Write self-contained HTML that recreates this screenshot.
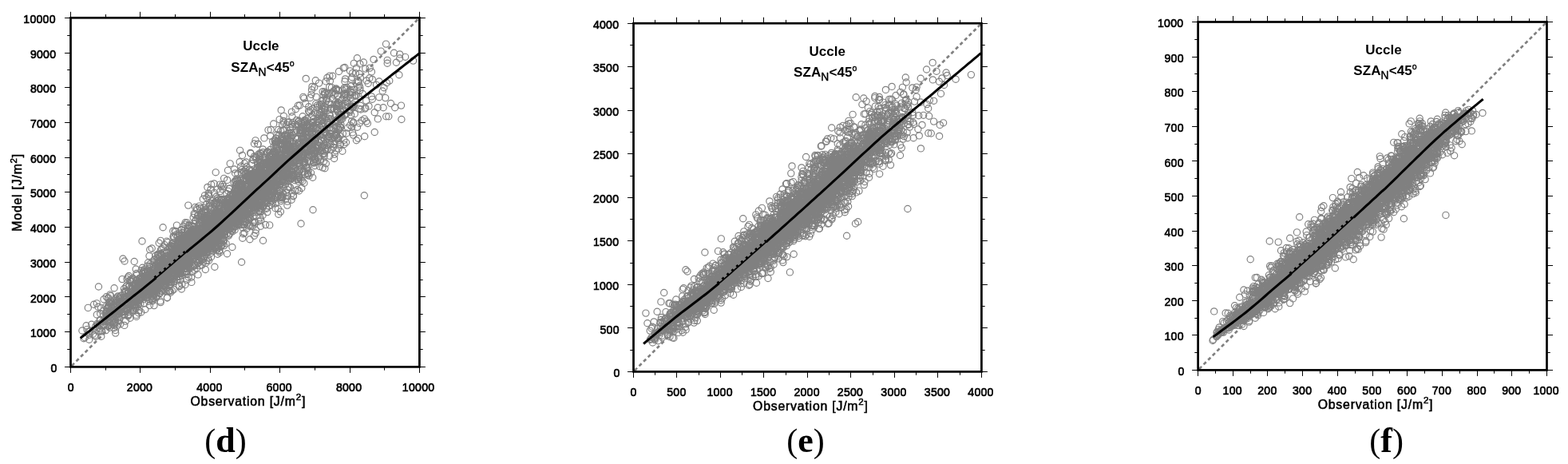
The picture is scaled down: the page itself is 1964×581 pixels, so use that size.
<!DOCTYPE html>
<html lang="en">
<head>
<meta charset="utf-8">
<title>Uccle model vs observation scatter plots (d)-(f)</title>
<style>
html,body{margin:0;padding:0;background:#fff;}
body{width:1964px;height:581px;overflow:hidden;}
svg{display:block;}
text{font-family:"Liberation Sans",Arial,Helvetica,sans-serif;fill:#000;}
.tl text{font-size:15.3px;letter-spacing:0.3px;stroke:#000;stroke-width:0.7px;}
.at{font-size:15.8px;letter-spacing:0.8px;stroke:#000;stroke-width:0.55px;}
.at .sup{font-size:11.5px;}
.an{font-size:17px;font-weight:bold;}
.an.sz{letter-spacing:0.1px;}
.an .sub{font-size:13.8px;font-weight:normal;stroke:#000;stroke-width:0.45px;}
.an .deg{font-size:10.5px;font-weight:normal;stroke:#000;stroke-width:0.4px;}
.cap{font-family:"Liberation Serif","Times New Roman",serif;font-size:42px;}
.cap .b{font-weight:bold;font-size:44px;}
</style>
</head>
<body>
<svg width="1964" height="581" viewBox="0 0 1964 581">
<defs>
<marker id="m" markerUnits="userSpaceOnUse" markerWidth="12" markerHeight="12" refX="6" refY="6" viewBox="0 0 12 12" overflow="visible"><circle cx="6" cy="6" r="4.1" fill="none" stroke="#808080" stroke-width="1.15"/></marker>
</defs>
<rect width="1964" height="581" fill="#fff"/>
<g id="plot-d">
<line x1="88.5" y1="459.4" x2="525.4" y2="22.3" stroke="#808080" stroke-width="2.7" stroke-dasharray="4.4 3.5" stroke-dashoffset="-2"/>
<path d="M309.6,253.2 297.6,272.8 292.3,251.7 349.7,214.3 264,305.7 249.5,309 288.2,204.8 270.3,310 219.3,322.6 200.4,321.6 347,185.5 499.9,93.7 247.3,318.1 339,218.7 189.6,353.8 324.7,222.5 167.2,388.9 212.9,334.7 296.5,260.1 389.1,181.8 190.4,347 350.1,149.6 364.4,185.5 249.4,258.1 293.6,241.7 218.2,297.7 304.6,241.5 209.9,303.6 284,251.6 442.2,130.6 358.9,174.9 291.3,262.6 193.7,351.7 284.6,279.3 242.7,311.2 390.6,192.8 330.8,212.1 156,372.7 330.1,226 420.8,169.4 143,407.2 137.5,403.9 403.3,126.2 261.4,277 250.1,291.5 401.3,174.9 263.9,237.4 380.8,186.7 288.4,261.6 230.9,318.2 372,156.9 226,320.6 352.9,217.8 215.6,364 352.7,227.8 236.5,281.7 299.7,259.6 253.5,267.2 268.3,296.1 224.2,322.6 326.1,265.1 302.1,215.8 451.4,97.2 232.9,340.5 249.9,291 192.1,355.1 303.6,271 233.2,339.4 367.3,207.5 324.5,240.6 243.8,338.2 386.7,133.7 152.7,376.6 307.9,226.6 419.9,159.9 274.4,256.7 369.1,186.6 254.2,305 319.9,197 137.9,394.1 191.4,341.6 416.5,116.3 284.8,271.6 132.7,392.6 379.1,145.7 188.7,364.7 447.5,159.3 214.1,328.4 237.3,316.8 241.2,312.1 315.4,249.3 195.6,341.1 208.5,325.2 395.6,188.7 374.9,215 253.2,283.4 294.8,245 210.9,342.6 303.7,254.3 276.1,277.1 369.3,193.9 180.2,365.3 228.8,327.8 259.8,303 300.6,266.2 440.8,159.3 332.7,205.5 295.6,262 309.6,262.4 250.9,309.3 327.9,255.8 347.4,247.1 209,346.7 302.1,281.4 225.7,311.1 363.5,234.5 219.2,337.9 209.1,316.5 389.2,177.6 269.1,294.9 348.7,226.3 403.9,154.9 392.7,202.3 320.7,219.3 411.5,170.5 173.1,368.5 300.6,249.3 216.1,309.6 252.9,299.3 228.9,315.4 184.4,362.4 270.7,246.5 299.7,261.3 338.1,200.9 257.2,265.5 462.9,97.7 319.2,278.4 425.7,158 326.2,220.3 338.5,209.2 189.5,340.9 244.7,313.1 262.9,293.8 239.2,298 351.4,237.4 276.7,293.8 305.1,252.8 366.9,218.7 323,180.3 234.3,327.2 363.2,200.5 269.4,311 482.7,122.6 231.4,323.5 206.2,347.2 229.5,331.7 238.3,303.8 348.8,268.2 261.5,302.5 298.7,274.7 295.3,272.1 267.6,297.5 388.4,122.4 274.7,286.6 300.9,248.2 349.6,218.4 143.1,392.3 254,299.8 333.9,261.2 280.6,263.3 423.3,172.3 296,233.1 319.8,222.3 194.3,347.6 218,345 322.7,209.4 242.7,298.8 338.4,219 397.3,151.6 175.4,363.8 303.4,270 203.5,332.6 377.8,192.9 359.2,216 227.8,319.7 275.7,270 346.3,195.8 362.5,219 259.8,297.4 360.2,222.7 253.7,297.6 313.7,261.3 122.2,407 196.7,362.1 258.2,262.9 414.3,168.1 158.5,377.7 372.2,224.6 297.2,267.6 245.2,289.2 250.6,260.7 295.6,260.3 370.3,182.9 304,263.4 206.8,343.9 260.1,273.5 369.3,239.1 305.1,238 348.1,191.1 353.6,208.6 367.8,220.7 411.4,148.2 304.5,260 138,396.9 210.9,326.6 391.9,171.4 226.3,312.4 251.7,308.4 253.8,311.6 190.2,311 189.3,358.2 217.9,335.8 222.6,325.8 364.8,220.4 250.1,280 277.1,277 269.1,253.4 333.5,228.5 361.8,153 269.9,280.8 205.5,349.4 361.1,193.8 237.1,310.8 277.2,303.9 159.1,370.7 320,226.3 265.7,296.3 213.9,355.9 318.5,277.6 192.8,345 352.9,170.5 330.9,172.9 190.4,354.5 356.6,177.8 479.2,114 145.9,392.4 421.2,131.9 326.6,265.8 172.1,364.8 303.5,194.4 157.6,375.1 169.9,380.8 232.5,316.1 310.5,233.7 273.9,249.8 289.1,267.4 147.2,372.1 314.1,237.1 215.6,325.5 328.7,258.1 111.6,415.6 286,255.8 298.8,266.2 222,343 165.8,361.6 293.7,274.1 185.5,352 237.3,308.6 425.6,149.8 278.7,237 263.7,293.1 342.7,200.8 240.3,312.7 201.6,351 335.2,190.2 460.4,154.5 205.7,324.8 314.3,251.4 394.1,193.5 338.6,191.4 298.6,247.6 123.5,359 222.7,303.6 242.6,310.3 246.3,298 365.1,205.2 183.8,350.2 379.4,163.7 226.9,316.2 202.6,342.8 227.6,320.9 149.2,382 135.9,401.8 145.3,374 340.4,203.1 234.6,328.4 142.5,410.8 307.6,274.5 391,108.4 104.9,423.7 450.3,154.2 293.1,228.4 456.3,244.7 218,331.1 404.3,192.6 352.7,214.5 293.8,263 227.8,326.4 221.7,341 407.3,116.5 339.3,215.4 359.9,237.4 433.9,167 204.1,284.7 225.5,309 290.2,268.2 227.3,300.8 222.4,329.9 161.5,358.7 303.8,298.2 196.7,365.7 357.8,186 195.2,345.7 342.3,231.6 353.4,183.5 187.7,312.5 282.1,257.2 281.7,272.9 166.8,369.9 311.2,262.3 162.4,351.8 353.7,156.1 286.8,278.8 338.1,224.5 421.4,168.5 325.9,215.2 134.2,385.8 164.5,350.2 239.1,298.6 209.5,315.8 379.8,182.8 179.8,350.7 297.3,279.5 404.8,172.6 381.9,202.6 258.7,299.1 277,284.5 270.2,215.8 366.6,208.4 277.5,269.9 298.8,261.1 227.4,305.3 193.8,356.6 288.4,278 281.4,294.1 257.6,298 190,363.8 312.5,260.7 279.6,301.3 328.3,221.7 121.3,394 394.6,173 350.1,197.3 311,249.7 239.7,347.2 339.9,213.9 152.8,384.8 174.1,348.8 256.9,298.7 415.2,136.2 236.5,330.4 276.4,309.2 161.4,345.5 243.1,267.5 310.4,254.2 147.1,388.8 330.2,218.4 276.9,271.5 345.2,254.8 197.4,350.7 376.6,153.4 263.8,281 222.1,325.3 272.3,237 233.6,325.7 272.6,248.3 176,363.6 354.6,207.5 200,358.2 346,231 412.9,141.8 224,338.4 263.4,274.9 231.6,335.7 351.6,246.3 343.1,228.5 372.5,224.4 281.6,290.7 289.5,251.6 226.4,337.4 337.7,281.9 419.1,193.1 219.4,330.4 299.7,258.2 185.5,329 251.1,299.2 367.6,189.9 420.4,151.3 290.2,265.8 292.8,279 271.1,270.6 367.9,198 356.1,210.7 151.3,370.3 178.6,353.6 276.4,285.8 343.7,218.6 355.5,203.4 312.7,260.5 258.5,256.3 271.7,255.7 335.4,221.9 211.4,332 189.7,346.7 347.5,205.1 264.3,275.6 361.2,180.5 473.3,148.9 207.4,351.5 187.5,358.6 257.8,329.3 299.4,269.6 197.4,339.5 303.1,241 229.5,309.4 226.4,330.4 362.7,183.4 331.7,209.3 201.2,378.6 241.4,315.1 248.6,329 252,288 198,352.7 229.8,332.5 289.3,252.2 200.4,330.5 238.5,293.1 204.7,352.2 241.7,294.6 355.4,145.3 194.5,365.5 233.7,298.9 370.2,166.1 412.8,143.6 406.2,195.4 269.6,297.6 275.7,286.4 171.4,351.4 313.7,191.4 152,391 406.4,192.1 229.2,316.1 277.1,277.5 228.1,309.8 406.6,189.1 357.8,214.3 190,358.5 381.9,187 312.5,240.3 266.7,288 315.3,253.9 252.6,325.6 318.4,262.3 111.7,425.3 338.4,222.4 197.8,355.7 292.6,242.8 342.7,248.8 355.5,153.8 358.6,204.1 194.2,334.3 264.5,296.2 226.6,340 150.8,405.7 366.5,169.4 169,355.3 166.3,361.9 320.7,239.6 208.9,337.9 285.6,258.9 303.5,263.5 246,309.3 214.7,320.5 214,308.3 271,282.5 339,203.7 417.6,184.2 281.1,277.5 235.7,306.2 226.3,328.1 333.5,247.7 148.2,392.8 335.8,222 330.6,234.5 313.9,253.4 315.2,240.8 280.8,285.6 188,362 224.4,292 207.5,331.2 291.2,274.1 147.6,383.1 292.2,283.7 189.4,346.1 215.7,333.5 270.8,284.2 342.8,239.2 349.4,237.6 133.8,396.5 206.9,345.1 197.4,361.6 208.8,329.2 318.3,259.4 217.9,320.8 256.3,311.7 157.1,390.5 208.4,325.7 254.1,291.2 316.9,221.2 230.6,320.9 277.8,287.8 306,238.8 352.7,172.6 146.4,383.4 323.5,232.4 439.9,99.1 381.6,185.2 351.4,265.1 315.5,257.5 300.2,250.3 314.3,242.5 234.8,289.1 326.1,227.8 263.2,262.9 361.7,205.3 231.1,322.3 318.6,229.5 258.9,289.4 340.1,237.9 311.9,238.9 314.5,241.1 262.3,300 239.9,320.8 268,286.8 202.4,350.6 153.6,376.6 175.7,364.1 197.3,350.1 443.7,112.2 335.9,222.6 378.3,183.2 265.4,297.9 246.8,298.7 387.1,178.1 208.6,320.9 243.6,314.3 211.6,340.4 385.2,217.9 216.2,305.4 188.1,368.6 187,360 390.7,167.2 260.2,281.8 226,350 375.2,213.1 221.7,332.9 390.9,153.7 232.9,309.6 404.6,181.8 435.6,160.1 249.4,326.6 276.5,266.8 391.6,176.6 304.2,285.2 297.1,255.7 192.8,345.5 323.1,237.6 334.4,232.9 313.1,212.4 257.1,296.8 285.6,258.2 310.8,267.1 332.2,230.4 192.2,369 296,230.5 314.5,218.6 379.1,165.9 254.7,324.1 296.5,279.3 323.6,193.2 332.7,222.9 352,244 423.7,173.7 198.3,335.8 258.7,284.9 375.9,199.8 182.7,363.4 233.5,329.1 366.4,196.4 327.3,208.6 186.2,361.3 170,372.4 446.5,85.1 210.8,346.9 280.8,259 324.1,277.3 234.2,295.1 258.5,301.7 203.5,350.1 325.7,204.6 286.5,284.4 266.4,294.2 240.2,340.8 432,117 438.2,140.3 374.1,197 371.4,194.8 293.5,212 192.1,336.7 427.2,149.8 268.2,254.9 253.3,291.7 244.8,308.2 234.3,301 316.9,271.3 184.2,350.5 142.2,404.8 310.9,248.5 237,309.8 241.9,299.2 326.5,260.1 329.2,186.9 317.5,216.3 353.6,227.3 188.6,348.1 214.6,330.4 281,289.9 218.3,336.5 399.6,104.1 411.5,127.7 392.6,149.2 317.5,246.5 377.5,174.5 226.1,307 266.2,267.4 189.6,353.7 368.5,206.9 274.9,265.6 227.4,345.1 329.1,269.5 231.8,287.9 247.4,299.4 256.5,292.4 350.3,231.8 238.2,311.8 298.9,241.4 220.4,294 194.9,354.9 125.9,401 381.6,185.2 226.7,332 334,227.3 441.6,165.9 313.5,251.7 397.6,185.1 149.7,400.3 197.8,318.3 358.3,178.6 356.8,181.8 281.9,290.9 282.8,269.3 386.4,154.9 372.8,190.6 404,144.9 296.4,274.3 176.6,368.5 355.1,228.3 284,278.3 220.6,329.6 341.7,177.1 366.1,215 341.3,210.8 222.1,297.5 423.5,140.2 222.4,305.5 423.4,112.8 448.6,173.3 332.4,246.6 348.9,223 252.9,303.2 258,266.4 278.9,280 312.6,257.5 246.4,302.3 193.2,350 423.7,128.4 326.6,227 231.7,311.8 454.3,117.5 183.9,358.2 363.8,197.1 272.9,292.5 356.2,201.3 230.7,313.8 234.2,295.8 178.1,349.8 255.4,301.8 328.9,233.4 302.5,253.2 186.9,357.1 191.8,344.5 250.7,304.5 326.3,244.3 181.9,362.5 345.5,173.6 269.7,299.8 139.9,390.1 232.7,317.5 362.4,207.8 310.4,259.9 367.2,196.8 240.5,308.5 147.1,392.4 319.7,229.4 232.1,278.7 163,384.5 352.5,183.4 221.4,282.1 337.4,195.5 340.5,221.7 329.1,224.2 250.5,296.6 258.6,272.5 263.3,305.7 290.4,283.5 193,328.1 420.7,188.8 449.8,136.1 186.6,359.5 231.4,294.5 145.9,376.5 295.8,278.9 182.5,348.8 139.2,391.5 231.7,297.7 382,168 140.5,386.2 356.7,168.9 274.1,308.7 363.4,179.9 320.2,246 300.2,255 188.6,367 432.8,135.5 343.3,249.7 200.1,367.7 403.7,158.1 257.3,337.5 379,161.7 423.3,140.1 405.3,169.2 297.1,267.2 217.5,306.7 418.1,118.7 312.3,247.4 216.7,340.1 298.5,257.1 114.7,406.2 297.6,270.3 320.1,241.2 424.9,162.4 338.6,170.2 281.2,254.1 241.9,296.2 252.1,315.7 237.6,294.6 183.6,356.9 251,309.2 344.3,197.2 338.8,199.6 211.4,338.7 351,206.4 354.2,225.7 404.1,114.7 259,314.3 189.3,358.9 320.3,265.6 285.5,266.8 397.4,134.5 332.8,219.9 132.7,383.9 149.5,374.5 344,229.1 438.9,122.5 325,194.6 254.3,303.7 271.2,279.7 251.6,301.4 238.9,318.2 294.4,239.2 326.3,220.5 340.6,192.9 298.9,280.6 350.2,206.8 338.6,211.3 245.5,300.3 283.2,278 156.1,364.9 330.9,241.8 359.6,192.9 338.3,221.6 316.6,283.1 254.9,306 322.8,241.4 231.9,356.4 257.3,262 336.3,227.5 303.5,262.4 292.6,279 260.5,283.7 216.8,326.5 344.7,228.6 202.6,336.2 257.4,301.2 234.4,322.5 295.3,263 290.3,254.7 327.9,215.5 395,198.2 261.6,243.6 343.4,198.8 191.6,346.5 261,295.2 344.1,213.4 184.6,356.7 183.5,348.3 299.9,259.7 192.8,367.4 379.7,170.4 242.6,305.2 256.5,313.8 227.4,362 392.3,203.8 239.2,305.7 290.3,273.5 316.3,232.9 152.8,379.2 305.4,225.1 272.5,279.7 234.5,319 364,162.8 365,170.6 413.3,167.1 167.6,388.1 344,215.7 331,224.6 264.5,262.4 256.1,311.2 339.4,210.7 265.9,288.5 323.9,221.5 243.6,298.4 275.8,282.9 174.7,370.2 318.7,251.8 321.6,246.2 465.4,89.9 305,252 301.2,265.5 245.5,314.1 137.7,379.2 265.9,279.7 213.6,323.9 381.3,193.8 496.4,78.2 442.2,134.2 327.1,246.4 250.6,300.6 328.9,216.6 260.1,287 241,315.6 342.3,208.9 444.8,119.2 210.6,353.4 214.3,322.7 313.1,274 344.1,191.6 220.9,322.9 385.1,157.1 400.3,208.4 333.5,260.2 196.1,346.3 153.5,377.4 426.4,180.5 385.5,216.8 320.5,249.5 311.4,225.2 207.8,344.1 230.8,294.9 269.4,308.2 254.3,300 274.4,273.7 376.2,211.6 234.3,319.6 420.8,112.4 158,373.4 232.4,301.9 439.6,108 164.8,352.7 169.1,370.7 315.9,230.3 355,163.6 286.8,278.1 271.6,308.6 431.6,142.9 229.6,283.4 338.4,187.5 299.1,252.8 438.5,156.8 177.9,351.6 347.2,204.1 179.1,341 298.3,235.9 354.5,197.6 200.4,332 339.1,251.8 322.2,244.4 254.9,301.7 346.2,214.7 272.5,297.6 418.6,177.6 202.6,334.7 325.5,195.9 256.6,288.3 382.8,207.4 210.9,337.3 423.8,131.5 330.1,238.9 221,336.1 211.6,350.7 213,364.2 353.5,206.7 224.5,335.7 199.1,318.6 332.7,208.1 301.2,261.7 420.2,152.4 229.8,325.2 157.4,402.1 308.2,255.2 344.6,246.9 330.2,239.4 438.9,115.1 207.3,339.7 255.9,321 196.8,345.7 204.7,335.5 195,344 295.2,244.2 430.9,119 289.7,273.1 365.7,219.7 258.7,316.7 238.5,298 271,290.6 325.1,209.2 351.1,237.9 344.8,234.7 130.4,406.7 282.5,249.5 415,130.8 324.2,213.4 146.6,389.8 227.9,356 180.6,339.4 316.4,230.4 133.8,402.2 393.1,188.8 350.5,218.9 291.2,265.6 194.3,349.9 272.5,292.7 223.9,336.3 424.5,89.5 169.5,374.3 373.9,187.7 126.5,385.6 373.3,217.1 140.1,394.7 343.1,239.2 283.1,304.9 350,191.1 391.2,160.8 259.9,296.2 281.2,293.7 404.9,125.2 252.4,266.2 317.1,229.9 298.9,259.8 224.3,324.7 323.9,255.9 217.4,332.2 206.1,341.1 265.8,282.1 329.7,258.6 351.9,194.7 229,302.8 300.3,264.9 343.5,228.6 220.8,327.3 215.1,327.2 323.7,239.3 268.1,277.3 281.3,280.6 367.9,197.3 234.6,306.1 184.1,353.1 249.1,308.9 247.1,300 274.9,313.6 229.2,329.3 336.7,258 275.5,231.1 245.8,292.5 385.2,159.9 264.5,308.6 196.9,356.6 249.5,313 302.5,270.2 234.4,324.3 318.6,241.5 400.4,140.9 406.5,115 384.7,197.2 149.4,372.9 116.5,418.3 363.4,169.8 236.2,330 148.3,397.4 354.4,172.9 416.6,95.2 420.3,117.4 311.5,242.7 386.9,178.7 178.7,372.2 280.3,279.5 330.9,221.9 395.4,161 338.9,217.8 228,291.8 249.6,310.4 129.4,406.1 221.6,347 178.3,342.3 301.9,270.3 474.9,102 338.9,203.2 228.7,341.8 360.7,218.2 440.6,151.8 410.1,153.4 179.1,374.8 304.2,237 247.5,295.5 367.9,203.2 213.6,366.2 244.7,318.7 463.2,85.1 254.7,303.8 248.1,294.6 226.1,323.5 340.4,208 198.8,350.7 198.5,350.3 186.8,364.8 222.7,338.9 314.7,243.4 415.4,109.6 206,347.5 457.7,86.1 334.6,202.6 196,350.6 337,237.3 367.6,198.4 402.4,130.5 307,261.3 380.1,153.2 154.4,393.2 385.1,157.9 229.3,305.7 202.3,339.8 294.2,270.9 393.7,109.2 221.5,349.8 350,214.6 295.6,258.9 173.5,391.7 211,342.4 273.3,283.7 294,253.4 333.2,243 367.6,219 339.7,194.3 279.9,261.9 137,394.7 308.7,253.5 171.8,378.8 231,340.5 465.4,120.9 233.6,307.8 291,276.1 235.2,297.9 342.6,233.7 428.9,189.2 225.4,321.1 432.8,112 399.8,178.5 192.5,349.2 394,173.5 322.9,260.2 192.2,351.4 295.2,231.7 188,359.9 233.3,322.5 203.2,335.1 379,190.6 263.3,270.7 216.4,320.8 378.4,211.3 328.5,236.1 323.6,229.5 176.9,368 311.3,251.8 142.1,396.9 232.5,299.2 296,245.5 242.9,303.5 218.4,329.3 202.4,346.7 212.8,353.1 365.3,140.1 214.6,353 234.1,326.6 294.7,267 305.1,216 382.1,218.1 406.9,210.8 272.8,301.6 202.8,318.8 194.7,320.3 163.3,388.5 234.5,297.7 320.4,222.7 309.4,232.4 284.6,285.6 402.7,144.3 264.7,231 281.5,257.1 156,366.6 377.7,197.7 172,360.6 272.1,268.6 220.1,327.9 385.3,210.7 205,358.2 378.9,196.7 318.7,195.6 330.5,240.6 311.1,251.2 191.5,370.8 157.7,373.3 381.5,151.9 193,349 247.8,294.2 275,266 336.5,221.2 502.9,149.5 229.8,336.2 334.1,240.2 283.4,269.7 279.7,284.5 352.1,212 313.8,218.7 364.5,193.5 397.4,190 298.6,257.4 274,291.6 291.2,262.6 326.4,236.2 365.2,242.4 338.8,237.5 259.9,234.4 343.4,240.3 322.3,240.3 189.5,351.8 366.4,195.6 226,309.5 204,316.5 431.2,117.8 170.1,362.2 410.2,117.8 391,174.1 339.6,238.5 339.5,215.2 243.1,312.7 160.1,395.6 315.1,230.3 206.7,359.4 164.8,373.8 284.9,281.2 238.4,313.5 231.2,299.1 203.5,325.7 375.5,201.8 189.3,342.4 360,191.5 326.2,222 306.9,246.8 302.1,243.8 250.2,332.5 275.9,273.6 409.5,150.9 306.6,262.7 253,331.9 421,110.9 248.1,289.6 230.6,303 255.2,304.7 259.7,308.1 387.7,176.1 134,402.1 294.6,256.2 345.5,205 330.2,216.7 168.6,372.2 205.6,351.8 156.7,371.1 302.1,243.5 395.5,172.9 187,320.5 337.7,228.9 381.6,202.8 271.2,285.7 356.3,219.1 137.9,368.9 209.5,337.4 443.3,79.3 284.1,292.6 192.9,354.6 322.9,202.3 190.5,342.1 318.1,224.4 205,329.4 166.5,385.8 160.2,364.2 239.5,313.4 375,222.2 226.8,322.4 466.3,99.4 348.8,162.5 294.9,265.4 273.3,306.4 329.5,204.7 319.6,243.6 174.1,355 331.7,237.8 219,335 228.4,326.8 288.7,262.9 366.7,153.3 260,275.1 389.5,187.4 389.6,180.2 261.7,301 124.8,411.4 322.8,219.3 239.9,353.4 246.5,300.9 287.3,248.5 171.6,376.8 277.5,291.9 314.9,204.7 374.2,224.9 278.4,277.3 281,288.6 331.2,228.9 234.5,340 169.6,378.8 275.2,295.5 241,289.6 209.4,335.4 327.9,233.1 179.9,357.8 392.1,153.2 301.7,208.2 381.5,150.3 163.8,374.1 266.6,290.6 339.9,203.9 243.4,315.1 385,169.2 417.8,180.2 322,225 347.7,176.9 360.4,182.5 325.1,212 173.9,357.7 217.2,295.7 271,289.6 401,202.1 270.3,274.9 319,240.9 232.4,309.3 338.2,216.2 344.8,208.8 341,205.1 238.3,301.5 208.1,320.9 318.6,253.3 149.5,374.7 219.8,290.2 394.9,173.5 435.1,128.1 422.2,137.1 234.1,332.4 287.2,274.1 133.2,371.8 188.5,353.8 375.4,132 135.8,372.9 404.1,148 386.7,172.8 312.7,251.5 298.5,231.8 278.6,288.5 232.9,322.8 297.2,270.2 267.4,288.5 483.7,145.8 296.8,224 305,267.4 274.5,260.8 276.4,273 151.6,387.2 397.6,142.3 326.8,237.2 242.2,272.4 291.3,276.7 247.5,329.2 339.7,209.5 322.6,237.7 290.8,270.3 355.9,225.5 353.7,247.9 297.1,274.8 217.9,328.6 134.8,386.2 268.2,229.9 238.4,334.6 166.9,375.7 391.7,222.3 322.8,219.1 290.5,269.5 338.7,224.2 284.5,256.3 410.8,186.7 406.9,117.7 246,287.4 326.8,249.2 354.9,202.3 295.7,268.2 220.7,322.2 330.7,239.8 344.6,232.1 415,187.4 248.4,318.6 227.6,332.2 395.9,202.5 451.9,137 285.6,280.2 182,365.4 191.4,350.4 214.6,337.9 428.1,131.8 357.6,230.7 344.3,177.1 317.2,254.2 346.2,218.6 301.8,244.1 136.9,391.2 205.7,332.1 289.4,258.2 236.7,318.6 345.8,211.9 166.4,348.2 355.5,212.5 173.1,361.8 190.3,365.9 267.4,291.8 222.9,338.3 408.2,165.8 236.5,282.3 383.8,209.3 278.2,270.1 292.2,276.1 502.5,132.1 234.4,307.3 370.3,136.8 206.1,306.6 274.2,285.2 178.9,356.2 517.6,76.1 202.2,348.4 343.4,232.9 453.3,151 458.6,126.1 235.2,290.5 334.2,220.5 329.6,225.6 257.8,294.7 239.3,297.7 338.7,230.5 390.5,112.6 236.4,324.5 192.1,334.8 359.4,183.3 294.7,242.7 184.9,364.8 278.9,298.8 340,226.5 429.4,167.3 304.5,259.7 214.8,332.1 290.3,277.1 266,288.9 444.3,142.5 324,243.8 351.4,194.7 262.5,307 333.7,219 149.8,390.8 229.7,324.5 406.6,166.5 223.1,330 298.6,276.2 148.7,393.4 357.3,217.6 314.3,229.6 261.5,290.9 374.9,162.8 125.1,400.9 211.7,365 324.2,258.1 130,402.9 352.2,181.1 275.6,291.5 224.5,304.8 325.4,238 234.1,328.3 258.5,315.6 284.7,251 348.5,225.4 207.7,320.5 237.5,306.7 298.2,247.9 307.6,260.2 413.3,178.6 271,299.9 195.9,326.8 412.3,156.4 287.3,278.8 304,258.4 299.2,256.1 181.5,357.2 246.3,300.3 246.4,324.8 357.5,206.8 198,334 356.2,226 362.2,201.6 208.2,355.1 333,224.4 237.3,295.4 293.7,252.8 197.5,329.2 328.3,245.4 313.5,273.2 280.2,233.6 168.8,382 326.6,239.7 369.8,190.7 340.7,251.6 307.2,278.3 308.4,256.2 249.1,309 306.5,246.2 347.9,245.7 257.5,294.9 277.1,289.5 255.1,311.8 262,270.4 307.8,232.1 319.8,246.3 425.5,170.4 306.3,235.9 375.4,198.3 201.3,338.6 271,264.4 306.5,258.2 166.9,375 145,394.7 395.1,176.5 421,112 202.5,336.8 264.1,311.8 235.8,290.1 263.6,296.4 386.1,195.9 256.5,299.4 170.8,342.5 304.9,245.9 342.7,198.8 264.1,308.8 316.7,227.4 302.9,263.1 410,138.2 234.3,320.6 224,318.6 225.3,346.1 196.9,348.2 282.6,253.3 242.1,333.3 320,248.2 330.7,228.9 366.3,158.5 189.3,347.1 228.7,309.9 269.7,271.8 278.2,273.2 364.8,222.5 376.4,163.4 303.1,230.7 367.3,245.8 376,183.7 358.9,205.8 308.4,277.5 240.5,282.7 181.8,358.1 256,311.6 180.2,352.1 418.3,171.7 215.9,341 328.8,237.7 254.3,249.2 268.1,301 343.8,215.9 227.3,288.2 195.4,345.1 387.4,160.6 275.8,239.6 177.1,338.8 473.2,134.7 381.3,188.1 317.8,243.2 169.2,358.9 239,321.3 274.5,314.2 365.3,166.2 383.4,192.7 223.2,336.6 345.5,180.7 287.5,235.9 224.1,343.2 244.3,307.1 339.2,162.5 280.8,307.6 365.1,224.3 286.3,255.2 220.6,338.2 298.8,262 152,390.7 237,322.8 391,185.8 422,130.9 312.3,251.9 280.6,223.3 192.8,339.6 320.5,218.9 304.8,274 400.1,143.9 396.6,159.8 270,286.4 176.7,391 394.5,199.8 196.7,342.4 249.6,281.7 241.1,293.8 301.3,251.9 334.4,220.3 370.6,219 200.1,357.7 431,180.8 424,148 225.3,328.8 350.9,192.9 246.5,303.6 231.3,314.3 164.8,380.6 244.5,312.6 393.1,157 422,158.7 251,286.7 210.9,354.2 304.9,236.9 213.1,332.5 345.5,231.3 395.4,161.8 224.5,321.9 484.4,103.7 270.4,306.7 387.6,183.3 327.3,225.9 234.3,278.9 311.3,262.7 403.6,183.3 256.2,274.8 262.3,299.2 339.8,242.7 316.7,223.7 351.4,219.9 219.4,322.8 146.5,408.2 394.9,179.4 165.9,372.7 306.2,291.7 255.2,295.9 442.7,153 367.9,210.7 217.2,296.9 308.7,244.4 255.6,291.4 209.1,344.5 181.9,364.4 230.3,301.9 233.5,333.3 317.4,258.4 325.8,260.9 258,312.1 147.5,371 148.1,401.2 161.1,393.4 410.5,153.7 241.3,309.7 305.4,280.9 232.2,326.2 309.2,252.9 139.2,384.3 151,380 304.6,237.2 362,233.9 111.8,419.3 242.7,283.4 150.8,372.3 324.7,222.5 369.9,172.8 230,325.7 295.7,231.6 273,269 421.4,137 331.7,241.9 374,152.5 218.7,314.8 320,223.1 469.2,140.7 284.3,257.9 294.8,262.7 196.2,371.3 173.2,369.2 160.5,387 311.8,232 256.2,321.2 187.1,365 136.5,382.7 181.5,350.8 239.4,300.9 161.9,370.8 259.4,303.4 302.6,328.3 252.3,288.8 457.8,135 251.3,316.8 362.7,195.3 341.5,206.8 338.7,196.1 328,236.5 402.3,185.5 313.8,245.3 205.9,364.4 201.4,332.9 353.1,202.1 153.2,384.4 230,322.2 297.9,245.1 224.2,323.3 331.2,230.3 205.5,338.1 299.1,246.6 319.5,260.6 220.5,313 254.7,281.7 325.6,254.2 300.1,229.2 295.6,274.9 286.3,286.3 286,275.1 239.5,315 184.9,339.9 273.1,302 328.6,232.4 175.9,365.2 252.4,286 294.5,265.1 387.6,166.8 306.5,256.6 218.3,309.1 303.4,253 343.5,202.8 311.5,255.9 396.2,168.2 174.7,369.4 243.9,313.5 413.4,145.2 363.6,175.8 282.4,278.8 344,198.2 450.3,107.5 317.6,250.6 166.8,364.1 228.9,325.4 251.8,315 146.9,375.5 257.7,281.5 322,233.7 377.4,179.2 369.1,185.2 282.4,275.7 286.6,249.5 335.1,239 266.1,270.5 268.2,263.1 247.5,291.6 358.2,209.5 226,303.8 263.6,299.5 197.7,319.1 297.9,257.7 221.5,316.7 313,268.2 185.9,369.1 206.2,329.9 355.1,243.2 229.1,319.4 318.2,234.9 312.9,251.1 239.2,320.1 286.4,295.2 332.6,281.5 258.8,316.9 280,291 198.2,345.9 348.1,209.8 202.4,339.5 287.3,236.6 393.5,188 343,240.4 217.1,317 360.4,245.5 314.1,192.2 205.7,334.9 440.6,115.6 377.3,197.2 350,239.6 348.4,227.6 249.1,299.4 459.1,101 278.6,274.3 309.1,268.3 171.1,376.7 205.3,347.9 191.1,339.5 400.6,131.3 244.6,300.6 351.3,204.6 256.3,276.3 283.4,275.1 247.3,305.7 164.7,378.9 238.3,307.2 173.8,376.1 320.4,244.9 322.8,243.9 153,349.6 220.5,331.6 241,292 160.9,370.3 227,312.8 161.2,378.5 376.9,225.5 165.9,381.5 393.4,204 186.1,359.3 277.5,269.4 264.9,277.2 380.6,192.2 295.4,266.1 234.3,322.2 158.8,388.7 226.7,339.1 309,286.3 297.2,253.8 384.1,155.7 353.4,247.1 378.9,226.7 313.4,268.2 320.1,251.9 345.7,230.7 360,206.1 252.4,274.3 363.1,159.6 318.8,216 270.2,289 220.6,339 223.4,312.7 228.4,315.8 218.1,319.1 373.3,132.2 297.3,273.3 191.4,357.5 158.9,357.6 343.1,214.8 294.1,287.9 438.9,118.6 356.3,217.9 256.5,244.7 156,327 235.6,318 214.7,353.8 175,357.1 326.6,203.6 303.8,254.7 212,309.4 255.9,308.7 335.4,190.8 280.1,278.4 466.3,124.3 375.6,181.1 264.2,295.1 369.5,202.5 133.4,406.1 314.2,218.9 337.6,244.5 173.6,361.9 232,302 448.7,101.2 190.8,360.2 227.3,329.2 259.4,301.4 288.3,278 291.2,243.5 199.2,304.3 323.1,219.8 286.8,265.7 213.1,337.6 147.6,402.9 219.5,308.1 185.1,358.4 424.9,146.6 203.8,348.1 172.6,354.7 273.7,280.8 369.1,187.4 198.5,327.9 412.9,95.1 155.8,393.8 206.5,337.9 387,220.1 417.4,160.6 369.8,155.6 267.5,314.3 247,295.7 239.1,324.4 324.9,222.2 222.9,315.4 382.5,153.8 257.8,271.3 390.1,146.5 253.3,313.8 165,361.3 431.7,143.1 238.9,292.5 353,174.6 363.4,189.4 274.8,266.8 286.4,294 347.5,218.2 241.6,296.4 341.3,201.5 178.5,361.6 291.4,244.8 299.8,246.3 229,314.6 336.4,227.8 241.8,314.7 275.7,300.5 248.3,303.1 331.9,213.2 179.6,339.9 190.1,373.9 303,254.6 174.7,375.8 405.6,161.7 203.8,326 287.6,273.2 204.4,349.8 314.3,265.3 150.4,379.4 210.2,337.1 268.3,299.1 230.5,301.8 292.5,259.1 325,253 241,283.6 335.1,189.9 305.3,248.3 347.2,199.6 381.6,178.5 394.1,169.2 343,232.4 404.9,153.5 270.6,284.4 393.4,168.2 201.5,312.8 305,277.5 201.6,351.3 301.6,263.1 264.9,273.3 261.2,241.9 351,180.3 244.3,304.8 299,281.9 345.9,192.8 334.1,240.1 358.7,226.2 297.1,271 266.4,273.7 262.6,254.1 292.7,283.2 282.5,275.4 298.4,273.8 265.3,275.8 205.2,349.4 306.4,260.3 157.9,364.5 217.6,328.6 346.9,211.4 244,268.8 246.1,289.8 260.6,299.3 231.3,324.4 408.5,167.5 169.5,367.5 227,311.4 420.3,170.4 393.5,187.6 358.8,199.1 402.4,157 321,220.1 222.6,328.2 302.8,217.9 386.1,201.2 187.9,349.3 162.3,383.8 291.7,257.3 285.6,266.6 147.4,378 414.6,136 231.8,281.1 253.7,302.4 186.1,348.6 246.9,305.1 318,223.7 393,193 270.6,296.2 236.1,304.5 235,297 212.5,346.8 244.6,312.7 202.6,348.4 170.8,394.4 337.8,201.5 331.9,238.7 185.4,360.1 365.9,158.7 446.4,175.7 242.7,323.1 176.7,367.3 238.8,298.9 256.4,310.7 184.9,364.9 277.7,294.2 328.2,252.4 179.8,359.7 221.2,331 220.8,308.4 188.8,340.8 269.9,272.2 351.7,181.5 324.6,207.6 276.4,284.2 224.9,329 437.4,138.7 134.6,389.4 259.5,295.9 274.7,275.3 213.7,334.6 293.2,248.1 287.7,276.3 342.2,229 220.9,320.2 318.5,180 284.4,267.7 201.6,331.1 255.9,293.3 324.3,230.7 350.8,210.1 401.2,199.8 122.8,410.5 268.7,297.7 394,173.1 239.6,298.4 367,201.4 242.3,320.4 223.7,307 404.5,145.7 288.7,244.8 242.6,292.7 177.7,362.1 272.1,267.2 277.3,279.3 328.8,236 430.5,138.7 289.7,265.9 300.2,281.6 255.3,299.6 284.7,282.8 251,305.1 337.1,229.6 306.2,204.6 224.6,316.8 271.9,280.9 480.9,109.7 275,285.8 246.5,316.6 239.2,290.9 256.8,294.1 239.1,335.7 167.8,382.5 362.6,189.9 421.8,130.2 308.7,241.8 450.3,92.4 233.7,336.3 309.8,221.8 160.9,366.3 254.5,308.3 307.9,242.8 217.7,362.5 300.6,188.3 137.2,404.4 138.5,370.5 277.8,269 232.4,303.1 214.1,309 243.7,315.5 396.1,172.3 216.9,316 161.2,394.8 433.9,109.4 382.1,190.9 248.8,324 212.3,333.4 232.6,320.3 317.2,232.4 275.3,279.5 235.1,319 352.7,208.9 244.2,314.6 372.4,188.3 233.1,326.6 442.8,154.1 387.8,201.7 213.4,338.1 378.1,190.5 286.7,266.1 365.4,155.6 358.1,248.8 271.1,300.4 383.2,98.4 235.8,334.4 376.8,166.1 184.7,372.7 325.1,211.6 181.8,353.3 197.3,359.7 332.3,235.2 289,268.1 268.8,284.1 373.8,196.4 213.3,346.8 207.6,340.2 308.1,257.6 250.8,275.2 353.8,179.6 187.5,356.7 432.7,130.4 264.9,297.6 171.1,377.4 236.7,320.2 397.5,131.9 345.1,182.7 310.7,264.5 255.9,314.2 315.7,237.8 433.8,122.7 350.2,202 216.7,289.3 291.1,289.9 296.5,254.9 324.6,242.5 175,352.7 177.4,348.8 227.7,319.1 175.8,347.9 202.1,341.1 313.3,236.9 260.4,281.9 213.6,339.5 184.1,360.6 301.8,247.9 399,182.8 305.8,267.6 221.6,329.1 248.5,269.6 351.7,163.7 216.5,314.2 357.2,193 333.7,219.7 299.3,244.8 265.3,275 252.6,314.8 325.9,191.6 210.3,327.5 181.3,342.6 357.1,221.4 190.8,347.6 347.1,220.6 203.4,348.1 263.1,277.4 161.8,369.5 212.3,328.5 255.9,314.1 273.1,280.4 314.4,255.1 193.2,362.8 140.2,390.9 375.7,190.4 169.2,360.8 196.1,348 280.3,302.1 401,168.6 265.1,308 329.2,206.1 274.4,303.8 296.4,277.1 185.1,339.3 364.6,207 327.7,215.8 396.6,166.6 127.9,414.9 329.6,204.5 266.9,295.4 414,159.3 447.4,72.7 190.4,368.2 257.4,286.3 187.6,333.2 217.9,332.6 289.9,276.8 258.9,247.6 318.5,239.5 366,211.8 227.2,293.9 408.9,124.1 251.4,305.6 392,136 362,181.7 203.3,346.2 339.1,196.2 263.7,296.5 330.7,230.1 246.2,310.4 251.7,268.7 399,197.8 313,264.9 369.7,210.8 393.6,175.8 507.6,71.3 400.5,159.2 288.6,265.3 371.8,195.2 247.7,269.9 367.5,177.3 369.1,188 261.5,312.3 390,161 431.9,84.5 406,136.1 253.9,316.7 412.7,108.7 426.3,160.1 183.5,344.5 288.5,274.1 359.1,193.9 322.3,238.6 292.7,256.6 244,295.4 242.5,304.2 353.4,245.4 365.9,145.7 368.1,191.7 224.2,301.2 367.7,179.8 262.9,283.9 290.9,309.5 233.8,325.6 355.4,201.8 249.9,311.8 212.9,331.4 326.2,240.3 303,264 306.8,249.2 253,271.1 328,243.8 357.3,193.2 376.7,197.2 350,231.1 263.6,261 136.9,384.6 385.7,187.8 320.6,212.9 200.7,356.4 330,228.2 276.4,283.1 348.9,213.9 190.2,355.3 256,266.4 155.8,389.7 342.7,155 296,266 375,193.4 283.3,264.7 380.5,214.9 268.4,241.5 306.4,250.5 169.2,376.3 433.5,142.9 263.2,289.7 170.5,368.1 448.6,109.5 394.2,199.4 241.8,286.7 427.3,140.2 295.2,237.5 155.8,407.4 366.7,183.8 394.2,141.3 426.9,155.8 209,349 397,185.1 426.5,159.5 289.9,269.3 221.3,341.3 311.9,256.1 208.6,334.9 338.7,239.6 358.4,190.3 474.9,121.8 265.1,288.8 199.6,366.7 248.6,310.3 295,270.7 299.3,257.6 234.3,308.5 175.3,356.7 379.4,202.2 380.3,173 347,168.6 278.2,296 235.9,328.6 138,380.7 197,363.3 169.7,362.6 277.4,290.2 294.9,255.7 216.1,349.5 243.6,293.3 308.2,233.9 237.4,327.2 340,208.5 352,213.9 346.6,178 281,271.2 201.4,318.6 198.3,346.6 149.7,378.8 381.1,153.6 260.4,307.8 320.1,216.8 207.4,341.7 169.6,356.8 345.1,179.1 130,374.7 204.3,337.2 247.8,306.4 135.8,383 386.2,213.9 355.1,220.8 462,132.9 320.8,253.1 160.6,385 202.5,338.9 198,333.7 224.3,326.6 354,174.3 154,324 198.5,330.1 248,343.9 313,282 283.9,242.4 371.8,188.4 389.5,216.3 249.2,304.9 253.8,298.5 122.9,384.2 288.1,250.6 427.4,144 345.6,173 246.5,260.7 268.8,298.7 216.3,318.9 228.8,322.4 405.1,158.9 233.7,311.3 314.1,255.3 212.8,340.4 312.3,247.5 238.9,318.6 247.9,274 242.4,284.4 169,381.3 258.3,312.2 271.5,251.4 180.8,379.9 354.7,217.5 260.9,296.6 234.1,297.9 346.5,205.5 259.1,326.5 246.8,306.8 325.7,243.8 220,322.7 349.2,205.3 272.3,277.8 212.9,337.2 155.4,361.5 181.8,360 395.2,173.1 240.3,305.1 299.1,249.3 280.4,286.3 219,322.6 305.9,239.1 170.3,374.3 252,306.9 380.9,229.2 296.3,244 237.5,312.4 140.1,380.5 129.5,407.5 305.5,260.5 210.5,322.5 399.5,156.8 307.8,265.7 397.3,186 256.9,300.5 190.8,376.9 171.2,350.5 443.8,120.5 269.3,310.1 193.6,356.1 282.9,268.2 403.2,135.9 239.5,313.8 259.4,276.6 371.5,150.3 143.9,403.6 136.7,378.2 363.1,183.8 352.2,137.9 314,227.1 256.2,299.7 318.8,234.3 224.6,321.5 269.9,276.4 298,253.4 391,196.6 266.6,287.6 223.8,314.6 186.4,345.7 272.1,283.7 173.4,381.6 330.5,204.4 229.1,294.6 366.4,168.8 375.5,179.1 301.7,239.4 393.2,158.5 244.8,296.5 487.8,101.1 221.8,318.2 322.1,255.5 374.9,191.9 312,223.2 128.6,402.3 368.5,183.2 223.4,304.5 192.6,349.5 325.5,233 235.8,313.7 217.3,352.3 137.7,399.4 404.3,183.4 352.6,198.3 326.2,219 480.1,134.7 267.7,298.5 422.9,119.6 374.4,203.6 353.5,211.7 340.1,237.7 146.8,390.7 327.7,242.6 208.2,336.8 372.6,237.4 155.3,378.9 312.2,243 282.8,275.3 450.8,113.1 282.8,275.3 223.8,317.7 301.8,230.2 277.7,268.9 191.1,343.1 290.2,289 297,226.1 179.3,367 216,317.3 179.7,368.4 308.4,225.6 239.2,328.8 358.5,195.3 344.4,189.7 347.7,235.1 356.2,202 274.7,289.7 369.1,195.2 262.7,257 267.7,299.6 333.5,238.2 360.3,153.2 205.3,358 432.5,98.9 323.3,244.5 357.6,205.1 196.8,328.5 158.2,387.4 209.7,344.7 260.6,305.5 181.2,341.4 358.5,195.2 225.2,294.2 327.7,249 166.2,378.4 275,262.9 380.9,123.1 222.9,335.4 298.8,263 327.1,218.5 269.5,288.5 391.2,178.4 312.7,218 341.1,246.5 359.7,173.6 306.2,255.3 174.1,388.8 194.7,348.8 142.5,394.1 335.1,220.7 316.9,199.8 241.9,305 159.3,381.1 304.9,257.2 272.9,299.3 373.2,178.9 295.9,242.3 310.8,242.7 184.6,372.6 388.4,163.9 218.1,326.1 189.3,355.5 232.5,317.7 277.3,307.6 161.2,365.9 198.6,344 226.5,340.7 440.5,133.1 277.8,286.4 384.5,148.5 326.7,241.6 237.4,292.3 267.6,297 382.8,129.7 138.4,389 188.6,345.7 327.5,237.1 241.1,333.2 338.4,245.1 338.8,229.1 389.7,180.2 180.1,359.1 343.9,215.1 173.1,357.2 329.7,228.7 419.8,152.3 131.4,402.4 288,253.2 300.2,202.7 220.9,312.1 287.3,278.5 304.2,277.5 348.6,227.2 157.8,388.9 233.5,314.5 188.9,334.3 227.2,315.8 431.4,109.9 342.8,183.3 258.3,307 287.7,256.5 364.4,213.5 310.5,274.7 281.2,269 262.1,277.4 353.6,247.4 294,265.7 374,155.1 494.7,134.7 162.9,398.3 325,244.7 316.5,242.1 119.6,408.9 198.6,358.8 326.1,251.7 412.6,176.4 245.2,311.4 227.5,325.2 375.5,167.2 368.4,184.1 193.3,341.7 424.6,129.7 383,164.2 313.8,237.7 418.6,198.5 121.3,379.9 219,289.1 305.6,243.7 468,74.4 324.9,238.2 383.1,172.4 321.2,257.1 182.7,372.4 378.3,171.6 420.5,127.7 367.3,203.4 390.5,176.5 449.2,120.8 225.6,322.2 269.3,274.1 195.5,345 374.5,239 222.3,336.6 261.7,310.6 230.7,304.5 416.4,123.4 179.3,370.6 300.9,254.5 143,403.5 486.8,145.8 329.1,247.1 204.3,346.2 235.5,319.6 234.2,350.4 201.9,318.9 255.2,259.7 230.3,316.6 355.6,220.4 224.1,328.9 300.5,231.3 387.9,194.2 193,382.6 152.2,382.1 135.3,373.9 206.9,340.2 227.6,327.7 344.3,175.4 215.9,335.9 157.8,359.1 215.3,305 333.3,203.7 306,231.5 193.3,345.3 205.9,342.4 199.2,355.9 207.6,330.7 271.9,254.6 246.3,312.3 197.2,335 205.1,340.9 224.6,357.4 244.3,332.2 341.5,229.9 287.7,270.8 207.2,352.3 191,345.5 286.3,249.1 396.1,121.3 263.1,309.5 203.4,337.4 248.7,293 237.5,298.9 223.5,311.6 391.4,144.3 160.4,374.8 291.8,262.7 360.9,170 278.4,265.9 280.1,266.7 364.2,172.5 197.3,346.6 300.9,232.3 205.6,335.8 431.3,121.9 271.2,270 377.8,235.5 213.1,331.1 250,291.1 324.1,239.8 228.4,301.8 363,186.3 236.6,319.1 246.8,318.9 199.6,332.8 354.3,186.7 257.1,302.1 403,175.2 182.4,340.8 232.5,332.7 204.4,309.9 352.3,180.4 340.5,247.5 313.9,234.2 274.4,272.5 289.1,261.3 311.9,261 320.8,234.1 183.8,351.4 144.2,387.8 289.3,285.4 141.9,382.3 380.5,176.9 168.9,364 304,251.2 273.4,277.4 203.5,355 142.7,392.3 235.3,285.7 188.9,356.2 291.2,286.5 209.8,338.2 342.9,241.5 165.2,376.3 339.6,232.4 335.9,222 234.5,323.8 259.7,302.7 329.7,222.8 235.3,299.4 225.6,325.7 323.3,233.4 330.8,226.3 320,246.9 327.7,241.1 324.8,200.1 106.4,422.7 277.1,291.1 258.9,288.3 302.6,237.5 322.1,210.5 314.2,236.6 335.8,234.7 133.8,390.4 326.1,254.5 209.6,327.5 311.6,223.8 333.7,204 359.8,199.9 362.8,175.9 249.7,287.6 269,301.9 256.5,303.1 401,189.1 214.5,347.8 413.4,101.5 284.6,225.4 253.8,286 345.4,203.2 271.6,312.4 319.3,263 403,139.4 285,260.1 215.2,311.3 352.8,206 184.7,361.8 335.8,248.1 310.5,221.9 331.9,222.5 157.1,374.1 194.7,362.4 246.4,308.9 292.4,265.8 380.7,204.3 309.8,233.2 241.4,299.4 323.7,238.2 271.9,290.7 218.7,326.2 195.3,344.1 214.3,307.6 251.9,290.6 195.8,348.8 301.4,265.3 266.8,300.4 200.2,341.2 121.3,405.8 430.2,85.1 357.1,202.8 244.6,316.5 387.5,158.2 276.6,249.8 301.2,251.8 191.1,376.2 379.1,195.6 343.8,202.4 299.2,268.1 193.6,341.6 200.7,327.5 307.7,212.3 182.8,368 172.3,358.3 254.9,312.4 308,268.9 341.4,239.3 335,254.1 180.3,337.7 391.5,166.1 253.6,299.5 246.2,297.7 268.3,292.2 287.3,267.4 163.3,376 255.6,298.6 422.5,150 285.5,213.3 343.6,236.7 352.5,249.4 294.3,280.3 297.3,251.7 175.9,372.2 325.8,201.1 131.6,398.2 292.7,270.7 280.3,249.7 223.6,299.9 282.1,277 270.4,280.5 358.8,241.3 433.1,118.6 118.6,419.9 352,200.7 346.1,183.9 430.8,175.5 200.3,345 209.7,338.2 277.7,300.3 226.8,313.8 178.4,335.3 325.9,272.7 420.7,150.3 356.7,196.5 236.1,347 272.2,295.7 192,357.8 225.3,328.7 353.5,224.8 129.6,408.3 359.3,209.5 248.6,321.1 385,160.2 306.1,231.6 246.2,307.3 362.1,186.3 346.6,198.2 445.3,91.6 272.2,286.5 207.1,339.5 258.5,298.4 392,262.7 342.4,212 174,369.6 253.4,307.8 271,291.2 318.6,218.9 286.9,273.2 304.5,224.5 270.5,309.4 241.3,308.1 194.3,358.9 300.9,260.2 343.3,213.4 319.8,243 180.6,346.2 331.6,217.7 270.7,299.8 368.1,221.4 240.8,312.6 315.6,259.2 208.4,334 252,268.9 324.6,229 191.7,358.2 249,301.5 421.6,136.2 261,278.2 229.3,319.3 339.4,203.4 218.6,335.3 285.7,273.4 232.8,300.7 208.1,332.9 262,283.1 255.8,308.8 227.1,305.4 352.2,193.5 382.5,185.1 457,136.1 378.3,154.8 199.7,366.9 224.5,358.8 390.5,180.4 268.7,282.8 337.5,230.3 196.1,350.4 310.9,261.7 318.8,232.2 218.8,326 350.1,218.1 226.6,322 346.3,209 266.4,279.4 356.4,183 322.2,240.5 299.8,262.3 197.9,344.3 229.4,313.6 239.5,310.8 392.4,153 237.4,311.1 222.4,322.9 331.4,211.8 309.1,267.4 332.7,253.5 142.1,406.3 360.4,194.5 213.6,328.7 334,240.2 188.7,354.1 214.4,318.4 288.1,292.1 309.6,255.1 258.6,273.5 332,237.1 333.4,244.6 350.7,221.2 394.6,191.3 350.5,226.9 331.5,231.6 318.4,254.5 285.9,239.3 306.5,251.2 358.8,181.2 394.4,189.2 305.5,281.7 314.1,238.6 268.1,301 191.7,373.5 294.2,268.8 455.4,78 373.3,212 265.7,310.9 333.7,191.5 237,311.8 123.9,415.5 347.5,234.7 318.4,295.2 298.5,270.7 329.3,243.1 360.8,226.8 311.9,223.7 358.7,218.8 173.3,369.3 218.8,326.7 193.6,351.9 435.2,122.3 256.5,282 163,350.5 102.9,414 178.6,357.6 349.5,168.9 238.7,294.5 200.7,333.2 324.9,264.6 347.5,219.9 168.2,327.5 350.3,215.1 254.5,296.4 293.4,256.7 249.6,278.6 423.8,175.7 162.7,375.3 314.4,220.1 257.8,301.3 336,162.8 277.2,283.7 126.8,421.2 197.9,343.5 243.9,279.9 363.2,214.6 278.9,285.1 178,368 301.6,270.4 321,257.9 234.9,289.7 236.4,326.1 173.5,378.4 318,247 257.1,278.3 377.1,167.7 268.6,309.3 354.3,162.8 305.1,258.4 266.5,266.4 211.3,351.2 192.1,360.5 211.6,363.9 353.2,219.4 351.9,251.6 362.5,166.3 200.8,376.9 303.4,260.6 218.9,333.9 224.4,326.5 232.9,329.7 265.6,291.7 184,365 274.2,275.9 355,212.2 253.8,312.8 291.2,271 440.1,132.1 315.4,239.3 356.6,209.1 376.1,165.6 301.7,274.8 360.8,234.3 300.9,269.8 263.8,316.9 281.8,252.8 286.4,259.7 408.5,126.4 234.7,309.5 439.7,144.1 165.1,372.8 204.1,355.9 243.8,293.1 326.3,207.8 304,254.4 181.8,387.5 237.4,291.1 402.9,133 265.9,311.6 279.1,272.1 331.5,256.3 239.3,310.7 311.2,265.3 291.8,244.9 284.3,255.5 403.9,149.6 250,312.5 248.4,283.8 359.7,170.7 295.1,225.9 191.9,337.9 193.3,368.3 162.1,357.4 225,330.1 253.9,276.5 268.3,281.7 354.2,176.7 236.6,308.8 329,244.3 300.9,248.5 273.7,288.2 271.2,284.9 112.9,414.1 319.4,223.2 438.5,112.2 405.1,119.2 294.9,240.3 181.5,372.1 309.8,250.9 390,161.7 386.2,190.1 188.8,354.9 493.5,66.2 244.9,298.3 160.5,376.3 259.9,274.6 382.2,179.2 174,362.4 379.2,198.2 344.3,204.3 379.5,178.9 145.2,390 245.2,299.8 230.5,297.6 244.6,259.4 349.2,194 326.7,192.4 333,205.3 347.6,188.9 345,260.8 366.9,207.5 362.1,223.3 324.1,225.2 372,194.3 276.5,292.6 341.4,254.3 230.4,300.9 169.5,385.7 348.8,223.2 311.2,282.9 203.6,340.3 203.5,324.9 174.8,366.6 221.8,321.7 208.6,338 209.4,372.5 184.8,354 166.9,349.9 277.8,258.9 224.8,315.7 238.8,306.9 451.6,132.2 280.4,300.7 393.6,173.2 403.7,189.3 326.1,224.9 303.6,265.4 250.2,285.7 294.4,272.4 425.8,181 163.5,360.8 307.2,252.3 187.8,330.7 397.7,202.5 277.1,250.2 258.4,295.9 331.5,242.1 294.2,256.7 213.7,342 291.8,253.3 256.1,301.8 270.6,312.9 279.2,292.2 288.7,271.3 225.6,342.5 375.2,185 263.8,305.3 242.7,287.8 247.1,296.2 316.2,266.5 235.5,314.6 321.5,197.3 458.9,152 441,96.7 274.7,249.5 331.8,253 259.4,279.7 313.8,219.1 261.2,286.3 268.1,271.9 186.3,377.2 194.1,358.4 337.7,211.9 249.6,300.3 268.9,334.3 345.4,198.6 283.6,257.9 260,297.2 306.5,226.4 381.6,166.3 263.3,291.4 285.8,254.2 159.9,381.1 275.9,278.9 264.9,280.9 334.1,234.2 228.1,300 117.6,381.2 387.6,160.7 139.9,396.3 225.8,312.9 208.1,317.4 408.3,204.7 202.6,334 442.6,133.5 225.3,323.5 328.4,196.6 252.2,271.8 297.1,245.5 282.2,277.4 260.7,323.1 207.7,331 206.3,339.3 297.9,269.7 288.7,281.3 219.7,322.4 316.6,256.3 392.2,186 245.1,276.7 310.5,242.7 284.5,271.8 359.2,194.6 216.6,311.8 221.3,330.2 247.7,289.7 400.3,170.2 406.6,182.2 295.1,235.8 265.8,307 414.1,149.1 259.9,269.4 469.2,165.5 256.5,278.6 202.8,360.2 380.7,206.5 323.7,247.5 260.3,286.2 379.8,121.3 296.6,255.3 258.8,282.3 195.1,353.1 264,277.4 331.1,242.9 314.1,283.6 225,312.8 409.6,168.9 257.2,296.5 230.8,299.6 264.1,278.5 322.5,220.6 229.9,330.7 324.4,243.6 300.5,229.7 235.4,313.8 295.1,244.1 266.3,295.6 157.5,364.7 228.5,309.1 301.9,240.5 362.7,186 324.6,241 259.6,280.5 285.4,267.3 138.9,392.9 340.1,201.3 374.3,151.2 172,372.9 255.2,264.7 309.1,208.5 241.8,309.2 303,212.4 200.6,328.2 234.3,322.6 279.2,272.1 262.7,294.3 149.6,380.8 181.1,356.4 242.6,320 236.9,283.3 361.5,182.9 235.1,297.7 280.7,288.6 223,335.7 294.2,248.7 257,299.1 298.9,277.3 162.8,372.2 247.8,329.4 297.1,264.3 202.6,311.5 165.7,371.5 186.5,351.8 500.7,67.9 129.5,389.5 208,363.9 428.5,146.2 208.4,335.2 299.1,230.6 209.3,336.7 324.1,231.6 342.5,216.9 255.4,304.4 264.2,299.6 429.1,130.2 291.6,242.4 212.3,356.7 227,311.2 205,348.1 142.5,380.9 442.6,169.1 176,379.8 359.8,211 286.5,274.7 365.3,218.3 355.3,218.9 390,173.8 239.1,294.5 222.6,295 399.5,178.1 286.1,258.8 276.1,282 281.3,290.2 354.1,220.5 274.7,266.1 433.5,178.3 288.6,243.6 146.6,386.9 285.7,272 299.5,250.4 250.5,305.1 277.2,233.8 222,304.5 282.7,279 264.5,321.7 261.9,258.7 377.9,159.7 259,309.5 168.5,375.8 230.1,309.4 354.1,189.6 320.4,288 159,349.4 270.6,254.2 143.1,360.8 477.2,64.1 146.4,379.8 301.2,234.9 164.4,375.2 283.9,251.1 279.9,272.4 205.8,337 312.9,299.8 241.4,321.2 356.1,200.4 263.1,282.6 213,325.8 358.4,186.8 119.9,421.3 393.5,191.7 431.9,144.5 271.2,279.2 202.5,364.5 409,187.7 260.7,293.3 363.3,202.8 381.8,177.5 500.7,73 264.7,288.7 188.9,356.9 336.9,245.6 228.3,320.2 256.3,271.6 221.2,340 205.6,316.6 207,325 184.9,352.6 172.3,362.6 360.8,167.4 314.9,224.2 379.6,175.5 179.6,358.1 170.2,337 309.9,244.4 360.3,183.4 264.4,296.5 426.5,143.3 322.7,206.7 192.8,325.7 299.1,227 361,216.6 351,219.3 436.3,133.9 168.8,358.2 228.9,333.7 414.6,162.5 217.5,353 387.7,140.1 125.7,392.7 191.2,368.5 271.6,277.3 346.4,196.3 173.5,365.4 365,223.2 258.3,277.1 213.1,326.2 261.8,278.7 324.3,264 252.6,277.5 285.8,270 423.7,160.4 234.8,299.6 173.1,379.4 300.2,250.3 257.3,298.1 143.6,391.6 217.8,325.4 242.1,290.1 188.3,364.9 368.9,200.1 264.2,285.2 265.8,290.2 199.8,328.4 321.7,235.3 277,290.2 234.4,320.3 322.2,241.4 235.8,319.8 223.8,332.6 239,295.2 192.7,373.1 268.6,268.1 305,251.4 349.2,227 241.1,289.7 323.5,216.7 214.4,317.3 252.9,305.2 216.6,348.7 187.9,361.5 212.3,349.5 316.1,246.7 261.8,305.8 337,196.7 268.4,293.3 409.9,97.2 187.4,382.5 254.2,327.9 320.1,238.2 320.5,237.3 274.8,294.4 312.1,212.8 177.8,372.5 183.1,365.1 307.4,254.8 300.5,257.1 289.9,276.1 349.1,225 294.8,283.6 354.6,197.7 211.9,333.1 441.6,116 271.8,281.3 314.4,234.9 253.2,311.4 400.3,149.9 246.9,262.8 285.7,247.9 295,236 260.9,300.1 216.6,331.4 286.9,255 351.7,178.3 191.9,347.3 309.1,250.9 376.4,162.4 250.1,311.2 144.5,413.4 378.7,215.7 279,279.7 324.2,221.5 155.6,374.3 275.4,273.7 310.4,251.9 133,399.2 390.8,188.4 234,327.1 274.1,253.9 349.1,221 194.6,354.9 242.5,291.3 298,244.1 176.7,371.3 424,113.4 204.1,335 380.9,204.7 129.8,395 308.2,203 286.8,250.6 343.2,215.2 225.2,301.4 149.2,385.5 318.5,221.8 334.4,214.2 407.5,186.5 446.3,119.6 256.8,304.4 358.5,205.5 328.1,214.1 275.2,316.2 314.9,225.2 337.3,231.7 253.8,293.4 187.8,350.5 151.1,388.7 412.8,195.3 289.2,277.3 456.7,170.7 318.4,236.3 289.4,275 342.1,225.4 204,343.7 387.8,202.1 290.3,250.4 272.8,265.7 342,190.2 423.2,138.8 332.2,221.8 350.2,230.7 322.7,236.1 275.3,290 261.2,295.1 200,352.2 299.6,252 307,233.3 324.4,264.9 324.8,225.3 268.3,290.8 316.9,237.3 280,268.2 428.9,112.9 356,227.7 297.3,264.5 367,196.1 275.7,289.9 149.7,379.7 319.2,216.9 212.6,336.8 244.2,277.1 169.8,385.4 299,272.4 269.3,266.6 224.7,299.3 296.8,250.8 343.7,189 243.8,318.5 190.7,361 330.2,256.9 326.8,275.6 389,137.7 384.9,171.8 432.8,132.6 234,314.1 253.6,295.4 251.5,309.9 200.2,352.7 287.9,271.4 326.5,283.3 283.2,283.9 263.7,270.2 176.6,362.4 220.7,331.4 333,242.7 273.1,275.9 385.2,219.3 307.2,232 274.9,273 171.3,366.6 335.7,240.7 340.3,236.2 311.5,270.3 363.5,202.9 264,281.3 288.7,269 206.2,345.3 328.3,255.8 259.5,282 155.7,394.4 226.9,316.6 352.3,210.7 218.6,346 135.9,397.2 290.3,254 293.5,283.1 207,341.6 419.2,169 208.9,302.1 330.9,200.6 209.2,324.8 375.3,207.1 193.9,363.7 199.1,349 170.9,396.4 411.6,171.5 317.2,200.3 369.2,192.2 357.6,188.6 327.4,240.5 336.4,203.5 262.8,285.1 361.2,182.6 390.8,166.8 197.7,341.1 274,258.1 256.6,303.5 424,185.9 261.5,290.4 278.1,249.5 258.6,303.2 218.3,349.6 268.3,272.1 309.4,230.3 301.9,258 237.6,330.3 212.9,331.5 301.8,241.1 268,273.6 244.5,301.9 240.5,288.2 358.8,214.7 441.4,91.6 244,317.8 176.6,350.3 220.5,327.8 315.4,247.1 172.2,364.1 234.2,343.5 179.1,369.8 291.9,268.9 393.7,176.1 384.7,164 323.1,218.1 159.7,377.7 296.8,274.5 201.7,339.7 160.1,347.3 382.3,150.7 412.8,160.9 379.6,180.5 456.4,148.8 207.5,352.8 341.5,244.6 261.7,306.3 270.9,302.6 314.2,226.9 408.2,101.9 421.7,172.6 146.7,389.6 377.4,163.8 173.7,352.4 305.3,249.8 210,321.6 195.1,358.4 230.3,328.1 291.7,243.7 214.5,332.4 302.7,248.4 301.3,225.6 157.8,380.9 189.3,360.7 355.9,216.6 187.3,375 322,217 251,302.6 450.8,79.9 320.1,292 184.3,333.2 313.9,249.8 208.8,339.9 391.8,154.4 290,283.6 409.5,160.5 372.5,173.9 145.2,392.4 299.8,277.3 339.8,256.7 365.1,198.8 220.8,329.3 375.6,201.7 311,232 265.5,299.8 246.1,307.7 180.6,362.5 386.5,139.1 235.8,257.1 279,306.2 292.7,258.1 171.5,344.2 327.2,209 243.2,296.6 180.8,353.3 198.8,336.2 223.7,346 275.8,304.8 309,220.9 390.1,187.1 321.5,227.1 248.2,289.1 206,342.3 227.1,287.5 305.5,214.1 395.4,176.8 348.3,261.2 264.8,254.7 224.9,323.8 308,223.1 256.5,292 178,302 285.3,277.5 314,214.6 332.8,225.1 306.5,252.6 203.1,338.8 374,227.4 294.6,216.9 331.4,233.7 399.5,195.5 223.2,326.3 270.6,294.9 345.7,194.3 272.9,304.9 314,246.7 289.3,278.3 334.1,228.6 321,238 315.3,229.4 318.7,246.4 253.9,294.3 321,258.1 291.7,272.7 394.4,207.5 317.6,251.6 313.2,253.2 333.7,222.4 205,332.5 380.1,157.2 219.3,331.4 204.9,351.1 217.4,321.7 256.6,312.3 233.8,301.8 302.2,244.3 223.3,314.8 369.5,225.8 340.2,196 345.8,204.7 244.1,332.9 346.4,210.3 329.5,301.2 374.6,220.9 316.7,218.3 342.4,193.5 256.4,298.2 133.4,394.7 402.7,150.9 215,324.2 272.6,318.3 244.5,291.4 177.9,365.5 383.9,187.5 242.4,291.9 279.2,277.7 428.9,148.7 483.5,55.1 179.4,354.7 441,134.5 108.1,407.8 211.4,330.5 325.5,254.6 144.7,417.1 310.2,245.1 387.5,189.1 360,252.1 201.7,364.2 265,276.9 287.8,270 306.6,269.5 359.8,257.1 245.7,318.7 265.8,293.4 195.1,353.6 271.1,284 277,290 399.1,182.6 248.3,304.3 273.2,283.4 410.2,173.1 332.1,244.8 409,181.8 381.7,174.5 390,118.3 262.8,297.5 146.9,378.3 331.6,217.1 193.8,324.9 471.5,106.3 365,208.9 201.2,301.4 291.4,286.4 300.7,258.4 340.6,236.5 261.3,279.6 382.6,167.4 224.1,341.4 302.8,253.3 355,151.4 318.8,242.1 354.8,175.7 307.8,216.8 235.4,303.4 311.9,271.6 344.5,203.7 161.4,372.1 179.4,365.6 349.6,219.7 315.2,256.5 236.2,292.3 409.6,122.7 251.4,323.1 385.3,186.9 187.8,358.1 300.2,233.5 345.6,178.9 317.8,236.6 277.9,251 450.9,110 356.2,207.8 431.9,102 227,319.6 340.6,219.3 329.5,220.9 245.9,305.8 212,342.1 408.1,178.3 403.1,183.5 313,224.7 418.9,136.4 219.1,327.2 209.9,343.2 317.6,232.7 438.5,88.8 307.6,269.8 351,247.2 170.1,367.1 260.4,296 236.3,305.2 297.8,217.5 271.9,266.7 394.3,192.1 449.1,102.8 327.9,205.9 228.7,321.4 207.5,345.8 216.6,312.2 326.1,198 278.6,231.2 304.2,238.2 164.4,366.1 195.7,372.4 246.2,312.4 304.7,292.8 307.5,217.5 320.3,238.2 315.4,254.7 322.7,258 295.2,262.8 359.6,191.1 323.1,180.3 247.1,320.3 324,218.4 363.5,224.9 332.9,209.9 169.7,383.7 251.6,322.1 174.2,359 158,379.9 193,361.7 324.3,224.7 323.8,215.6 137.2,410.3 357.2,170 485.2,79.2 165.3,369.9 374.8,193.5 233.9,330.4 272,268.4 347.8,208.8 303.8,231.7 236.2,332.3 337.4,211.8 276.9,288.9 290.1,270 276,285.8 336.8,248.5 266.9,280.6 215.3,318.5 308.5,249.8 274.1,287.6 374.3,200.7 380.9,177.8 248.8,325.7 325.6,221.9 158.6,375.3 354.3,241.6 230.4,317.7 311.1,221.3 188.4,355.5 365.1,250.3 175.1,374.2 350,203 407.6,165 233.5,340.7 261.4,245.4 306.4,254.3 291.5,278.7 225.1,314.3 272.8,262.1 433.1,126.7 324.7,234.9 232.6,295.6 295.2,255.4 258.7,301.9 334.9,204.3 249.5,299.2 275.8,287.1 258.8,278 178.2,367.7 420.6,166.9 211.3,323 272.7,296.6 373.8,197.5 297.1,258.2 333.9,237.5 302.5,238.4 300.8,235.3 204.4,344.5 278.5,281.2 233.7,312.2 304.5,264.9 325.9,238.4 249,312.5 201.2,317.8 246.7,335.8 416.2,173.6 216.1,334 412.2,117.6 134.3,396.1 307.5,244.3 335.3,210.7 278,281.8 340.4,201.2 405.7,201.9 285.2,261.6 177,357.1 310.9,244.6 347.5,211 309.4,280.7 205,344.7 126.1,414.2 180.5,364.4 424.4,162.2 269.6,266.4 308.1,239.3 302.9,252.3 141.6,388.6 351.5,224.4 339.2,194.3 203.6,345.2 335.2,212.8 300.9,257.5 191.1,358.3 171,364.2 358.9,155.8 395.3,100.7 209.2,332.8 262.6,314.7 408,147.8 327,249.5 108.9,412.6 348.5,199.6 261.6,326.2 214.7,311.1 399.3,148.5 135.9,408.2 263.4,291.5 295.6,240.8 485.2,75.3 358.2,191.2 417.8,113.9 188.3,362.5 288.7,254.2 317.2,278.7 260.9,294.7 344.4,232.2 196.7,339 253.1,302.1 244.6,322.6 406.7,137.6 407.1,135.1 284.7,274.3 284.5,317.7 139.6,378.1 292.9,273.7 356.7,220.8 191.3,343.2 292.2,284.2 356,209.5 362.3,218 329.4,190.7 227.1,298.4 339.8,221.6 384.4,209.3 280.3,272.5 320,175.8 209.7,328.5 395.8,129.8 326.8,203 132.6,413.6 423,133.7 195.1,364.2 203.4,327.8 313.8,222.7 174.1,355.3 461.1,104.5 257.7,311.3 373.9,222.7 263.7,277.1 229.9,310.6 345.8,235.6 209.5,373 401.8,188 311.2,251 241.6,308.8 322.9,215.3 273.7,289.9 243.5,317.2 404.1,209.9 193.1,360.5 315.5,221.5 202.7,354.3 377,280 257.7,313.5 367.5,245 271.8,265.3 232.1,332.9 208.3,329.6 193,362.7 200.7,338.7 311.1,216.6 334.8,265.6 178.9,347.8 438.9,137.7 229.9,332.1 489.5,129.5 263,274 258,309.5 346.2,228.2 316.6,248.6 228.5,322.6 307.1,265.8 333,241.6 343.4,244.9 258.8,286.7 406.4,133.1 266.5,251.6 312.1,259.7 222.2,335.3 299.2,279.3 294.2,279 274.6,288.6 124.5,405.9 196.9,322.7 338.8,223.3 295.1,227.6 339.8,244 350.4,199.8 380.5,194.7 268.2,294.8 205.4,362.9 251.5,319.4 322.5,227.1 233.1,312.2 110.3,385.4 339.9,225.1 322.8,251.3 398.6,174.4 286.7,272.1 289.1,270.6 298.1,272.2 241.9,317.6 265.6,277 196.8,358 413.7,181.1 251.7,314.9 296.8,234.4" fill="none" stroke="none" marker-start="url(#m)" marker-mid="url(#m)" marker-end="url(#m)"/>
<path d="M194.5,348.7 198.5,345.3 202.5,342 206.5,338.6 210.5,335.2 214.5,331.8 218.5,328.4 222.5,324.9 226.5,321.5 230.5,318.1 234.5,314.8" fill="none" stroke="#000" stroke-width="1.7"/>
<path d="M194.5,348.7 198.5,345.3 202.5,342 206.5,338.6 210.5,335.2 214.5,331.8 218.5,328.4 222.5,324.9 226.5,321.5 230.5,318.1 234.5,314.8" fill="none" stroke="#000" stroke-width="3" stroke-dasharray="3 4.9" transform="translate(-1,-1)"/>
<path d="M100.7,423.4 104.7,420.3 108.6,417.2 112.5,414.1 116.5,410.9 120.5,407.8 124.4,404.7 128.3,401.6 132.3,398.5 136.2,395.3 140.2,392.2 144.2,389.1 148.1,385.9 152.1,382.8 156,379.7 159.9,376.5 163.9,373.4 167.8,370.2 171.8,367.1 175.8,364 179.7,360.9 183.6,357.7 187.6,354.4 191.6,351.2 195.5,347.9" fill="none" stroke="#000" stroke-width="3"/>
<path d="M233.5,315.6 237.5,312.2 241.5,308.9 245.5,305.6 249.5,302.3 253.5,299 257.5,295.7 261.5,292.3 265.5,289 269.5,285.5 273.5,282 277.5,278.4 281.5,274.7 285.5,271 289.5,267.3 293.5,263.6 297.5,259.8 301.5,256.1 305.5,252.4 309.5,248.6 313.5,244.9 317.5,241.1 321.5,237.4 325.5,233.8 329.5,230.1 333.5,226.5 337.5,222.9 341.5,219.2 345.5,215.4 349.5,211.5 353.5,207.8 357.5,204.1 361.5,200.5 365.5,197 369.5,193.5 373.5,190 377.5,186.5 381.4,183 385.4,179.6 389.4,176.1 393.4,172.7 397.4,169.3 401.4,165.8 405.4,162.4 409.4,159 413.4,155.6 417.4,152.3 421.4,148.9 425.4,145.6 429.4,142.3 433.4,139 437.4,135.8 441.4,132.6 445.4,129.4 449.4,126.3 453.4,123.1 457.4,120 461.4,116.8 465.4,113.7 469.4,110.6 473.4,107.5 477.4,104.3 481.4,101.2 485.4,98.1 489.4,94.9 493.4,91.8 497.4,88.7 501.4,85.5 505.4,82.4 509.4,79.3 513.4,76.2 517.4,73 521.4,69.9 525.4,66.8" fill="none" stroke="#000" stroke-width="3"/>
<rect x="88.5" y="22.3" width="436.9" height="437.1" fill="none" stroke="#000" stroke-width="2.7"/>
<path d="M88.5,459.4v7.5M88.5,22.3v-7.5M132.5,459.4v4.3M132.5,22.3v-4.3M175.5,459.4v7.5M175.5,22.3v-7.5M219.5,459.4v4.3M219.5,22.3v-4.3M263.5,459.4v7.5M263.5,22.3v-7.5M306.5,459.4v4.3M306.5,22.3v-4.3M350.5,459.4v7.5M350.5,22.3v-7.5M394.5,459.4v4.3M394.5,22.3v-4.3M438.5,459.4v7.5M438.5,22.3v-7.5M481.5,459.4v4.3M481.5,22.3v-4.3M525.5,459.4v7.5M525.5,22.3v-7.5M88.5,459.5h-7.5M525.4,459.5h7.5M88.5,437.5h-4.3M525.4,437.5h4.3M88.5,415.5h-7.5M525.4,415.5h7.5M88.5,393.5h-4.3M525.4,393.5h4.3M88.5,371.5h-7.5M525.4,371.5h7.5M88.5,350.5h-4.3M525.4,350.5h4.3M88.5,328.5h-7.5M525.4,328.5h7.5M88.5,306.5h-4.3M525.4,306.5h4.3M88.5,284.5h-7.5M525.4,284.5h7.5M88.5,262.5h-4.3M525.4,262.5h4.3M88.5,240.5h-7.5M525.4,240.5h7.5M88.5,218.5h-4.3M525.4,218.5h4.3M88.5,197.5h-7.5M525.4,197.5h7.5M88.5,175.5h-4.3M525.4,175.5h4.3M88.5,153.5h-7.5M525.4,153.5h7.5M88.5,131.5h-4.3M525.4,131.5h4.3M88.5,109.5h-7.5M525.4,109.5h7.5M88.5,87.5h-4.3M525.4,87.5h4.3M88.5,66.5h-7.5M525.4,66.5h7.5M88.5,44.5h-4.3M525.4,44.5h4.3M88.5,22.5h-7.5M525.4,22.5h7.5" fill="none" stroke="#000" stroke-width="1"/>
<g class="tl">
<text transform="translate(88.7,490) scale(0.92,1)" text-anchor="middle">0</text>
<text transform="translate(175,490) scale(0.92,1)" text-anchor="middle">2000</text>
<text transform="translate(262.4,490) scale(0.92,1)" text-anchor="middle">4000</text>
<text transform="translate(349.7,490) scale(0.92,1)" text-anchor="middle">6000</text>
<text transform="translate(437.1,490) scale(0.92,1)" text-anchor="middle">8000</text>
<text transform="translate(524.1,490) scale(0.92,1)" text-anchor="middle">10000</text>
<text transform="translate(71.6,466) scale(0.92,1)" text-anchor="end">0</text>
<text transform="translate(70.3,422.3) scale(0.92,1)" text-anchor="end">1000</text>
<text transform="translate(70.3,378.6) scale(0.92,1)" text-anchor="end">2000</text>
<text transform="translate(70.3,334.9) scale(0.92,1)" text-anchor="end">3000</text>
<text transform="translate(70.3,291.2) scale(0.92,1)" text-anchor="end">4000</text>
<text transform="translate(70.3,247.4) scale(0.92,1)" text-anchor="end">5000</text>
<text transform="translate(70.3,203.7) scale(0.92,1)" text-anchor="end">6000</text>
<text transform="translate(70.3,160) scale(0.92,1)" text-anchor="end">7000</text>
<text transform="translate(70.3,116.3) scale(0.92,1)" text-anchor="end">8000</text>
<text transform="translate(70.3,72.6) scale(0.92,1)" text-anchor="end">9000</text>
<text transform="translate(69.8,28.9) scale(0.92,1)" text-anchor="end">10000</text>
</g>
<text class="at" x="310.8" y="507.7" text-anchor="middle">Observation [J/m<tspan class="sup" dy="-6.8">2</tspan><tspan dy="6.8">]</tspan></text>
<text class="at" transform="translate(27.3,240.8) rotate(-90)" text-anchor="middle">Model [J/m<tspan class="sup" dy="-6.8">2</tspan><tspan dy="6.8">]</tspan></text>
<text class="an" x="326.9" y="63" text-anchor="middle">Uccle</text>
<text class="an sz" x="329" y="89.9" text-anchor="middle">SZA<tspan class="sub" dy="5.3">N</tspan><tspan dy="-5.3">&lt;45</tspan><tspan class="deg" dy="-6.8">o</tspan></text>
<text class="cap" x="282.6" y="565.5" text-anchor="middle">(<tspan class="b">d</tspan>)</text>
</g>
<g id="plot-e">
<line x1="793.5" y1="465.4" x2="1229.4" y2="29.2" stroke="#808080" stroke-width="2.7" stroke-dasharray="4.4 3.5" stroke-dashoffset="-2"/>
<path d="M996.8,273.3 882.1,358.2 909.2,337.4 1102.4,191.8 984.9,253.7 939.1,331.6 961.2,298.4 1001.4,246.1 990.1,256.5 941.6,324.8 1083,227.5 1017.2,261.4 964.3,309.8 913.5,354.5 875.8,375.1 894.7,356.1 1040.5,214.4 1070.6,200.6 906.4,361.2 907.1,363.9 943.8,314.2 1034.6,242.5 923.3,324.7 1011.3,279 1014.7,271.7 1037.9,230.3 938.5,315.2 824,416.3 1063.4,154.8 916.2,340.7 882.9,316 984,296.6 1022.2,237 1052.7,206.5 939.9,323.6 917.6,342.7 1024.9,227.7 880.2,380.5 996.3,293.6 1018,229.8 1005.9,285.1 939.1,319.2 913.3,331.1 894.1,335.4 1022.1,266.9 1057.8,209.3 867.5,386.4 959,334 914.5,350.7 992.5,296.5 986.2,301.7 946.5,321.3 916.5,349.4 1076.8,213.2 1041.4,191.4 1096.1,146.3 1083,207.9 1012.6,266.2 913.4,329.8 1003,244.3 826.3,414.1 974.5,317.1 933,330.7 1120.8,170.4 913.9,361.8 1104.8,161.5 978.3,259.3 987.8,285.5 917.1,334.3 1072.2,121.7 984.9,280.4 1003.1,268 871.9,378.7 1121.6,173.9 926.2,340.1 1055.5,216.7 999.6,269.9 1027.2,201.4 1053.1,254.9 892.7,356.4 1089.2,154.9 907.6,318.1 909.1,354.9 1021.5,251.3 973,306.7 1039.2,237.1 895.8,364.1 902.5,350.3 907.2,350.9 1013.9,265.3 966.4,310.5 947.3,316.7 909.5,345.6 1108.6,176.3 991.2,289.6 903.2,339 1053.8,238.7 888.2,363.9 1048.1,252.2 914,343.9 914.6,367.3 1100.2,187.8 915,359.9 936.5,335.3 954.3,342.6 836.7,399.9 862.5,386.1 1030,244.1 1041.3,231 949.5,296.8 902.8,357.6 1005.7,257 870.7,384.1 987.1,276.9 882,391.7 1014.2,264.9 837.1,406.2 883.9,370.1 945.7,318.9 1022.8,224.1 844.6,381.9 1090.7,191.4 937,315 1127.1,169.4 1102,146 890.4,368.4 963.2,304.5 1057,240.4 928.9,338.5 1040.3,203.8 1000.8,255.4 977,294.8 1080.9,197.1 1029.8,235.6 1004.4,259.2 885,358.8 984,273.5 860.7,377.5 960.3,296.9 968.3,276.6 1065.1,179.6 1002.9,267.2 1077.8,204.8 995.9,290.3 1047,224 1010.3,250.7 880.5,369.1 877.9,383.5 1052.8,202.6 1028.7,244.2 1004.1,242.6 917.4,323.6 1046.9,208.5 928.4,338.4 1030.7,199.2 1021.4,255.1 1094.7,194.6 1102.4,188.5 867.1,387.3 967.9,286.9 910.5,348.8 862.5,386.8 931.2,321.7 1027.5,261.1 1089.7,175.7 906.4,334.1 933.6,326.2 1055,223.5 1050.9,232.1 936.8,317.8 862.5,373.2 964.6,292.7 1030.2,254 816.1,422.6 963.9,251.9 963.8,309.6 995,294.1 926.5,339.6 976.6,294 978.7,260.5 1102.1,168.9 1058.3,224 922.8,334.4 913.9,338.7 1054,223.4 975.3,300.1 932.8,312.3 974.9,323.9 926.9,331.2 1057.7,228.7 1060.4,219 980.1,310.8 978.2,258.5 890.4,358.7 1090.9,181.2 899.6,353.2 1101.4,174.6 933.9,343.7 928.9,339.9 1052.3,225.5 836.2,413.8 917.5,345.7 942.1,330.3 1004.9,273.2 995.3,247.5 1045.2,205.1 1105.6,152.9 896,355.1 1068.1,221.5 1025.7,257.8 984.8,256.2 1091.8,143.4 1058.5,189.5 993.7,282.7 915.7,357.3 877.6,362.3 1048.2,204.5 917.7,345.2 869.9,375.6 1113.3,190.6 848.2,384.2 934.3,320 892.2,346.6 964.6,291.3 932.8,327.7 1021.7,238.2 955.8,342.2 931.3,329.1 1103.3,192.8 1018.4,281.8 1013.6,274.4 959.2,299.4 996.2,281.1 1026.5,270.6 936.1,311.2 1124.7,164.8 902.3,358.6 1078.4,196.2 1062,219.9 963.7,277.5 1005.8,236.8 999.4,291 1051.3,234.6 851.3,382.1 996.4,242.5 872.5,383.2 828,400.5 909.6,343.7 861,340 893.6,372.2 1042.5,202 967.7,288 1071.7,216.7 1090.7,166.9 997.4,268.5 1026.3,245.1 999.9,268.7 1072,189 1085.3,182.4 1135.5,132.5 953.1,329.4 1111.1,177.1 1002.5,244 953.5,317.3 835.3,409.4 968.9,278.5 933.9,308.7 969.6,296.1 1042.3,206.7 1066.4,217.2 1051.9,181.8 834,390.6 864.9,396.1 1076.3,201.2 933.7,317.8 926.6,319.3 925,326.7 964.3,285.4 932.7,344 976.2,283.9 1038,220 918.4,328.2 892.3,366.9 1054.7,197.9 930.3,330.7 1009.8,272.2 1094.8,211.4 1048.9,231.5 832.6,411.7 993.5,285.3 881.5,383.1 1058.9,188.5 999.3,249.9 936.7,298.4 903.2,379.1 1061.4,165.3 899.9,353.2 939.1,314.3 961.7,314.7 968.5,308 1013.8,252.4 1003.9,273.4 981.5,293.8 998.8,283.6 992.2,278.7 962.6,302 1118.2,175 1032,241.8 904.9,341.4 975,278.4 914.2,327.8 864.6,395.4 848.2,395.8 1037.4,198.4 1121,137.2 937.3,302 1069,221.4 1056.4,204.4 979.9,286.1 927.8,329.1 993.3,257.4 1032.2,248.6 882.1,378.2 957.6,289.8 1032.7,215.6 1006.4,281.5 882.6,377.4 845,391.4 972.7,269.2 991.2,273.1 933.9,313.6 1013.1,209.4 1011.5,248.5 972.6,246.3 1011.3,239.8 991.9,275.5 881.2,378.1 1001.4,242.8 1007.9,227.6 873.1,390.8 940.1,350.6 984.9,288.5 1042,224.8 1059,244.2 998.3,234.8 923.9,331.2 1048.8,221.4 1131.7,118.5 962.1,333.7 1046,200.1 1065,227.3 999.9,248.7 933.9,328.1 1025.2,252.3 972.4,264.8 965.7,315.9 1004.2,284 977.7,291.2 907.3,318.4 886.9,379.3 882.8,371.7 937.5,324.3 959.6,305.6 868.4,368.2 1051.4,239 869.7,358.6 991.4,286.9 957,310.6 1029.1,182.4 1031,236.9 940.9,308.6 849.3,395.5 1013.4,220.3 862.1,380.3 1058,216.7 1020.3,255.9 950.2,304.6 1031.8,250.1 1088.2,173.6 1016.1,211.5 1089.5,173.2 1015.9,244.7 941.5,325.4 968,299.8 959.8,315.9 1037.6,255.1 1029.4,248.7 959.3,307.4 874.1,359.4 1063.8,206.7 1088.3,178 1095.9,185.6 983.3,267.5 1020.9,194.5 931,343.2 1058.4,239.1 989.9,261.9 1028.2,266.1 1021.3,268.8 1063.7,185.7 1085.4,180.1 905.9,351.4 1083,199.7 1058.4,195.7 896.3,378 823.4,411.5 1021.3,246.7 1041.2,252 1003,260.4 910.9,347.4 988.1,268.5 1096.9,188.3 1008.1,286.1 1039.5,236.9 1088.5,183.2 831.7,366.5 937.8,328.7 824.4,426.8 953.1,332.9 985.5,266.4 865.4,384.8 1047.8,241.8 951.9,330.7 946.2,299.2 939.4,294.2 964.3,311.7 997.4,279.7 893.2,367.9 855.8,394.3 1016.8,263.1 990.7,248.9 1022.8,265.1 906.5,352 988,288.1 1098.9,139.9 1116.8,162.4 1060.2,194 1080.9,221.9 1035.2,238 1033.9,218.4 966.6,301.1 951.7,306.4 1039.2,223.9 886.6,365.8 913.4,344.4 985.2,294.9 907.4,351.6 1000.8,275.2 981,291.2 1051.1,231.3 1065.2,214 926.3,319.6 926.7,298.9 920.3,302.2 898,370.8 948.4,320.2 913.8,348.2 886,360.5 861.5,391.1 875.1,348.2 957.6,286.9 985.4,290.2 969.2,290.5 1031.5,228 944.3,292.9 1061.5,219 1061.1,232.6 889.7,350.2 1149.9,161.8 1040.4,224.8 990.1,283.1 984.7,286.7 867.8,392.3 1110.7,167.5 903.8,356.2 881.3,367.2 912,318.5 980.9,284.6 1007.6,273.7 1010.7,268.6 966.3,304.6 947.8,314 960.7,280.2 953.1,304.4 961.8,318.8 1063,234.9 936.9,283.5 859.2,384.3 1008.5,272.5 955.2,311 1100.8,167.3 1052.2,201.2 1074.1,191.6 1042.8,198.9 1070.3,219.3 968.4,305.1 1053.6,193.5 1069.3,191.4 974.8,317 893.9,364.2 925.8,334.1 1029.3,219.9 963.8,336.2 918,323.4 931.9,312 891,354 1088.7,167.9 1018.3,255.6 1043.5,225.1 866.4,367.7 1046.9,235.6 1039.5,253.3 896.8,364.6 934.4,335.6 1042,196.5 1004.5,247.8 970.4,285.4 1126.6,162.1 1019.2,225.8 991.7,267 871.4,386.7 1034,218.9 938.4,281.4 982.9,267.9 1095.4,152 1101.3,177.4 933.2,340.6 949.4,321.4 982.6,280.6 880.8,364.5 1062.8,200 1021,229.1 1062.1,237.8 1060.3,208 1061.1,202.7 959.5,283.6 946.8,304.8 935,309.1 994.7,282.2 866.8,386.6 1151.3,169.9 1040.9,193.6 926.7,332.3 1016.8,262.6 1093.1,175.9 881.5,341 986.2,289.5 946.4,343.8 1080.5,180.4 996,283.3 1001.6,266.5 1086.5,183.4 969.7,300.7 1004.4,270.9 875.1,376.7 1067.4,242.5 911.8,349.2 1112.7,141.9 974.5,248 999.8,260 932,342.1 877,345.3 1064.8,203.5 909.3,345.9 986.1,279.6 834.4,398.1 993.4,275.7 1021,279.7 956.4,304.3 867.7,363.4 1016.4,259.1 1085.7,186.6 856.3,360.8 889.2,364.6 1014.8,271.1 934.2,311.7 1001.5,258.4 1092.2,203.9 972.5,279.5 843.9,388.6 887.2,335.1 871.9,371 960.7,312.4 1014.8,253.6 922.7,308.6 1099.1,144.6 837.8,412.7 922.8,336.8 1048.2,207.8 879,342.8 1128.9,163 961.2,300.5 1046,230.8 1079,206.1 1012.5,255.1 865.2,386.2 876.9,378.5 1050.1,212.2 1001.8,266.4 969.2,300.4 1168.4,99.9 868.7,383.7 994.9,262.4 895.1,380 1037.2,224 1056.2,226.7 1011.7,254.6 906.2,358.1 1075.5,195.9 1108.8,131.6 1037.5,221.8 1082.3,231.6 1026.1,255 992.1,273.7 900.3,336.4 1087.5,169.8 988.8,289.5 1052.8,241.4 1056.1,219.5 937.8,327.6 1023.9,249.3 1031.2,230.5 1012,237.5 913.5,344.4 911.3,359.1 995.8,251.8 983.6,290.7 1004.2,247.1 920.3,320.2 1079,155.7 898.5,357.3 950.2,310.5 1070.3,219.2 995.4,273.5 1033.6,193.3 952.2,316.3 1073.2,188.5 910.4,343.5 875,388.5 827.9,377.9 1108.7,134.6 979,310.2 970.7,282.6 844,414.9 912.4,343.2 1062.4,181.9 869.3,389.1 981.3,284.4 1023.4,271.4 966.7,260.6 1021.4,195.9 1030.8,228.2 1076.5,163.2 978.3,309.1 863.7,379.3 1011.3,246.5 918.9,330 866.7,381.6 1044,230.4 999.6,237 939,318.8 1007,282.3 1002.3,274.2 955.2,302.2 1071.6,166.2 960,315.1 886.9,366.7 848,412 929,340.9 1107.1,167.3 875.1,374.3 1020.8,258.8 953.2,327.2 1034.4,222.6 948.2,271.9 1092.4,205.5 1013.8,249.3 900.8,357.3 882.7,369.4 988.1,238.2 814.2,414.1 996.9,265.9 1055.8,233.6 961.1,272.7 985.3,254.7 982.4,265.2 1102.8,181.6 1039.7,219.2 1018,250.2 1105.9,175.3 1116,165.7 1039,250.2 934.6,324.1 1026.4,254.3 1119.9,163.2 1014.9,241.1 959.7,299.2 999,292.9 1025,223.2 869.5,349.5 973.2,287.3 1098.3,144.3 982.7,246.1 903.1,354.6 982.2,275 960.9,298.9 1022.3,235.5 1026.4,253.6 1082.7,203.3 992.8,278.6 1006.4,281.6 894.3,365.1 968.6,290.5 1048.9,218.6 947.5,298 1003.3,260.8 994.3,257.6 1038.2,215.5 1031.7,238.2 881.9,384.2 943.4,308.9 1049.9,218.5 1046.3,234.5 868.6,370 1164.4,125.4 946,312.3 1059.2,216.3 1024.3,227.3 1006.2,268.7 954.4,293 1025.5,249.6 994.8,285.7 1004,270.6 956.9,296.2 926.5,318.6 1062.2,212.9 867.6,389.7 985.6,321.6 865,369.4 1045.4,194.4 1029,236.8 938.3,297.3 870.2,381.2 1137.5,133.7 882.7,359.8 967.1,295.3 1030.8,240.8 1069.9,158.8 1000.2,279.1 979.1,282 819.1,424 1021.6,250.5 901,343.8 1031.7,251.9 998.5,244.5 1155,156.4 958.7,285.7 1033.9,217.6 918.5,309.3 1077.7,226.3 898.8,365.7 966.3,292.4 1047.8,205 885.5,369.7 990.2,271.1 957.8,308.7 1073.6,227.6 991.9,262.7 965,312.5 1005.5,241.5 951.7,307.1 932.5,343.5 902.5,359.2 947.2,305.5 895.2,346.6 859,382.6 1111.8,165.3 1019.3,203 883.7,386.5 999.7,277.3 1079.2,183.1 1064.3,187 986.3,250.8 972.2,301.3 894.2,347 958.2,287.3 895.7,332.7 837,415.9 928.4,300.5 1062,217.7 1096.1,190.8 957.7,309.4 950.6,317.2 879.1,380.7 895.1,361 899,369.8 930.4,315.6 1067.1,229.2 928.4,335.8 1045.7,227.4 1054.1,204 1006.9,248 1015.8,252.9 1021.3,208.8 1004.4,265.1 951,327.9 1014.4,229.9 989.5,286.5 1139.4,159.1 1088.4,177.8 1166.3,167 974.1,281.6 941.1,295.2 1045.6,212 1028.8,234.4 1114.8,164.9 888,343.2 1042.8,242.1 1027.9,261.2 967.6,276 953.5,307 1006.7,270.8 905.9,355.8 862.9,383.4 985.4,252.2 1098.9,176.1 969.6,314.4 1094.9,182.3 1008.9,266.4 927.7,315.1 1072.5,210.8 871.7,367 898.9,350.7 950.2,317.7 989.9,264.7 1139.9,152.4 966,288.4 1036.1,256.2 1013.9,245 1036.5,243.4 986.3,261.1 958.5,301.4 908.5,369.6 1069.5,221.6 997,269.8 1110.8,173.7 1029.3,218.6 1132.3,154.4 879.3,367.6 909.8,339.2 894.2,388.3 894.5,361.6 1077.4,176 986.7,280.4 900.4,342.7 1107.7,145.8 1024.8,279.1 1101.7,136.5 908.6,343.1 1040.8,172.8 996.3,257.2 1068.1,143.3 1030.4,225.3 893.8,359.2 1029.2,239 1100.6,185.1 1058.9,253.7 965.5,292.4 1073.8,178.9 1137.6,156.2 839.6,394.2 904.2,349.6 882.4,378.7 1049,201.5 1046.8,250.3 829.5,422.6 889.6,369.8 993.4,267 940.3,327 938.1,357.3 1118.1,154.8 1029.2,225.1 1011.9,245.7 980.9,291.7 1072.6,240.9 1087.3,179.5 979.7,280.5 1085.1,216 1013.5,253.4 831.9,404.8 1109.3,138 1057.7,246.1 985,274.7 1176.5,102.2 963,299 1089.3,194.4 926.4,349 1017.6,248.4 1010.4,245.7 1012.9,274.4 953.3,304.6 935.8,334.5 1042.2,231.9 822.1,418.2 930.3,322.6 860.3,380.4 980.1,325.9 946.8,321.6 1109.5,200.6 892.6,364.8 1094.3,166.6 942.8,315.3 1013.1,228.7 922.5,333 1067.4,199.1 943.7,317.8 1067.1,192.5 973.9,298.9 946.7,328.7 994,287.3 832.6,399.9 1014,232.7 936.7,329.3 1104.6,182 908.4,362.3 1066.5,199.2 930.7,273.7 969.7,324.7 913.1,353.5 1092.7,187.4 945,339.7 919.5,327.5 887.6,368.8 1025.8,286.4 995.4,257.5 978.2,256.3 1018.7,239.2 922.7,351 1042.4,201.5 1051,201.4 1004.1,263.2 1045,219.8 1023.1,237.5 1017.3,287.6 1048.9,199.2 1035.1,224.1 971.1,287 964.6,311.2 986.5,250.9 1120.9,154.8 939.7,347.2 888.5,360.5 1042.7,255.6 1028.8,248.4 855.3,416.3 1136.7,130.7 1021.4,214.3 868.7,375.1 1039.7,216.8 993.7,277.5 828.6,414.4 1067.8,209.5 960.5,298.2 1076.8,186.9 1091.6,176 1029.3,252.9 1039.5,233.3 948.5,310.3 1102.2,185 839.7,413.5 955.9,268.6 1010.7,242.3 961.8,289.8 922.8,333.2 1008.7,259.2 1085.9,191.1 908.9,339.8 971.2,283.7 1045.5,231 1045.1,233.3 1089.3,175.6 967.4,293.6 945.4,302.2 989.4,288.1 1000.8,255.4 1095,179.6 945.5,324.9 996.8,280.4 1062.9,201.6 919.5,333.6 981.5,289.9 852.1,394.3 1015.3,292.6 927.1,310 1018.9,272 946.3,293.2 1046.1,226.4 1036.3,240.6 1037.5,249.5 1062.9,246.9 853.3,386.5 969.1,279.9 1027.9,275.4 1032.6,210.1 1042.2,218.3 905.7,352.3 909.4,351.5 948.5,296.2 966.5,298.1 1041.1,218 911,336.2 1101.6,124.4 1163.6,145.2 988.6,279.8 978.2,282.3 961.9,297.8 912.4,352 899.9,358.4 977.6,291.2 994.2,318.2 1031.2,257.5 1091.7,201.5 977.6,311.4 958.1,285.9 941.1,333.9 1126.8,156.8 933.3,322.1 842.2,399.6 982.4,261.8 991.2,278.9 914.7,340.3 987.5,251.7 1120.4,139.1 876.7,377.7 1001.8,253.4 993.3,238.2 947.5,306.7 1010.3,236.4 873.2,380.4 1089,165.5 1001.7,275.6 1130.4,109.3 972.2,293.7 920.1,316.8 1047.5,230.2 1038.7,233.7 843.1,394.4 992,207.9 1043.6,221.1 1011.8,274.5 1068.3,219.6 1018.9,214 873.3,401.6 1087.7,162.4 995.9,280.4 1058.9,208.1 994.9,277.5 1042.2,247 1052.5,213.9 897,355.6 1020.2,245.2 1017.5,253 958,297.6 926.7,333.2 947.8,305 894.6,369.2 827.3,403.4 1064.3,204.5 1042.9,231.5 1065.6,209.1 1029.4,258 932.6,318.5 901.9,342.8 1077.2,189.7 838.8,394.4 872.2,367.6 947.6,319.5 1005.3,270.1 901.1,350.7 839.8,396.3 969.1,331.2 1062.4,219.1 891.4,345.8 987.6,287.6 974.4,254.3 996.3,243.6 1024.1,245.2 892.4,366.4 1054.4,240.1 1107.7,177.1 884.8,374.4 970,293.8 943.7,312.2 975,296.3 965.8,257.7 1112.5,159.6 839.6,401.9 1097.1,201 920.3,324.1 996.8,275.5 1113.4,142.2 1066.7,199.3 875.9,377.6 1025.4,265.5 874.8,388 1074,213.1 1018.3,219.7 928.8,339.4 1179.9,97.9 999.9,255.6 998.4,280.7 938.1,343.4 1100.3,170.7 965.8,295.2 928.4,326.3 1104.1,171.9 1026.6,245.3 1048.2,199.7 885,379.8 1078.6,213.8 899.9,370.7 1016.7,264.8 933.6,334.2 991.3,254.7 1128.3,133.9 869.9,401.3 1003.1,231.8 938.8,322.7 874.2,366 914.3,362.3 1078,201.1 975.3,296.9 924.7,339.8 1020.1,284 907.6,333.4 884.8,375.9 953.3,282 940.9,330.5 911.2,349.4 1031.7,200.1 986,301.4 898.3,362.9 926.3,332.7 994.5,262.5 894,367.2 1099.9,167.5 1116.3,177.6 1010.7,258.3 935.6,316.5 1006.2,281 1029.3,264.7 994.5,260.8 961.3,300 1177.3,156.4 913.7,324.8 1035.6,209.9 923.6,313.4 942.1,297.1 928.3,350.9 1041,215.9 1013.9,253.4 965.3,286.3 909.8,349 1004.5,280.1 1008.8,295.7 999.3,232.2 903.7,355.9 888.7,370.7 998.9,270.2 969,294.6 973.2,285.7 917.5,344.9 1034.7,232.6 861.2,388.8 895.3,362.4 932.8,312.3 1022.3,256.4 1090.7,182.2 982.4,288.9 993.4,248.4 1122.4,155.5 994.8,295.8 1004.8,262.1 965.7,315.1 897.3,366 1131.9,117.9 898,341.9 962.2,282.7 930.2,313.9 908.8,356.1 965.7,318.6 901.5,355.7 1089.6,171.7 1029.5,218.1 1070.7,224 1085.6,188.7 1030.1,233.4 1092.6,160.1 876.9,375.8 1012.1,280.2 950.7,316.8 917.3,344.5 861.9,384.7 883.1,391.2 1012,241.7 899.3,365.2 1050.7,236.6 1062.1,198.3 1061.7,184.5 862,363.9 1036.2,220.3 1104.5,180.6 999.8,257.5 846.9,397.2 893.1,345.3 1046.9,265.4 982.4,242.7 927.5,318.9 977.3,270 912.5,359.1 924.4,304.4 934,328.4 1088.7,193 908.8,336.9 981.2,309.9 971.9,312.6 980.7,318.6 952.1,277 878.1,364.9 901.6,351.6 998.8,273.3 1007.2,280.4 984.4,272.6 1066,225.6 919.8,337.7 1043.2,269.8 1066.3,178 961.5,299.7 1084,142.6 1124.7,166 958.3,315.1 1122,157.9 942,292.6 856.6,391.1 1000.8,253.9 887,363.3 1106,208.3 1074.4,207.9 1046.3,194.6 1086.8,188.5 922.1,320.6 961.9,311.5 1090,202.6 1000.3,263.8 976.3,288.7 903.2,329.1 1039.2,241.4 954.9,302.2 1059.4,222.1 1006.4,220 957.1,324.7 969,326.4 923,343.2 1086.7,188.7 927.4,309.1 925.3,319.4 935,313.5 1020.2,282.5 1001,273.8 895.3,352.1 982.4,276.4 978.8,280.3 1065.4,154.3 1015.9,231.8 849.9,392 1130,147.6 1009.3,267 1023.6,243.3 1026.4,254.6 837.9,379.8 916.4,331.2 1078.7,216.1 980.1,236.9 942.9,313.5 976.5,278.5 1115.9,124.1 1046.9,252.1 1037.4,230.8 1062,189.5 951.8,317 1013.6,264.3 1058.7,202.4 1018.2,258.3 895,350.5 1013.5,262.8 873.5,389.6 1084.9,173 925.9,332.4 958.5,298.5 863.4,387.2 932.1,337.6 808.9,392.1 1055,223.4 938.1,340.4 1030.6,227.9 1069.6,159.3 932.2,328.5 866.3,385.6 1048.7,251.2 1080,186.7 945.1,317.7 1185.1,91 971.5,301.8 1040.9,226.2 1087.1,188.8 1039.2,249.3 999,252.7 1064.8,228.9 892.6,352.5 1015,269.8 953.7,296.5 1035.9,240.2 923.5,333.6 966.7,310.1 1044.3,173.8 986.3,283.8 931.4,343.4 1075.1,207.9 932.4,328 893.1,355.4 977.4,253.7 888.6,353.1 977.9,312.4 912.9,361.2 961.7,316.7 958.9,296.2 988.5,270 848.8,381.6 1009,252.5 1057.9,189.9 892.9,354.7 1027.7,241.9 1002.8,271.3 875.2,364.2 917.1,327.9 1010,272.1 1003.9,221.8 1061,215 904.2,329.6 1084,160.5 843.1,403.3 1059,197.6 1102.8,159.4 892.5,371.3 1023.9,236.3 920.6,331.1 927.1,320.9 1047,232.1 1047.1,205.1 989.1,297.9 915.9,345 1031.7,248.7 1066.6,214.7 1090.6,164.1 890.6,360.8 948.3,323.1 999.6,273 1068.1,223.6 1105.9,128.1 964.7,292.2 1011.4,274 982.2,260.4 928.8,335.7 1047,219 1019.7,240.6 845.9,410 934.5,314.4 885,350 1028.2,249.7 931.8,334.3 1042.2,230.2 1056.9,201.2 865.8,383.2 991.6,282.2 1024.6,224.8 1007.9,230.2 1092,195.9 948.9,319 1045.2,252.1 1013.3,269.7 1025.6,242.8 880.6,388.9 814.3,425.2 918.1,345.2 1058.2,265.7 911.5,348.1 1083.5,192.6 866.8,366.1 884.7,364.2 1119.9,149.1 875.5,375.9 1037.5,229.6 1078.8,195 1035.7,232.5 950.3,307.6 1098.7,169.9 905.7,341.9 892.1,376.5 1002.8,240.9 1040.4,205.3 1057.5,216.8 1037.9,226.5 1136.1,166.1 854.4,392.1 988.6,276.2 863.4,379.4 1032.2,220.1 981.6,270.8 1045.1,251.5 1002.9,270.7 1041.7,217.4 1107.3,179.9 1025.7,224.3 839,421.6 1087.2,177.7 917.1,340.8 1089,217.3 1111.3,178.2 1095.8,122.6 869.1,387.5 1030,219.5 878.1,366.8 1052.7,233.1 998.3,257.7 1127,153.4 1111.6,153.7 880.9,358.3 1040.1,220.8 991.8,273.1 989.4,340.9 957.9,329.9 1023,249.2 923.6,347.2 1069.1,237.7 1103.6,158.1 890.1,370.8 995.7,252.1 914.4,337.8 1033.4,234.5 907.5,343.1 1077.7,206.1 935.5,329.7 1112,166 850.4,408.1 1036.3,259.1 1030.4,230.5 906.4,347.6 913.1,328.3 1038.3,259.3 1013.6,255.7 887.2,373.8 1107.6,169.1 1014.2,248 985.8,246.2 1048.9,213.8 955.7,325.5 1032,275.5 936.5,329.4 960.3,300.7 931.8,289.9 1045.6,200.8 1103.7,186.9 1009.7,255.8 898.3,353.4 1100.8,124.9 940.5,313.2 945,306.7 1148.1,121.1 842.6,381.5 1028.7,207.5 964.1,297.3 873.8,376.3 1044.1,258.8 871,371.6 1005,261.3 1008,260.6 1178.5,117.3 1020,246.4 901.2,348.8 1029.7,230.9 962.9,297.4 1062.7,219.6 887.1,358.6 854.4,378.1 1038.6,215.4 1115.3,193 1130,146.5 1112,151 1088.5,171.3 1072.7,194.7 1069.6,185.5 972.1,295.7 991.3,271.3 1068.8,207.7 1062.2,211.3 887,352.9 943.9,287.1 992.5,295.9 946.2,311.5 991.6,264.6 1048.3,218.8 984.8,284.8 1118.2,133.8 1114.7,181.2 934.6,319.3 913.5,318.5 974.7,315 919.3,335.3 926.8,344 1100.3,187.8 956.8,284.2 924.9,349.3 1034.4,235.9 883,378.8 1042.6,229.6 1049.2,180 995.6,276.3 1019.3,245.9 1057.9,196.8 888.7,365.9 997.4,274.1 974.3,284 910.1,351.4 949.3,316 956.6,324.1 930.5,329.6 1013.9,265.8 823.1,390.2 886.6,359.5 1065,206.9 927.9,355 902.3,348.1 1012.6,251.8 851,385.8 1075,214.3 1123.4,155.2 1053.4,211.3 956.7,315.4 931.2,319.6 1047.8,260.6 967,297.9 963.8,286.8 987.9,294.1 961.2,298.1 1024,237.9 951.8,309.6 998.2,290.3 925.3,333.1 1087.3,170.2 941.5,322 1153.2,128 1039.5,225.5 820.5,422.2 933,322.9 899.2,357 952.4,285 1100.2,184 1005.2,241 1125.7,163.4 875.2,384.5 1049.3,244 1063.9,199.1 1043.1,212.5 922.9,335.9 994.5,282.8 1027.9,233.3 1025.7,239.7 900.6,343.8 1109.5,199 1021.6,239.3 939,292.3 931.7,294.3 1072.4,190.8 984.4,230.2 1081.8,180.4 864.6,360 1043.3,229.8 1028.9,206.4 962.8,306.1 999.3,279.8 1073.6,171.1 861.5,370.5 977.2,283.8 1035.2,177.3 1006.5,257.9 1068.1,209.9 1035.1,246.1 911.5,341.4 1033.9,237.4 934.3,322 950,303.9 937.6,323.6 997,287 1082.8,172.9 990.8,217.1 815.5,424.8 860.3,381.3 986.2,265.5 960.5,310.1 980,268.9 1075.7,185.6 1009.8,276.6 893.8,362.4 904.1,352.1 1033.3,244.8 963.1,286.8 1002.3,264.9 924.4,339.9 991.4,267 1069.2,210.9 914.1,326.4 1094.2,164.4 873.8,386 892.8,361.7 895,354.4 920.7,349 1018.3,260.4 959.3,292.2 1035.7,268.9 975.4,281.6 1012.5,273.2 1036.4,233.8 1037,242.9 902.7,360.7 1091.4,188 1060,199.9 956.1,314.6 1101.1,179.1 909.7,337.5 1120.4,154.8 849.8,416.4 987.7,238.9 907.5,335.9 1049.1,228.9 885.8,382.3 975.4,313.6 1084.6,192.9 915.4,349.6 956.6,309.1 848.7,399.7 1102,163.1 960.5,303.6 960.1,299.5 941.9,306.9 945.8,325.3 843.7,398 1088.3,152.3 1044.7,205.2 944.9,327 961.9,322.8 1044.8,210.8 1052.4,172.8 967.1,296.1 1078.8,204.4 869.4,378.4 1030.2,193.6 1123.1,142.4 878,362.1 954.9,297 960.8,279.7 997.2,278.8 990.2,270.7 943.9,306.2 938.5,329 1024,204.8 924.5,333.2 1024.2,275.2 978.3,268.6 1048.8,234.5 902.9,376 987.5,262.4 906.1,363.2 992.8,283 853,392.9 1012.1,244.3 885.9,374 972.3,307.3 955,323.7 1029.9,247.2 975.5,282.3 942.4,323.5 1013.1,249.2 906,324.6 907.3,346.4 1115.9,177.1 913.4,325.1 951.2,297.7 898.2,357.1 1038.8,224.7 960.2,316.1 1108.8,167.9 1050.9,223.2 1027.7,253.1 1104,150.3 924.3,338.9 1014.5,263 890.1,356.5 1092.3,181.2 959.5,307 884.2,366.2 1072.8,204.3 951.6,307.7 858,385.8 943.4,338.2 1066.4,191.4 947.3,315.2 948.9,307 980.2,274.9 853.4,389.9 890.3,351.3 932.6,306.7 902.4,342.2 964,297.4 1066.9,179.7 993.9,249.8 920.3,347.6 950.2,345.8 893.3,350.3 915.7,316.4 990.7,287.8 1068.3,194 857.8,380.5 1042.4,220.2 933.3,306.8 1013.2,266.7 1024.6,195 1005.6,264.7 1105.3,167.7 843.6,389.2 1097.9,159.1 1027.6,235.5 1052.3,248.5 932.9,320.7 910.6,346.4 997.4,277.1 1092.8,173.6 987.9,279.2 938.4,322.4 1042.4,207.6 1032.8,200.7 1057.1,253.6 1090.5,205.2 962.6,289.3 1072.9,195.4 999.7,270.3 941.3,309.7 990.6,247.6 1033.6,211.1 1047.4,246.6 943.3,324.3 935.7,293.1 920.8,316.6 933.4,311.6 982,320.9 1064,225.1 1091.8,164.4 926.5,338.1 1107.5,166.1 981.5,265.1 860.5,397.3 1100.4,202.3 1092.4,164.4 1013.4,225.5 1078.2,185.8 955,289.2 881.2,365.9 1041.9,243.9 875.8,352 839,399.7 993.3,290.7 1004,256 948.6,319.3 928.6,334.5 970.9,302.2 1054.5,228.2 934.4,331.6 927.7,333.9 1043.4,260 1008.1,285.6 984.3,285 968.2,305.2 989.5,284 899,365.9 993.2,275 903.6,348.7 929.3,333.4 988,274.5 1046,209.7 850.6,387.9 1023.7,261.5 960.5,283 920,310.2 887.5,360.8 993.2,276.7 846.7,388.2 936.3,327.6 1092.5,183 895.6,339.3 1004.6,256.1 1091.4,168.4 915.8,332 976.6,277.7 1073.3,216.2 947.2,321.3 1079.1,191.5 1001.2,277.5 950.1,317.7 870.5,374.2 924.1,331.3 986.1,280.2 989.4,302.7 934.1,317.8 941.7,307.7 880.4,343.7 1032,203.5 1134.7,146.3 1160.6,87 874.3,377 851.2,404.6 1033,246.9 1050.9,224.7 1051,223.4 1005.6,267.8 900.9,373.6 1075.5,183.2 1028.9,280.7 875.8,382.2 1075.3,200.3 968,306.4 949.4,306.2 1001.3,265.4 1034.5,220.8 861.2,389 1136.7,172.7 986.1,279.2 987,279.8 1071.2,193.7 948.1,336.8 910,323.2 855.2,393 987.9,297.9 1061.3,197.7 1118.8,158.9 1080.1,196.1 1008.6,245.2 987.2,279.7 1074.7,277.8 903.2,358.1 1094.9,154.1 1014.3,241 1063.5,195.5 1021.6,235.6 1050.3,219.1 1046.6,258.9 957.5,323.1 1054.4,208.5 917.7,341.6 1048.7,196.5 1036.1,243.9 879.3,371.1 1081.7,179.9 873.5,394.1 1090,189 961,297.3 1053.7,246.7 1027.6,245.8 1027.5,246.2 945.4,332.1 1070,226.9 1018.1,260.9 983.3,278.2 876.6,370.1 924.8,304.6 820.3,423.7 904.2,347.5 852.4,386 1051.7,256.8 927.2,336.3 881.6,364.1 918.8,339.8 1110.6,179.7 1025.2,262.2 960.5,290.6 875.6,375.9 885.4,353 1037,225.4 923.8,332.5 925.8,324.4 967.7,295.2 1009.3,255.7 894.5,349.2 1040.7,230.2 1076,239.1 1071.9,193.5 1049.7,226.6 947,315.8 862.9,376.4 1087.3,135.1 980.1,277.5 966.1,291.8 927.7,333.9 1009.3,258.1 1030.7,220.3 1086.3,178.7 1001.1,267.9 1022.2,241.5 1012.3,258.2 919.7,321.2 1078,162 1134,126.2 996.2,261 1054.2,208.7 939.2,316.9 985.3,304.9 889.4,372.5 1110.8,171.6 1029,250.1 923.6,361.9 1000.6,298.3 1036.8,250.5 1033.7,200.4 1168.2,78.4 997.2,269.4 1077.4,215.7 953.2,282.9 991.7,246.3 970.9,288.1 1023.8,260.4 1117.5,124.8 969,315.8 1135.1,124.5 873.5,367.8 959.9,292.9 985.3,258.7 1058.5,203.7 890.8,358.1 1019.4,238.7 998.6,271.9 974.2,296.4 1069.5,234.3 1069.3,201.1 967,272.6 852.3,391 1019.1,273.3 1058.7,177.3 965.7,288.9 973.8,307.6 949.5,329.5 991.9,269.4 887,366.6 966.3,286.3 1010.5,248.1 977.2,268.8 1153.2,98.2 1049.8,193.2 911.1,334.6 896.3,373.9 1054.9,220.5 925,331.7 1013.9,204.7 1023.5,272.8 919.7,349.6 1136.8,150.9 971.2,299.6 1027.1,264 1197.1,99.2 1110.7,165.2 883,375.9 976.7,297.6 1033.7,204.8 997.5,279.1 861.8,390.6 875.3,391.1 1079.3,201.5 959.3,294.2 1124.2,149.5 1111.4,143.5 979.3,293.3 1105.2,152.3 858.1,383 914.6,340.1 1007.3,227.6 1010.3,280.4 1131.3,165 983.8,296.8 1035.7,261.6 983.1,251.7 955.7,292.2 999.9,295.8 1043.6,213.7 928.4,359.4 1046.9,213 965.3,340.4 1041,245.4 866,384.4 1031,250.5 1016.4,250.3 985.6,257.6 962.3,302.1 849.1,385.3 1063.7,235.8 919.3,342.1 932.9,316.3 949.2,312.6 1134.3,97 1062.6,258.5 1050.8,226.8 1027.4,225.9 914.9,341.8 946.2,306.6 1090.5,162.6 965.1,308.2 892.3,358.4 911.1,349.4 1122.1,119.5 893.8,355.9 913.8,332.9 864.7,376.6 864.1,394.5 1030.7,223.6 1057.5,221.1 1058.7,163.3 953.6,303 962.4,307.2 923.7,317.4 1098.4,169.3 914.1,333.2 1037.4,227.5 880.6,363.7 1048.5,257.5 939.2,356.1 1036.6,228.2 920,340.7 995.5,275.2 988.2,257.1 1045.2,206.8 1123.5,132.3 999.1,289.2 999.8,267.4 888.5,360.9 992.4,260.9 994.4,289.5 1073.8,214.9 952.4,279 1095.1,144.5 894.2,339 971.4,303.7 968.2,304.7 932.7,334.1 952.8,314 839.3,392.3 914.5,353 990.2,296.2 847.8,397.4 938.7,321.8 993.7,256.1 875.6,365.5 1062.9,223.8 1074.1,210.8 916.4,329.9 955.4,296.5 949.9,320.1 993.8,263.8 1008.5,269.6 911.4,339.2 1020.2,235.1 950,317.1 979.2,266.1 840.3,408.7 1062.8,202.5 1124.6,153.5 876.8,370.6 945.8,306.5 1060.8,193.2 1022.9,213.1 1050.3,201.8 913.1,341 912.7,354.4 981.6,273.8 1092,166.1 973.4,300.5 910.7,349.4 1040.3,237.7 933.1,328.9 964.1,297.4 884.6,371.2 1004.7,283.4 922,327.8 1034.8,237.6 1060.6,205 1000.3,280.5 992.1,279.3 923.3,344.9 946.6,314 996,259 911.3,354.2 924,340 1000.1,257.8 1025.7,240.5 841.6,414 1028.7,273.4 985.3,278.6 1023.2,242.2 943.1,309.6 1085.8,202.7 1009.6,196.5 1016.4,231.8 985.8,245.4 1077.8,209.7 877.4,383.4 977.3,280.3 956.4,288.2 1113.9,130.6 961.8,301.7 979.2,272.3 1024.6,274.7 1019.5,252.2 953.7,327.2 924.3,318.2 931,326.5 880.3,354.3 1049.6,235.4 903.8,334.2 982.5,295.2 1038.8,204.7 936.3,323.7 955.3,305.5 887.6,363.5 899.1,352.8 1054,190.4 1137.6,144.3 914.8,350.3 900.8,343.4 959.7,296.2 1027.2,206.9 1104.2,174.3 888.8,367.8 979.6,301.7 922.7,335.7 964.6,291.2 1049.4,227.6 886.9,373.8 947.5,298.5 1117.5,159.3 1000.6,264.5 1115.3,145.5 917.1,330.5 1104,144.8 1052.2,159.4 960,293.5 872.5,381.4 909.6,355.8 956.3,304.4 1033.1,236.7 883.1,385.5 1047.2,195.2 1019.6,252.2 895.5,362.5 820,417.9 1040.8,203.1 885.2,335.6 842.4,422.9 1033.3,235.8 965.4,289.8 897,354.6 829.1,420.5 1039.2,206.6 971.3,303.7 1046.8,230.5 940.8,313.7 1096.3,133 1057.9,206.3 929.6,331.4 1068.5,204.6 979.5,297.6 902.1,344.7 858.8,385.7 951.4,329.4 983.5,257.1 941,328.6 1088.5,222.3 1082.7,201.2 1045.5,193.5 918.8,348.8 1006.1,253.1 842.2,404.5 957.6,311 1104.9,145.1 1009.2,236.7 939.6,344.8 1097.9,174.5 1043.4,244.6 1030,253 1030.5,229.3 1033.1,246.3 977.9,281.4 935.7,331.3 887.3,358.8 838.5,413.7 989.8,289.6 1039.8,199.9 1128.1,152.6 1039.4,271.4 916.9,337.2 1109,201 1011.3,276.1 1109.4,112.4 931,307.5 990.4,262.3 997.2,280.1 958.9,311.2 883.1,393.5 921.3,350.3 1021.3,264 1118.2,159.4 1095.9,190.5 969.2,292.6 1120.7,175 1074.1,204 853.7,391.1 1004.8,263 1034.1,245.4 954,287 852.7,394.8 1120.9,154.6 1007.5,263 1131.8,135.3 971.5,272 1021.2,217.7 847.3,393.5 984.5,275.9 1145.5,127.1 947.5,313 1046.7,235.6 938.7,319.6 922.2,338.7 982.7,284.3 1018.6,243.7 1066.3,216.9 1044.6,197.1 901.3,354.9 975.9,292.2 928.8,302 1082,184.5 931.8,311.8 1053.8,203.1 994.4,278.9 1009.6,235.7 1089.8,190.4 889.9,347.3 1054.3,238.6 1058.2,227.5 974.5,282.7 879.4,377.4 877.7,374.1 1045.3,218.5 955.2,307.2 962,332 1082.4,176.3 1117.2,166.1 1037.1,280.1 1061.9,208.9 1048.9,204.4 918.4,326.3 1071.9,204.4 970.4,288.2 965.1,335.2 977.1,282.7 1007.7,251.2 977.1,271.2 1022.2,239.3 888.6,360.4 927.5,329.7 1027.1,248.1 1039.3,221.2 1104.9,191.7 1068,229.4 1015.9,267.5 1025.2,268.4 988.3,266.5 907.3,336.9 1032,232.1 1029.8,232.2 969.4,268.3 986.3,282.7 1015.4,251.7 980.5,290.8 1000.1,279.2 1041.8,217.5 916.4,343.2 945.5,332.6 1003.3,260.9 1038.7,234 941.3,324.6 1059.3,200.1 1024.8,243.3 1104.7,181.5 986.1,287.2 948.8,308.6 1130.4,149.1 979.8,319 871.1,398 989.4,272.3 1054.6,228.5 936.5,309.6 975,285.8 1097.7,181.5 1162.7,135.7 932.7,346.1 1010.5,286.6 902.6,346.4 907.4,359.4 936.9,319.5 898.6,339.8 875.3,371.3 1046.5,211.9 1005.9,274.5 837.2,408.9 999.3,279 971,285.3 967.7,292 1044.4,236.5 883,382.1 959.8,319.4 973.7,279.2 949.3,310.3 1137.5,155.6 911.8,327.1 978,277.7 1125.8,148.4 869.6,370 889.8,367.5 1119.4,144.6 856.7,375.5 1016.1,255.6 872.3,384.3 1019.6,263.2 1094.9,196.8 842.8,409 1060.1,261.8 1173,89.3 971.3,271.9 1113.5,132.7 901.8,355.5 1065.1,212 1063.1,213.2 1011.9,275 977.7,282.6 939.9,335.3 849.5,391.9 913,346 1113.7,124.3 995.7,277.5 936,320.1 1075.9,188.7 957.1,298.4 986.2,282.5 1074.3,211.6 959.8,304.6 863.2,382.3 1027,235.8 960.3,296.6 858.9,389.5 997.1,251.6 944.7,315.1 1036.6,241.7 1032.7,227.7 1012.4,274.2 980.2,307.7 879.7,370 948.4,310.5 1023,240.1 883.9,342.3 1034.6,209.3 1162.8,166.7 903.4,353.6 1016,257.1 1038.5,228.1 1110.8,136.1 1068,227.1 1034.1,259.6 912.6,349.9 943.6,303.4 1059.4,176.3 1088.4,167.9 998.8,234.4 932.7,348.9 1025,253.5 1041,248.8 854.7,370.7 1098.3,184.4 978.9,295.2 993.6,284.6 1019,250.5 906.7,364.7 947.8,314.3 1036.4,174 1058.7,219.1 1066.8,197.1 1034.2,241.8 1048.2,196.1 1063.8,208.4 907.4,361.6 1085.5,169.2 1023.8,231.2 1007.9,249.1 853.5,379.7 1092.6,147.4 1082,190.5 1068.8,200.8 1043.3,229.6 873.1,384.1 922.6,340.4 1052.3,209 952,291.7 1004,209.9 1009.7,267.1 1069.5,182.2 991.8,271.3 1042.5,231.9 938.7,316.8 983,254.3 1049.8,164.2 975.9,317.3 1041.4,222 857.4,394.1 891.2,364.6 1001.3,255.9 904.2,336.6 1039.5,248.9 920.9,324.5 880,371.8 986.9,271.9 952.3,287.3 919.6,348 1150.7,144.7 962,348.5 1021.6,241.4 932.2,327.9 900.2,363.7 1091.6,141.1 907.1,350.4 1032.3,222.3 981.3,302.8 930.2,342.5 1078.4,190.2 1015.7,269.5 1083.4,200.5 1116.6,191.9 1014.1,218.4 853.6,380.1 1043.4,228.3 1056.7,209.5 1022.6,224.6 971.2,297.9 1059,235.8 1049.5,247 844,423.3 961.5,306.2 877,365.6 951,317.9 997.8,278.3 911.6,358.2 1004.8,254.7 941.8,285.5 1062.7,196.1 1029.1,216.7 1054.4,197.6 1049.9,205.6 1017.8,260.7 987.4,256.5 1035.6,250.7 937.4,308.2 967.9,261.2 990.6,276.7 1006.8,270.6 1049.4,189.3 978.9,296.9 892.4,352.4 1058.7,211.9 960.6,299.5 964.3,328 924.1,343.9 983.6,298.7 852.6,390.5 886.9,359.3 936.6,322 1035.9,234.8 877.3,375.6 1112.5,167.9 1031.4,236.6 964.9,287.9 981,291.6 973.7,280.1 906.2,352.5 927.7,331.4 1070.4,214.2 934.6,317.8 1119.1,150.2 1005.9,214.3 955.9,297 890.3,363.4 861.4,396.4 858.5,409.4 950.3,264 882.1,381.7 916.4,341.7 986.7,258 1010.1,293.7 1186.3,94.4 1034.6,259 1026.4,286.2 909.4,356.9 948.4,288.5 1039.8,238.5 1011.5,258.8 987.6,285.1 1067.1,232.5 1055.8,211.6 1094.2,195.8 958.5,291.2 877.8,361.3 1019.6,227.6 977.3,253.6 1100.8,172.7 990.6,275.2 1144.6,155.5 1008.2,248.9 990.9,292.1 1058.6,205.5 957.5,281.7 979.6,289 915.6,353.8 1072.2,204.3 957.6,275.5 971,296.5 921,345.1 904.5,373.7 843.2,407.9 963,302.7 1075.9,195.4 980.2,291.8 867.5,368.2 938.1,334 963.8,296.1 955,315.4 1046.2,218.9 1000,268.4 859.1,412.9 872.7,393.9 1058.7,185.7 918.4,345 1019.8,240.9 918.7,309.6 936.1,334.7 1057.9,262.8 895.1,354.5 896.4,362.4 1017.1,244.5 1076.4,163.7 1021.3,274.1 1011.8,277.4 1088.8,199.1 918.6,369.3 1081.8,123 1012.5,264.6 985.8,288 920.4,349.8 877.1,368.4 1019.9,265.2 1101.4,171.7 1010.6,222.8 949.9,297.6 992.3,288.5 979,278.9 959,307.6 889.1,363.6 890.7,368.7 939.7,310.8 1076,223.3 1147.2,112.5 964.9,296.3 1020.6,275.5 850.3,390.4 855.9,401.8 888.9,363.9 1033.3,225.7 1098.2,174 930.8,336.1 918.6,319.9 963.8,301.7 988.5,278.2 1071.5,168.4 885.7,377.4 981.7,301 999,244.8 946.8,268.9 970.4,286.8 1115.5,206.6 982.5,278.6 1099.6,151.6 1051.2,214.3 1059.4,221.3 1017.8,232.9 976.5,286.4 1010.8,216.8 912.7,327.7 967.3,290.1 942.7,322.8 841.9,412.3 958.2,269.1 1045.7,202.7 1011.9,218.2 1043.8,256.2 1044.4,240.8 948.4,321.9 935.6,312.3 884,371.8 980.5,292.4 1052.1,204.9 908.2,339.7 1099.1,158.6 970.8,308.3 1048.9,210.8 1062.2,185.9 911.1,346.6 820.5,418.6 824.5,415.9 1042.4,229.9 1136.9,261.5 1108.8,161.6 1055.7,207.4 1121.4,175.6 1067.1,178.7 983.6,276.4 952.1,306.3 1095.9,120.4 1064.7,183 991.8,279 846.8,375 922.5,331.3 977.1,305.7 1011.7,246.5 1041.6,246.5 1033.8,246.5 966.5,315.5 982.8,272.8 958.2,318.1 943.9,335.3 931.7,354.9 936.7,324.4 1027.7,256 917.8,338.4 1051,267.8 1083.9,156.2 946.5,313.1 952.6,307.7 1086.4,192.8 1053.3,216.4 979.2,296.5 1001.5,253.5 833.3,411.4 920.5,354.1 1060.4,203.2 859.5,386.6 903.8,355.3 916.4,358.5 1120.2,153 884,385.2 1011.4,245.3 986.7,289.8 952.7,314.9 994,259.7 934.3,323.7 975.4,279.2 1082.2,142.8 1013.6,252.8 845.9,381.1 885.8,373.1 953.4,314.2 1103.2,186.9 945,291.2 935.7,339.3 941,325.6 940.3,326.6 971.5,299.8 926.3,340.5 1182.5,106.5 1036.8,195.4 1137.8,128 1054.1,218.6 1019.1,237.5 1050.8,221.5 1030.5,197.4 949.7,308.9 942.9,311.5 918.1,336 857.1,382.2 1006.1,294.6 936,325.8 1023.7,262.7 923.3,351.7 1067,167.4 1001,248.9 863.1,382.4 1007.1,228.1 1046.4,249.5 975.7,294.7 879.2,365.7 1081.6,172 1121.2,171.3 917.4,330.1 931.9,331.4 1035.5,231.4 1101.6,205.3 997.4,259.3 942,328.6 906.9,339.1 974.1,250.6 942.9,332.2 892.2,345.9 889.1,345.1 1001.5,278.4 997.7,274.8 941.7,302.2 1024.7,242 988.1,303.6 873.4,392.5 916.2,336.7 1102.4,164.5 937.6,335.2 1052.2,212.6 864.7,377.1 1090.4,167.7 916.6,342 950.5,317.3 934.8,334.1 964.6,297.9 855.9,383.5 1101.7,147.3 906.4,350.3 1136.5,144.9 958.8,294.7 965.6,315.9 916.4,323.4 841.5,399.5 1070.5,187.2 1002.4,278 1107.3,150.7 1068.9,208.7 993.5,227.6 959.1,310.1 967.5,296.6 1102.9,182.1 993.5,261.5 841.5,403.6 1089.5,139.6 1069.8,206.7 979.7,284.6 996.6,284.6 1078.5,163 920.1,352 884,362.4 1070.6,204.8 1121.2,147.5 988.8,283.6 955.8,285.8 868.4,375.4 1039.5,201.8 978,260.3 1009.9,241.5 954.3,301.2 957.3,282.4 1015.7,235.3 1054.6,199.1 884.8,368.4 861.8,390.4 939.4,324 1023.5,226.8 993,274.8 991.3,267 943.7,325.8 930.4,315.9 1020.9,231.9 1024.1,194.4 1033.5,237.7 1011.7,261.4 900.8,360.1 970.2,322 959.1,287.9 998.4,276.9 1064.8,217.9 1127.5,181.6 960.5,312.7 1117.1,177.8 1035.5,204.5 1008.2,274.8 983.3,288.6 862.6,387.4 977.3,243.2 1027.3,232.8 927.9,331.9 1093.6,176.4 1116.5,164.5 953.2,282.2 913.8,323 920.7,333.4 1119.9,149.6 991.3,264.5 1041.7,234.2 953.6,289.2 1028.4,247.4 970.2,293.1 1078.9,205.6 954.4,260.4 882.1,368.6 1127.8,115.3 1025.5,233.2 948.3,291.6 961.8,316.5 933.3,328.7 925.7,327.6 904.8,336.3 857.9,396.4 994.1,263.2 935.4,330 1129.4,129.1 1023.8,201.1 860.1,371.6 1042.6,229.8 912.5,355.5 993.6,276.1 994.5,273.4 865.2,399.2 1003.5,278.3 1093.1,180.7 849.5,399 826.4,416.7 939,319.8 993.5,278.1 986.3,263.6 995.5,282.1 1108.9,170.7 969.8,307.7 856.6,390.6 1061.5,198.6 1127.5,194.5 944.1,318 1034.2,235.7 980.9,328.6 844.7,382.6 1004.9,266.7 948.1,298 993.8,301.7 990.8,257.3 1078.6,173.2 865.3,383.6 1064.4,161.4 1004,225.8 970.8,307.6 968.6,279.1 994.6,286.8 851.9,395.8 944.7,339.8 907.2,345.3 1143.8,153.3 932.7,345.8 967.4,303.4 1034,255.9 924.5,343.7 1119.9,180.9 983.5,285.7 1006.8,240.1 1181.6,153.8 1065.1,194.9 1120.4,162.4 1007.9,266.1 1082.7,209.7 1131.2,174.1 939.9,352.3 1050.5,208.9 1096.9,202.6 998.4,294.3 1026.8,247.1 1016.7,282.6 1066.7,193.6 1000.9,241.9 1117.2,140.7 975.1,287.8 1055.8,203.5 1089,189.3 1088.3,209.9 923.7,330.1 1060.9,182.9 1069,209.7 993.8,275.3 1025.6,238.9 1033.4,242 1095.7,171.2 881.8,379.1 942.5,328.9 903.1,349.5 984.2,273.8 1082.5,201.3 827.1,404.8 869,383.9 1026.5,222.1 1100.2,152.2 946.6,306.1 847.2,404.6 829.6,404.8 930.2,332 1072,189.1 986,291 1051.4,229.6 932.9,306.3 983.2,276.4 1024.4,206 1004.4,255.6 1005.2,275.3 1028.8,262.1 1051.6,232.7 958.4,319.3 1059.8,239.6 1067.9,239.8 1027.3,254.9 973,304.2 839.2,379.8 1043.8,237 942.8,325.3 917,347.1 1044.2,219.8 919.9,316.6 946.6,308.5 1120.3,166.9 925.6,328.4 984,271 1102.9,191.2 1013.7,296.3 921.2,312 1001.2,263.6 982.3,258.9 960.7,313.3 961.3,312.9 985.1,297.7 1063.7,204 1069.9,189.4 913.4,337 903,358 1056.5,211 1010.5,261.9 1030.6,259.7 934.4,328.8 922.3,331.5 1023.1,260.2 1042.5,238.3 1132.4,170.7 1023.2,231.5 959,286.5 1106.1,164.5 1153.4,185.9 891.6,356.9 1045.1,226.5 901.7,354.3 918.1,347.4 1116.3,164.4 950.7,317.5 988,291.4 836.2,419.5 1100.2,144.5 1034.8,228.2 946.7,346.2 889.3,376.8 958.3,315.4 971.3,261 892.5,338.9 1017.9,259.7 934.6,310.7 877.3,387.5 1053.1,192.3 970.9,300.1 914,332.8 940.5,334.5 1025.8,241.9 1101.6,202.4 997.3,252.9 1087,173 950.8,291.4 978.2,288.1 1078.4,213.1 925.1,328.9 944,327.2 875.6,386.2 1067.7,197.9 1015.4,247.2 1047,215.5 1056.8,230.7 994.8,275.5 941.9,329.6 1004.4,276.4 879.2,367.5 1050,198.6 921.4,349.4 1010.9,271.5 1030.1,241.3 994.4,258.6 1027.1,219.5 1091.7,181.9 1022,235.3 838.7,404.2 1020.1,220.8 942.7,296.3 896.1,375.9 960.4,279.9 1068.3,220.6 878.2,354 1052,166 1045,217.9 879.7,367.7 855.2,385.8 1023.2,275.2 1114.4,151.8 1057.2,215 1113.3,200.1 1096.6,184.4 1040.6,240.3 1003.5,276 931.2,338.3 890.6,366.3 985.1,307.7 857,382.6 1012.2,274.7 1036.9,250.5 943.4,332.1 981.4,288.2 1042.4,253.1 992.5,277.1 1004.6,248.3 1049.1,187.2 858.9,337.8 1078,211.3 855.1,362.4 1004.8,270.5 970.7,258.4 1061.2,232.1 989.3,280.3 1090.8,169.8 977.8,295.8 1054.8,211.9 1029.8,253.9 958.8,305.4 1099.1,175.6 1020.6,233.6 949,273.7 1074.6,171.6 943.8,336.7 1004.8,264.5 1018,256.2 970.8,305.9 925.2,314.4 996.7,290.7 978.1,274.5 945.3,321.5 866,357.9 895.5,354.2 1045.7,221.3 945.8,307.2 896.9,349.4 921.6,349.9 846.1,400 1101.7,139.7 964.7,296.7 993.1,259.7 951.9,317.4 981.6,289.3 966.2,313.9 987.6,291.7 1051.6,222.1 914.7,348.6 956.9,303.1 1037.7,248.5 841.1,407.3 974.2,281 1109.3,191 1020.5,255 989.6,298.5 1057.8,232.9 1019.4,261.2 1105.5,170.6 835.6,412.1 1022.1,256.2 920.7,349.3 901.7,365.6 1022.2,200 1114,168.6 868.6,386.6 957.2,302.5 952,326.6 857,395.4 1012.2,267.5 897.9,364.6 1053.7,242.7 905.6,357.1 1036.2,235.6 1069.5,184 987.3,241.1 900.2,370.8 912.8,347.5 1076,205.7 925.9,323.8 971.2,296.7 891.1,358.9 1004.7,217.7 1033.5,251.5 866.6,383.3 919.6,337.8 1043.3,208.9 849.5,402.5 853.7,391.4 1101.7,217.8 1011.6,250.4 1029.3,248.1 1029.6,215 902.6,355.3 932.9,299.6 1070.8,188.6 968.3,302.9 895.1,345.1 1015.3,205.8 1053.2,197.1 962.3,280.4 1105.4,159.4 979.2,288.7 1077.7,215.8 1057.1,205.4 985.3,301.1 1051.2,232.7 1066.1,204.8 908.4,322.5 954.2,309.2 958,291.7 1084.5,188.1 905.8,315.7 996.5,266.5 1034.5,221.3 971.1,293.6 1041.3,215.8 982.2,280.4 955,342 991.5,261.9 1056,178.3 855.7,393.8 1047,210.3 1032,195.7 963.1,292.6 884,370.5 999.9,245.2 981.2,280.6 949.6,331.9 1000.2,239.7 1048.5,202.2 909.1,352.1 1069.5,227.8 1007.1,267.7 865.4,383.7 862.3,403.8 1041.7,241.8 898.8,363.5 964.7,284.5 1005.8,263.9 1096.8,177.8 1077.5,195.3 1001.1,267.7 976.8,258 989.9,294.2 934.6,332.8 921.6,337.2 938.5,296.8 858.2,377.8 827.3,408.7 1036.3,225.2 1046.7,210.2 913.4,348.3 1143.8,144.3 997.5,244 1133.4,135.7 864.6,385.5 1092.8,190.2 1020.3,230.9 1089,148.3 968.2,317.9 1010.9,254.1 1084.9,168.4 1063.7,242.5 1067.4,245.6 1001.4,233.2 1161,130.6 993.1,286.7 962.5,292.5 956.2,316.7 1034,249 1003.8,283.8 1005.6,218.4 1066.7,229.4 984,275.7 1068.2,189.8 1070.1,186.9 1005.2,273 940.7,292.3 1064.1,213.2 1026.6,231.5 1008.6,228.1 1067.7,203.2 1004.2,240.2 916.6,352.5 999,270.2 994.7,253.8 908.8,357 1066.2,224.2 897.6,354.7 1006.5,268.2 1110.3,176.3 1049.3,226.2 890.5,362.5 924.7,325.8 958.7,298.8 871.7,374.3 1070.1,168.6 900.6,370.4 1017,238.8 1060.9,223.4 916.5,335.3 950,310.3 925,295.5 957.7,284.8 1116.9,134.6 900.6,337.8 969.9,291.6 1038.2,220.9 1076.4,201.6 1074.4,194.9 989.6,268.1 1169.6,152.1 1087.3,203.8 1081.8,205.8 1051.7,220.7 1129.9,168.8 993.1,284.5 961,303 1021.4,201.8 894.9,361.1 993.9,249.3 915.1,352.4 950.7,322.4 885.4,351.1 969,312.4 1130.7,148.3 997.3,237.5 862.2,393 916.5,361 1033.6,215.3 1004.9,295.3 1047.4,241.6 943.9,326.2 966.8,297 1038,239.9 1061.1,222.2 1035,234.9 931.4,326.8 856.2,388.7 989.3,263.1 1043.2,203.3 868.2,386 960.2,331.7 1052.1,218.9 954.4,295.8 999.1,250.8 1005.9,281.6 988.4,300.6 1102.4,167.3 952.7,310.3 985.5,275.4 937.3,334 953.7,297.5 900.1,361.8 1009.9,278.4 881.6,381.7 958.9,335 1061.6,171.8 1104.6,196.4 1047.2,237.4 1012.4,276.3 915.7,345.5 968.6,287.8 1028.8,241.2 1098.3,183.9 925.5,337.4 816,411.3 886,371.7 958.1,304.3 997.7,255.8 1103.7,150.7 1046.3,232.4 940.7,312.7 902.1,348 1091.9,174.2 898.5,359.2 879.4,380.6 865.7,380.3 1045,258.8 1014.6,271.5 868.4,368.1 965.8,300.9 1040,242.1 914,331.3 1102.4,191.1 1078,219.7 964.1,316.5 912.7,332.7 1082.7,196 976.7,299.3 1010.4,273.3 926.6,336.2 977,276.6 1063.8,204.9 904.3,358.2 1063.2,219.7 949.9,283.2 1040.9,247.1 948,289.5 899.1,351.2 1003,252.6 943,346.1 1036.3,221.9 976,285.8 1015.1,261.9 1007.6,257.7 969.5,295 939.5,325.9 1009.3,270.3 1062.9,165.6 1042.7,218.5 942.3,325.6 1058.7,179.8 856.1,377.5 1126.3,153.3 1019.1,261.9 1067.7,197.4 991.2,249.7 1040.2,249.6 896.6,332.2 1046.7,238.2 1032.6,274.4 1003,272 1063.5,206.3 848.2,406 895.3,359.7 1025.7,272.6 832.3,402.7 907,332.2 1010,271 889,371.1 981.5,277.7 1028.3,183.1 1080.2,197.9 961.4,294.5 1059,209.8 1041.7,160 849.9,399.3 926.9,329 982.8,300 1109.9,174.2 973.7,303.9 1026.2,240.5 944.5,317.1 1085.8,190.3 1002.4,252.8 979.3,263.6 1072.6,208.6 969.6,282.9 962.4,321.5 994.8,299.6 897.4,344.4 1017.2,282.2 907.9,323.8 918.1,328.7 965.4,309.4 979.9,299.9 1098.1,184.1 965.4,285.9 963.3,275.6 1057.7,234.4 932.9,317.5 1072.4,195.7 1049.3,225.4 1101.4,121.5 1034.1,239.1 996.5,289.8 1051,201.3 1007.8,247.5 963,273.3 1169.6,126.3 886.9,349.6 935.5,325.9 987.8,279.2 907.4,346.5 1020.5,275.9 969.5,317.7 998.9,280.2 956,295.9 1115.3,174 1019.9,211.4 1079.1,195 910.2,347.9 1071.3,191.6 947.3,301.3 924.6,305.6 1086.8,185.1 1037.3,221 910,339.3 1134,136.3 887.5,371.6 1002.9,280.1 930,297.5 914.7,327.4 1064.2,233.7 889.7,358.6 1023.5,268.8 899.5,364.9 1035,240.6 1058.6,185.9 1080.2,173.5 1083.2,188 907,336.8 1041.9,273.1 919.6,334.8 866.1,384.1 1044.9,224.8 1070,204.5 909.3,351.6 992.3,285.5 866.5,381.4 941.1,328.4 1065.5,200.7 989.6,266.3 980.8,287.6 846.6,391.8 1122.5,139.2 910.3,349.4 1078.9,194.2 1038.2,279.6 893.2,356 1017.2,261.4 889.8,365.4 927.5,337.2 953.9,322.1 1135.2,103 1040.5,263.8 1124.1,152.7 892.9,330.1 977.6,247.1 916.3,335.4 975.1,274.4 863.7,391.3 1061.8,252.4 992.9,260.2 1101.4,188.9 938.6,339.6 1019.9,210.4 963.4,308.6 887,375.1 882.3,391 986.3,279.9 959.8,304.9 979.2,257.4 1117.1,108.4 913,354.8 1019.8,241.9 921.3,335.5 942.9,303.2 996.9,287.4 956.8,301.4 941.5,309.4 1009.9,260 899.5,347 899.5,314.4 927.5,340.6 1038.6,201.8 961.3,274.3 895.2,360.3 1018.8,251.6 996.3,281.4 1040.5,230.7 830.1,413.7 885.2,360.8 982.3,284.3 1006.7,239.7 1013.5,261.8 972.9,292.5 1071.8,189.9 971.4,292.8 954.9,292.2 1032.6,260.6 1020.5,231.2 1052,195.2 998.4,279.6 913.6,346.2 989.1,274.4 1060.7,156.6 1016.1,234.9 1074.8,197.5 1044.3,223.1 952.6,324.1 900.5,360 960.7,297.2 946.9,331.2 1060.5,161.7 968.1,281 1103.8,148 946.5,299.8 1056,231.2 832,409.5 910.7,350.4 1014.3,255.9 1007.3,257 1100.3,156.9 928,316.7 918.5,337.6 1019.4,205.1 927.3,315.4 993.5,279.6 888.6,370 1041.3,211.8 898.5,358.9 920.5,321.3 894.1,371.3 914.8,340.5 1043.1,229.4 975.7,282.6 938.6,340.5 1065,237.9 1052.1,231.9 888.3,361.9 931,320.5 955.6,300.9 1101.1,157.6 842.7,396.6 1063,151.3 904.8,353.2 1020.1,245.9 970.6,272.4 1085.1,126.8 840.6,391.4 979.4,267.6 935.4,321.9 933.3,336.7 820.3,425.6 852.9,381.7 993.7,274.3 1035.3,241.3 918.7,341.5 1066.2,216.5 1059.3,189.5 1060.5,186.5 1071,205 919.1,343.7 1009.1,236.3 1016.4,238.7 952,302.4 1028.7,232.1 1085.1,193.8 1073.7,213.1 1009.4,256.4 948.1,307.6 980.1,275.5 947.2,324.2 1002.9,268.9 1089.3,204.5 951.4,314.9 966.5,308.8 1156.7,144.3 903.3,298.9 886.9,369.4 1031.9,242.7 988.5,267.4 950.8,321.9 862.5,389.3 830.6,408.9 1041.9,274.7 1022.9,244.3 1036.8,240.6 901.3,355.1 986.7,254.8 1176.6,170.4 942.3,316.1 963.2,299.2 1010.4,254.9 975.1,286.6 1007.8,242.6 976.3,300.8 891.7,379.8 1014.1,255.2 977.2,268.2 886.4,373 891,365.1 1030.8,202.8 1029,259.8 1021.6,231.5 946.9,330.2 852.9,393.9 982.1,260.1 1013.1,242 963.4,277.8 1001.5,252.6 995.2,297.4 1093,209.7 1015.2,263.5 1025.4,250.8 1099.4,177.9 846.3,398.4 1091.6,183.7 1033.8,227.7 963.9,310.5 1000.8,283 971.3,299.9 1029.4,232 1080.2,169 1000.3,269.2 1060.1,205.5 950.9,313.1 1036.3,225 931.2,295.3 1011,266 893.6,370.8 936.6,330.2 862.6,393.1 948.8,311.8 940,327.5 1048.4,228 883,368.3 941.1,329.7 1013.6,245.7 951.7,299.9 1060.1,204.9 1034.6,214.4 1008.4,264.3 1018,275.5 944,312.3 927.1,323 873.7,375.4 1123.3,169.9 962.4,314.5 890.8,379.4 1047.5,227.4 886.9,371.5 1142.9,140.7 859,405.6 917.1,324.9 893.4,365.8 1035.4,206.7 894.5,363.1 1044.6,233.3 981,295.3 946.5,318.8 965,314.5 939.3,326.4 840.2,396.9 853.9,413.7 924.2,321.6 888.4,349.4 1069.8,176.3 1009.1,256.7 1017.9,239.5 865.6,384.4 1007.6,233.8 993.7,275.9 931.7,323.6 919.6,319.4 917.6,328.7 995.4,273.6 890,367.4 1071.1,177 873,374.3 892.6,369.5 900.4,357.5 1014.2,224.1 1066.4,193.1 995.1,268.3 1045,197.5 1098.4,172.9 970.7,322.5 908.8,352 902.9,342.3 889.2,354.5 968.9,297.5 1029.6,248.9 871.8,363.3 1015.8,236.2 1058.5,228.1 1062.5,202.3 1084.4,199.2 944.2,308.8 1006,292 1121.6,141.5 898.3,365.8 1035.7,208 909.7,352.3 1077.5,176.7 1085.5,190.1 825.6,419.9 912.8,349.3 817.1,409.3 950.9,315.7 1087.3,201.2 1088.8,186.2 903.1,355 865.3,380.6 952.8,275.7 923.3,346.4 977.6,271.3 998.8,280.2 1020.1,261.1 885.2,384.3 995.1,261 1081.7,189.7 888.5,333.3 988.9,270 972.5,272.5 1047.6,211.6 1032.1,204.2 828.4,397.5 903,325.3 830.4,412.8 1036.7,207.3 945.3,315 1026,233.7 1091.2,153.3 970.7,311.3 853.1,391.1 965.1,274.6 1014.5,260.7 871.3,373.6 990.2,268.9 947.5,354.3 985.4,229.7 961.5,304.1 964.8,315.8 949.5,289.7 946.9,327 1031.2,235.1 927.2,329.4 987.4,295.1 984.1,293.7 993,268.5 965,303.8 914,350.5 1058.7,207 880.6,376.8 930.3,308.4 951.3,313.2 880.5,377 1015.8,251.8 1075.1,192.2 901.4,360.2 1079.9,130.8 1034.3,237.1 904.5,338.7 909,327.8 1019,238.8 906,364.5 984.8,304.5 1043.1,251.2 1089.3,203 988.5,273.9 1021.9,249.7 942.8,326.2 869.7,369.4 1057.4,214.4 1041.5,221.4 991.7,274.9 1077.3,176.1 872,364.7 1034.4,176.9 1046.6,243.9 847.4,382.1 833.4,399.1 1014.1,270.1 862.4,380.4 986.4,260.6 963.3,277.4 952.9,307.3 966.5,280.6 1058.2,195.5 990.1,271.6 896.8,354 963.7,287.3 1125.3,167.4 1092.9,183.9 1142.9,109.9 1129.3,185.1 948.3,322 965.5,299 1045,231.5 861.4,404.1 1110.7,155.8 1073.2,197.4 946.2,290.7 974.2,309.2 992.9,282.9 971,298.1 1100.2,133.7 1053.7,259.4 886.4,363.8 897,351.9 962.6,283.4 965.6,273.8 1034,246.9 957.9,290.3 1071.5,280 1216.4,93.6 891.2,355 938.4,309 848.9,398 899.7,360.1 1060.6,295.3 995.9,286.5 1019.9,266.9 1046.3,192.4 982.8,279.4 1064.6,186.4 987.5,238.4 1022.7,237.2 987.2,287.2 1065.5,217.2 998.8,279.8 861,385.3 943.6,327 932.8,327.9 907.7,361.6 991,228.7 971.2,296.2 867.5,370.6 988.7,287.6 882.7,378.7 919.2,332.4 843.1,408.4 1000.4,231.3 1035.5,252.1 965.2,297.7 912,345.8 882.3,365.3 817.5,429 910,343.9 943.3,327.4 947.6,316.9 978.6,273.2 947.7,312.3 933.1,327.7 1022.3,257.7 883,364.2 821,420.2 1029.9,215.5 881.6,343.7 944.5,329.6 999.3,245.5 943,301.8 1055.9,157.3 1069.6,200.2 1053.9,201.6 984,258.9 945.9,328.3 1025.1,255.6 1055.3,235.2 954.5,327.8 912.9,352 1021.2,266.6 1105.8,152 1062.9,220.1 1114.3,173.2 810.9,404.7 1086.9,175.3 1013.8,239.6 1042.2,247.7 1087.6,178 936.8,325 918.3,355.8 1080,204.5 1144.2,172.7 835.4,401.9 1109.5,195.3 970.9,292.4 866.1,387 1023.5,234.5 906,366.3 899.5,363.1 920.5,326 1103.4,163.5 1005.6,243.4 1003.5,265.3 1090.7,180 964.4,286.4 952.1,319.7 875.6,376.1 1096.5,185.5 1041.9,213.3 1014.2,271.4 932.2,321.8 991.1,265.8 1111.8,155.9 872.7,360.3 1120.9,129.9 962.6,304.5 949.2,310.7 1040.9,236.5 1066.3,199.6 1148.1,109.1 1019,216.2 938.9,307.3 1017.7,229.4 831.8,410.9 1128.9,156.7 919,334.7 1016.1,256.3 1046.1,237.3 819.1,402.9 1058.5,213.5 869.3,404.1 979.2,287.3 883.9,375.5 924.5,353.8 1032.9,262.9 1049.2,249.5" fill="none" stroke="none" marker-start="url(#m)" marker-mid="url(#m)" marker-end="url(#m)"/>
<path d="M899.5,355.7 903.6,352.3 907.6,348.8 911.7,345.3 915.8,341.8 919.8,338.2 923.9,334.6 928,331 932,327.4 936.1,323.8 940.2,320.2 944.2,316.6 948.3,313 952.4,309.4 956.4,305.8 960.5,302.2" fill="none" stroke="#000" stroke-width="1.7"/>
<path d="M899.5,355.7 903.6,352.3 907.6,348.8 911.7,345.3 915.8,341.8 919.8,338.2 923.9,334.6 928,331 932,327.4 936.1,323.8 940.2,320.2 944.2,316.6 948.3,313 952.4,309.4 956.4,305.8 960.5,302.2" fill="none" stroke="#000" stroke-width="3" stroke-dasharray="3 4.9" transform="translate(-1,-1)"/>
<path d="M806.1,430.5 810,427.2 814,423.9 817.9,420.6 821.8,417.3 825.8,414 829.7,410.8 833.6,407.5 837.6,404.3 841.5,401.1 845.4,397.9 849.4,394.8 853.3,391.7 857.2,388.7 861.2,385.7 865.1,382.7 869,379.7 873,376.8 876.9,373.8 880.8,370.7 884.8,367.7 888.7,364.6 892.6,361.4 896.6,358.2 900.5,354.9" fill="none" stroke="#000" stroke-width="3"/>
<path d="M959.5,303.1 963.5,299.5 967.5,296 971.5,292.4 975.6,288.8 979.6,285.2 983.6,281.6 987.6,278 991.6,274.4 995.6,270.8 999.6,267.2 1003.7,263.6 1007.7,260 1011.7,256.3 1015.7,252.7 1019.7,249.1 1023.7,245.4 1027.8,241.8 1031.8,238.1 1035.8,234.5 1039.8,230.8 1043.8,227.2 1047.8,223.5 1051.8,219.8 1055.9,216.1 1059.9,212.4 1063.9,208.7 1067.9,204.9 1071.9,201.2 1075.9,197.4 1079.9,193.7 1084,190 1088,186.3 1092,182.6 1096,178.9 1100,175.3 1104,171.7 1108.1,168.2 1112.1,164.7 1116.1,161.3 1120.1,157.9 1124.1,154.5 1128.1,151.1 1132.1,147.7 1136.2,144.3 1140.2,140.9 1144.2,137.5 1148.2,134.1 1152.2,130.8 1156.2,127.4 1160.2,124 1164.3,120.7 1168.3,117.3 1172.3,113.9 1176.3,110.5 1180.3,107.2 1184.3,103.8 1188.4,100.4 1192.4,97 1196.4,93.7 1200.4,90.3 1204.4,86.9 1208.4,83.6 1212.4,80.2 1216.5,76.8 1220.5,73.4 1224.5,70.1 1228.5,66.7" fill="none" stroke="#000" stroke-width="3"/>
<rect x="793.5" y="29.2" width="435.9" height="436.2" fill="none" stroke="#000" stroke-width="2.7"/>
<path d="M793.5,465.4v7.5M793.5,29.2v-7.5M820.5,465.4v4.3M820.5,29.2v-4.3M847.5,465.4v7.5M847.5,29.2v-7.5M875.5,465.4v4.3M875.5,29.2v-4.3M902.5,465.4v7.5M902.5,29.2v-7.5M929.5,465.4v4.3M929.5,29.2v-4.3M956.5,465.4v7.5M956.5,29.2v-7.5M984.5,465.4v4.3M984.5,29.2v-4.3M1011.5,465.4v7.5M1011.5,29.2v-7.5M1038.5,465.4v4.3M1038.5,29.2v-4.3M1065.5,465.4v7.5M1065.5,29.2v-7.5M1093.5,465.4v4.3M1093.5,29.2v-4.3M1120.5,465.4v7.5M1120.5,29.2v-7.5M1147.5,465.4v4.3M1147.5,29.2v-4.3M1174.5,465.4v7.5M1174.5,29.2v-7.5M1202.5,465.4v4.3M1202.5,29.2v-4.3M1229.5,465.4v7.5M1229.5,29.2v-7.5M793.5,465.5h-7.5M1229.4,465.5h7.5M793.5,438.5h-4.3M1229.4,438.5h4.3M793.5,410.5h-7.5M1229.4,410.5h7.5M793.5,383.5h-4.3M1229.4,383.5h4.3M793.5,356.5h-7.5M1229.4,356.5h7.5M793.5,329.5h-4.3M1229.4,329.5h4.3M793.5,301.5h-7.5M1229.4,301.5h7.5M793.5,274.5h-4.3M1229.4,274.5h4.3M793.5,247.5h-7.5M1229.4,247.5h7.5M793.5,220.5h-4.3M1229.4,220.5h4.3M793.5,192.5h-7.5M1229.4,192.5h7.5M793.5,165.5h-4.3M1229.4,165.5h4.3M793.5,138.5h-7.5M1229.4,138.5h7.5M793.5,110.5h-4.3M1229.4,110.5h4.3M793.5,83.5h-7.5M1229.4,83.5h7.5M793.5,56.5h-4.3M1229.4,56.5h4.3M793.5,29.5h-7.5M1229.4,29.5h7.5" fill="none" stroke="#000" stroke-width="1"/>
<g class="tl">
<text transform="translate(793.6,496) scale(0.92,1)" text-anchor="middle">0</text>
<text transform="translate(847.4,496) scale(0.92,1)" text-anchor="middle">500</text>
<text transform="translate(901.6,496) scale(0.92,1)" text-anchor="middle">1000</text>
<text transform="translate(956.1,496) scale(0.92,1)" text-anchor="middle">1500</text>
<text transform="translate(1010.6,496) scale(0.92,1)" text-anchor="middle">2000</text>
<text transform="translate(1065,496) scale(0.92,1)" text-anchor="middle">2500</text>
<text transform="translate(1119.5,496) scale(0.92,1)" text-anchor="middle">3000</text>
<text transform="translate(1174,496) scale(0.92,1)" text-anchor="middle">3500</text>
<text transform="translate(1228.5,496) scale(0.92,1)" text-anchor="middle">4000</text>
<text transform="translate(776.6,472) scale(0.92,1)" text-anchor="end">0</text>
<text transform="translate(775.8,417.5) scale(0.92,1)" text-anchor="end">500</text>
<text transform="translate(775.3,362.9) scale(0.92,1)" text-anchor="end">1000</text>
<text transform="translate(775.3,308.4) scale(0.92,1)" text-anchor="end">1500</text>
<text transform="translate(775.3,253.9) scale(0.92,1)" text-anchor="end">2000</text>
<text transform="translate(775.3,199.4) scale(0.92,1)" text-anchor="end">2500</text>
<text transform="translate(775.3,144.8) scale(0.92,1)" text-anchor="end">3000</text>
<text transform="translate(775.3,90.3) scale(0.92,1)" text-anchor="end">3500</text>
<text transform="translate(775.3,35.8) scale(0.92,1)" text-anchor="end">4000</text>
</g>
<text class="at" x="1015.4" y="513.7" text-anchor="middle">Observation [J/m<tspan class="sup" dy="-6.8">2</tspan><tspan dy="6.8">]</tspan></text>
<text class="an" x="1036.2" y="69.5" text-anchor="middle">Uccle</text>
<text class="an sz" x="1033.8" y="96" text-anchor="middle">SZA<tspan class="sub" dy="5.3">N</tspan><tspan dy="-5.3">&lt;45</tspan><tspan class="deg" dy="-6.8">o</tspan></text>
<text class="cap" x="1009.1" y="565.5" text-anchor="middle">(<tspan class="b">e</tspan>)</text>
</g>
<g id="plot-f">
<line x1="1500.6" y1="463.4" x2="1937.5" y2="27.5" stroke="#808080" stroke-width="2.7" stroke-dasharray="4.4 3.5" stroke-dashoffset="-2"/>
<path d="M1654.4,314.1 1732,259 1669.4,297.5 1794.4,171.5 1614.5,356.2 1615.7,298.3 1823.4,160.1 1701.1,268.5 1751.9,211.6 1638.6,326.4 1564.5,403.1 1826,150 1754.6,238.3 1751.9,206.8 1566.9,381.3 1691.8,300.3 1790.1,175.7 1731.2,231.4 1719.5,281 1792.4,166 1629.1,332.3 1771.8,212.6 1810.4,178.1 1593.4,356.6 1771.2,189 1598.8,352.9 1631.7,330.9 1577.9,378.7 1634.1,342.5 1649.6,329.5 1668.4,283.3 1775,210.2 1737.7,241.9 1785,195.4 1559.5,368.4 1571.2,387.1 1700.1,267.1 1564.9,389.1 1767.8,204.4 1602.2,334 1610.7,338 1690,284.8 1637.3,304.5 1664.4,317.9 1654.5,311.3 1673.8,300 1797.3,166 1681.7,293.9 1743.6,225.7 1674.4,304.2 1718.9,253.5 1656.3,324.2 1724.3,237.2 1688,274.8 1687.7,303.8 1637.4,319.7 1686.9,253.1 1612,354.2 1797.1,158.9 1669.1,311.2 1619.3,326.7 1675.5,278.1 1630,329.4 1702.4,296.4 1624.7,336.8 1629.3,319.2 1631.8,329 1709.1,249.1 1688.1,277 1723.7,257 1748.1,211.1 1736.9,240.7 1646.3,315.1 1675.7,296.5 1714.7,258.9 1686.6,289.9 1569.3,392.1 1605.3,365.2 1768,193.9 1678.6,273.9 1779.8,191.3 1527.2,409.9 1739.2,246.9 1646.2,294.9 1628.7,339.6 1728.8,224.5 1616.7,340.4 1793.7,195.7 1547.1,407 1687.3,292.9 1730.2,252.7 1697.4,285.3 1786.6,203.2 1720.4,251.5 1751.3,216.2 1666.1,305.5 1635.1,340.5 1667.3,276.2 1792.5,177.7 1662.9,299.5 1614.7,328.6 1680.8,267.3 1820.1,143.5 1662.9,307.8 1779.7,218.3 1727.3,237.1 1751.2,234.8 1754.2,206.7 1713.6,234.4 1706.8,283.8 1752,216.5 1784.5,176.5 1723.9,233.5 1784.7,164.1 1639.5,311 1721.1,245.4 1745.8,227.6 1743.4,254.7 1739.8,232.1 1636.9,333.7 1673.3,298.6 1581.1,374.1 1754.5,225.1 1690.6,266.5 1645.5,323.4 1602.8,357.2 1743.5,234.3 1585.3,369.2 1785.1,199.3 1766.9,179 1603.5,344 1572.3,347.6 1759.5,214.2 1799.6,171.8 1799.7,169.7 1624.4,341.9 1741.1,254.7 1723.1,255.3 1770.4,195.2 1588.5,358.3 1709.2,248.8 1601.6,330 1744.5,232.8 1761.4,215.5 1657.1,300.9 1757.8,233.6 1649.9,303.6 1656.7,326.6 1753,228.2 1795.3,185.4 1752.7,217.3 1736.4,250.8 1530.2,415.1 1700.1,275.9 1796,173.8 1803.6,166.7 1624.6,329.7 1638.3,329.8 1760.9,233 1619.3,344.4 1767.2,201 1720.4,256.8 1723.7,238.3 1803.4,164.3 1798.9,195.9 1774.4,209.9 1580.5,367.2 1698.6,261.2 1706.7,251.9 1679.6,283.3 1562.9,388.5 1700.5,265.2 1706.1,262.8 1770.2,200.8 1554.9,399.6 1596.2,357.6 1592.6,375.1 1753.4,209.2 1574.5,385.4 1775.7,196.6 1727.6,248.3 1639.8,328.4 1641.3,316.1 1619.1,324.1 1526.1,417.7 1726.4,246.8 1728.7,253.5 1652.7,317 1696.8,252.4 1646.4,275.4 1649.1,335 1605.1,330.8 1538.2,392.3 1646.8,326.1 1787.5,184.3 1582.1,361.7 1567.9,390.7 1590.4,347.1 1614,340.2 1667,299.9 1735.4,244 1611.6,341.9 1693.4,247.6 1785.5,194.6 1790.4,166.6 1599,356 1727.7,225.5 1676.8,304.8 1720.2,244.5 1654.5,347.8 1693.9,285.5 1529.4,413.8 1690.7,264.4 1600.1,364.8 1709,241.7 1663.5,331.5 1601.4,332.9 1657.1,331.5 1767.5,164.5 1563.2,384.4 1600.2,367.6 1813.5,159.2 1701.4,274.8 1569,384.9 1729.9,243.6 1591.5,357.6 1645.9,315.8 1635.4,312.4 1635.5,317.8 1710,253.4 1630.4,336.2 1770.9,199.6 1684.6,275.3 1557.9,363 1670.8,304.9 1606,337 1761.3,192.4 1723.1,226.1 1645.6,296.2 1665.9,274.6 1820.4,147.9 1608.9,321.6 1746.7,236.2 1672.7,295.1 1642.2,281.3 1780.6,219.6 1675.8,261.8 1631.8,331.5 1775.6,183 1787.8,184.7 1745.9,216.4 1670.8,320.9 1656.1,301.3 1761.4,207.9 1793.4,162.9 1629.3,321.8 1777.7,198.2 1651.2,304.2 1688,267.9 1669.4,247.6 1760.7,219.9 1738.1,253 1675.5,294.8 1662.7,289.9 1573.2,359.3 1789,173.4 1654.4,319.1 1634,334.8 1564.9,401.4 1600.1,347.2 1757.2,207.3 1595.7,362.6 1677.7,302.4 1656.6,333.2 1766.4,211.8 1658.6,313 1625.5,325.6 1591.8,362.9 1614.2,310.7 1613.5,337 1633.2,328.1 1630.8,317.9 1539.3,406.8 1757.8,210.3 1765.2,200.7 1727.2,227.1 1742,241.6 1833.6,143.7 1631,325.6 1757.6,223.1 1584.6,385.1 1630.9,319 1636.2,316.8 1612.4,359.5 1636,331.3 1796.9,181.6 1766.6,208.2 1619.5,330.2 1581.7,365.7 1673.6,275.3 1716.6,252 1687.6,263.1 1786.3,206 1713.5,280.8 1776.5,186.4 1663.1,295.1 1727.9,239.8 1623.4,334.3 1700.9,257 1665.1,273.8 1637.7,330.5 1601.2,351.1 1731,238.4 1679.5,240.5 1706,254.8 1661.6,313.5 1691.3,268.6 1593.2,352.7 1799.4,152.5 1652,300.7 1575,393.5 1698,266.6 1727.4,261.8 1791,172.5 1748.3,222.1 1771.4,219.6 1675.9,286.4 1742.4,237.4 1673,297.7 1737.4,224.5 1684.7,290 1737.8,224.6 1571.9,387.6 1751.6,213.4 1631.9,332.6 1698,312.9 1797.2,194.2 1742.2,233.7 1689.9,266.8 1756,195.6 1625.7,349.2 1645.2,288 1777.4,196.9 1627.3,321.1 1650.8,310.6 1857,141.4 1770.8,173 1759.5,202.2 1781.8,158.4 1696.2,246.4 1585.4,369 1640.2,330 1689.7,271.7 1664.8,282.5 1735.6,255.3 1697.4,265.3 1621.6,347.7 1801,186.2 1591.6,335.3 1630,332.5 1669.6,300.6 1613.9,347.5 1766.7,178.6 1760.6,224.2 1712.4,239.6 1606.9,349.2 1656.7,304.1 1584.4,357.8 1699.7,270.4 1719.3,275 1680,297.4 1654.4,324.3 1726.9,248 1768.4,211.6 1706.7,255.4 1672.8,258.1 1651.7,287.6 1590.6,333 1682.6,286.5 1821.2,151.3 1729.8,244.3 1676.6,277.3 1574,364.7 1722.8,237.1 1672.3,335.7 1702.6,289.1 1683.1,291.1 1702.1,256.1 1753.1,210.7 1617.6,340.9 1772.6,218 1697.8,262.7 1553,384.8 1652.5,298.3 1612.8,340.7 1626.4,336 1651.8,320 1680.8,274.1 1733.8,249.3 1613.6,337.6 1716.6,261.9 1824.7,153.2 1630.1,343 1575.9,366.3 1768.6,232.3 1564.7,383.9 1749,248.8 1603.2,352.6 1579.1,377.2 1805.9,183.4 1628.7,333.5 1704.9,272.6 1739.5,234.8 1756.3,183.6 1697.9,301.7 1577,373.2 1556.4,383.8 1788.9,197.2 1680.6,264.4 1591.3,363.8 1606.9,335.9 1682.2,282.9 1793.5,176.3 1770.8,186.1 1785.4,186.4 1738.5,213.8 1729.7,235.3 1794.6,185.7 1551,390.3 1779.5,208.8 1595.5,357.8 1632.4,331.5 1683.1,288.3 1633,318.7 1586,376.3 1623.6,316.2 1638,324.3 1759.4,232.5 1620.4,338.8 1698.3,261.5 1615,343.2 1542.8,404.6 1663.1,287.8 1591.1,357.9 1579.3,379.5 1717.5,247.1 1701.8,251.5 1609.8,329.7 1618.9,349.2 1716.7,289.4 1549.3,394.8 1780,195.7 1633,351.7 1706.1,270.4 1681,284.1 1635.5,327.2 1781.8,192.4 1779.5,223.8 1568.1,393.5 1648,334.6 1619.2,353.9 1777,183 1724.6,250.4 1812.9,191.4 1739.3,218.5 1763.6,205.7 1694,288.1 1777,228.5 1756,218.6 1697.9,274.8 1670.6,318.1 1792.3,171 1772.6,201.8 1737.6,245.8 1648.1,318.6 1623.7,327.3 1655.8,316.3 1616.4,351.8 1691.4,301 1736.6,252.8 1757.1,246.8 1569.5,387 1789.4,177.9 1678.1,319 1730.9,233.1 1722.1,240 1689.3,291.4 1657.2,308.3 1705.4,244.2 1743.8,245.7 1821.9,142 1557.9,399.4 1626.8,344 1686.5,262.1 1719.2,267.7 1740.1,242.3 1755.2,216.8 1736.7,269 1739.8,245.2 1636.5,327.3 1753.2,185.2 1608,361.2 1703.1,273.1 1802.5,181.4 1697.1,264.9 1613.2,362.2 1714.1,259.1 1740.1,229.7 1635.5,335.7 1746.5,243.6 1610.4,346.5 1795.5,185.8 1794,179.9 1735.9,265.5 1694.3,282.6 1716.7,275.7 1695.6,289.4 1818.1,151.3 1792.5,192.5 1658,326.1 1659.5,294.3 1600.1,350.7 1719.8,271.7 1592,363.5 1718.2,251.3 1845.1,145.1 1774,210.7 1643.9,320.1 1549.1,399.9 1650.4,322.3 1697,276.5 1551.7,403.3 1818.9,150.1 1700.5,253.3 1615.5,346.3 1720.9,258.1 1812.5,154.5 1657.7,308.7 1744.4,242.4 1662.6,312.3 1836.4,138.8 1609.1,365.9 1720.2,263.9 1751.5,222.4 1603.3,366.6 1749.8,222.5 1572.3,398.2 1692.2,292 1765.7,237.2 1642.3,331.5 1762.5,200 1719.2,261.2 1593.2,356.6 1718.4,251.9 1682.4,256.5 1683.2,277.3 1807.6,162.6 1687.9,257.3 1753,225.3 1674.1,287.7 1703.3,267.9 1702.3,262.1 1760.4,188.7 1625.2,341.8 1669.2,283.3 1728,250.8 1759.5,213.2 1607.5,320.3 1673.9,310.1 1742.3,210.8 1802.7,179.3 1719.6,216.1 1562.4,364.3 1625.7,334.5 1631.4,330.7 1730.9,261.3 1617.5,343.4 1693.4,281 1665,286.2 1600.3,354 1690.3,288.1 1667.1,279.9 1650.7,315.5 1698.6,229.5 1603.4,365.6 1780.7,196.1 1570.6,379.6 1811.1,175 1765.7,192.7 1648.1,333.5 1674.2,290.1 1566.4,393.3 1641.2,340 1619.2,312.5 1777.3,189.6 1591.5,365.5 1814.2,168.1 1581.7,359.8 1630.6,337.7 1747.7,201.2 1736.5,245.1 1599.3,375.5 1607.4,369.6 1677.1,295.5 1724.7,240.3 1645.2,326.6 1637.8,312.2 1767.7,204 1622.5,329.2 1655.5,332.6 1761.9,218.4 1677.6,279.9 1619.7,344.1 1628.1,325.5 1617.9,355.5 1824.5,158.1 1587.5,354 1529.9,416 1630.6,343.7 1690.3,267.5 1643.7,336.4 1593.5,365 1708.3,266.9 1735.7,261.8 1585.2,360.6 1695.5,286.1 1622.8,348.1 1696.1,249.5 1603.5,343.6 1636.2,290 1550,394.3 1643.8,324.6 1613.9,330.6 1652.9,311.8 1745.8,250.3 1734.9,248.5 1722.6,259.3 1715.5,254.9 1680.3,297 1777.7,203.6 1598.1,365.5 1742.7,225 1584.6,361.8 1772.9,236.2 1789.9,168.7 1662.5,295.3 1839.5,148.4 1659.3,304.2 1689.4,271 1659.8,278.5 1537.1,410.2 1695.3,271.6 1726.2,232.2 1713.8,248.5 1684.9,292.6 1703.2,270.9 1745.8,222.1 1644.2,328.4 1749,215 1765.5,225.9 1596,353.9 1708.5,236.1 1736.8,229.5 1670.8,285.7 1750.9,178.8 1681.6,294.6 1594.6,363.2 1711.3,257.7 1634.1,308.4 1592.5,377.4 1689,293.4 1702.9,272.7 1673.2,310.5 1794,203.1 1592.4,369.1 1569,366.3 1692,281 1669.4,292.2 1640.7,317.4 1776.1,194.6 1728.3,235.3 1653.3,326.7 1707.7,262.3 1779,203.5 1641.4,337.8 1669.6,264.1 1610.3,353.6 1601,366.9 1553.2,405.2 1672.7,284.2 1843.1,147.5 1715.8,296.4 1628.6,316.7 1755.2,235.9 1750.6,197.7 1754,222.4 1715.2,262.1 1769.6,194.8 1586.4,367 1775.3,222.3 1602.6,358.4 1749.6,220.1 1676.3,254 1647.2,306.1 1800.6,167.7 1713,268.3 1626.8,338.1 1570.2,365.2 1677.1,319.1 1739.9,203.8 1811.4,177.2 1671.5,307.5 1741.7,234 1581.7,366.4 1707.5,262.8 1635.7,335.1 1657.4,301.8 1729,216.2 1619.3,333.7 1633.5,334.4 1798.8,177.4 1818.3,167.2 1685.4,277.8 1687,284.3 1681.6,299.7 1711.3,251.3 1790.6,169.8 1591.1,360.7 1737.5,264.4 1774.9,187 1707.1,255 1629.4,335 1591.9,353.7 1666.7,297.5 1733.9,217.2 1596.8,362.3 1649.4,305.4 1728.6,226.2 1748.3,201.9 1598.6,343.2 1771.7,187.4 1600.3,358 1697,255.5 1655.4,311.6 1783.8,169.4 1702.4,252.3 1777.1,211.2 1710.9,263.2 1686.8,288.7 1623.3,345.2 1618.8,355.2 1640,322.3 1542.9,408.5 1655.2,292.7 1681.7,271 1678.8,309.3 1602.2,379 1741.6,264.7 1725.6,237.5 1753.2,226.1 1651.8,324.6 1626.6,327.1 1555.3,391.2 1686.8,286.4 1561.8,378.3 1702.6,222.4 1570.4,385.2 1768.5,206.1 1548.7,403.2 1650.5,328.5 1653.5,315.9 1731.1,245.7 1769.2,182.9 1728,249.1 1811.1,160 1611.2,349.3 1654.6,290.9 1759.2,182.7 1773,171 1652.2,309.2 1582.5,361.8 1772.5,174.8 1692.2,274.8 1638.3,325.6 1786.8,213.1 1767.5,216.8 1626.5,338.8 1656,283.6 1632.3,303.8 1590.6,366 1709.3,250 1604.4,361.1 1752,229 1817.1,154.3 1785.3,174.6 1716,259.4 1598.7,358.2 1693.3,271.4 1780.8,218.7 1590.7,368.8 1667.8,303.9 1762.7,199.9 1706.2,251.5 1709.2,239.4 1608.8,371.1 1773.8,180.5 1575.7,382.3 1711.1,237.2 1751.1,237.8 1638.8,316.3 1772.1,202.3 1657.5,280.3 1584,368.3 1735,245 1555,395.6 1643.2,310.2 1698,300.3 1671,296.4 1715.5,239 1708.8,238.8 1559.8,383.4 1628.8,313 1618.4,344.5 1737.5,226.7 1741.7,259.6 1704.4,268.9 1648.6,324.9 1601.4,350.2 1660.9,316.3 1691.4,291.7 1735.7,237.7 1789.5,168.8 1810.8,167.1 1552.5,390.6 1785.1,185.5 1615.8,356.1 1546.5,391.5 1622.2,328.8 1580,368.6 1695.2,267.7 1719.2,240 1652.1,278.7 1755,213.9 1649.1,285.2 1791.4,216.9 1670,298.3 1739.3,235.9 1670.4,299.1 1582.6,379.9 1728.3,247.4 1739.3,200 1588.5,354.3 1638.8,326.7 1794.8,171.2 1656.5,321 1650.9,310.3 1615,353 1568.3,392.2 1838.8,142.1 1629.9,342.3 1680.3,280.5 1761.5,227.3 1765.4,187.8 1760.4,220.6 1682.6,302.9 1680.6,284.2 1661.1,298.8 1696.4,265.8 1669.4,284.5 1614,320.9 1720.6,238.5 1751.6,204.9 1749.8,254.1 1661.5,282.1 1612.4,352.6 1754.4,217.3 1727.5,259.8 1733.3,236.1 1695.4,288.1 1783.6,174.4 1668.6,304.2 1744.3,207.1 1686.2,306.8 1694.7,257.6 1672.9,291.3 1591.2,374.5 1774.8,186.6 1767.1,179.1 1669.6,299.5 1594.3,360.2 1766.4,223.3 1784.4,209.6 1655.9,294.5 1650.3,311.8 1675,297 1662.9,324.6 1601.1,356.7 1618.3,355.2 1613.4,340.6 1593.1,362.7 1621.1,329.4 1719.5,290.1 1659.2,319.4 1757.2,245.6 1595.6,355.2 1699.8,260.7 1698.9,259.6 1603.9,343.7 1691.8,280.2 1640.4,297.5 1634.6,329.3 1668.5,322.3 1687.3,277.6 1771,205.3 1739.2,222.8 1669.2,294.1 1682.2,284 1631,337.9 1790.4,174 1590.9,348 1707.2,253.7 1661.3,281.2 1668.3,316.6 1767,234.1 1594.6,338.8 1722.8,236.5 1654.5,304.6 1775,198.1 1611.5,315.1 1675.6,310.2 1722.6,239.2 1739.7,241.5 1702.5,275.7 1639.4,313.6 1664.4,308.5 1719.9,267.2 1782.2,174.5 1705,246.5 1577.5,380.9 1576.4,390.8 1719.4,238.9 1612.3,340.8 1702.9,276.5 1823.7,176.8 1779.2,219.6 1581.2,376.8 1757.8,193.5 1646.8,310.6 1560.2,378.1 1697.9,257.7 1665.3,287.5 1638,333.8 1719.1,227.4 1678.4,296.5 1615.2,361.5 1629.8,322.8 1579.9,369.8 1593.7,359.9 1641.2,319.4 1737.4,246.6 1734.4,231.1 1794.5,170.3 1654.6,325.6 1636.6,313.3 1722.3,254.3 1737.3,211 1717.7,262.3 1742.6,234.3 1722.4,272.5 1683.4,288.4 1748.8,198.6 1716.6,276.6 1604.3,354.6 1798.9,170.9 1658.9,289.5 1686.1,294.6 1645.4,318.9 1615.8,356.8 1727.7,235.2 1751.8,212.2 1656,302.3 1622.2,359.9 1667.8,288.4 1728,265.1 1560.4,382.9 1618,351.1 1607.8,375.2 1652.4,311.8 1708,219.7 1713.5,263.8 1776.9,154.9 1794.4,174.9 1782.9,199.7 1723.9,262.8 1574.8,382.3 1633.1,336.3 1617.4,325.2 1547,397.8 1642.5,326.5 1766.6,214 1726.5,244 1676.6,278.9 1642.9,325.7 1741.7,224.2 1770.3,207.9 1600.5,356.7 1802.2,172.5 1843.3,163.9 1661.8,317.2 1681.6,263.5 1723.4,250.4 1738,250.6 1749,229.2 1767.3,151.8 1673.2,298.4 1593.2,355.9 1695.7,277.7 1724.2,249.2 1585.8,364.7 1767.7,220.3 1620.2,349.3 1607.3,346.4 1647.8,318.8 1754.2,229.3 1671.7,267.7 1741.6,235.8 1731.5,243.3 1748.5,210.6 1570.4,387.5 1709.7,255.4 1719.9,278.8 1688.7,261.6 1674.9,293.2 1785.6,173.2 1669.2,300.4 1545.5,406.9 1806.5,162.7 1710.7,271.4 1783.3,219.6 1689.4,253.9 1599.6,355.8 1556.8,394.8 1689.8,320.7 1644.8,289.9 1635.5,328.2 1694,273.8 1541.3,409.2 1817.8,155.2 1765.1,220.4 1752.3,204.1 1703.7,256.5 1523.7,421.7 1666.2,307 1785.6,206.8 1774.2,226.7 1570.4,361.7 1595.5,349.1 1723,241.6 1699,289.5 1759,222.9 1579.4,366.6 1711.4,258.1 1826.4,152.7 1755.8,238.9 1632.5,331.4 1810.9,269.4 1577.8,379.5 1699.9,275.2 1781.1,186.8 1666.5,303.4 1820.8,151.8 1702.2,279.1 1705.6,257.7 1776,222.4 1667.6,299 1575.9,381.6 1739,236.8 1591.6,360.1 1610.4,362.1 1606.9,354.3 1739.6,243.6 1757.6,215.2 1721.6,225.1 1612.8,326.6 1659.3,299.6 1741.4,213.9 1705.5,269.8 1634.1,327.8 1657.9,257.7 1658.7,317.2 1651.8,324.7 1648.3,311.4 1629.3,324.8 1557.9,408.5 1685.7,292 1639.7,316.4 1565.9,386 1713.8,258 1660.6,321.2 1658.3,287 1662.3,303.1 1654.5,332.8 1688.8,276.6 1707.6,247.6 1584.7,367.3 1786,194.3 1680.1,267.6 1805.3,156.8 1665.7,317.4 1708.2,251.8 1629.3,328.2 1843.9,148.4 1706.1,272 1688.9,257.3 1710.5,261.1 1615.4,349.7 1618.2,348.6 1795.2,163.3 1628.6,334.2 1813.2,148.8 1786.7,192.7 1762.9,195.9 1641.5,317.3 1835.6,155.8 1782.2,197.2 1668.7,289.3 1747.9,221.2 1703.1,287.7 1726.8,239.9 1637.7,315.7 1605.2,355.1 1710.4,259.8 1615.8,356.4 1591.6,381.3 1735.5,226.2 1706.1,262.9 1739.2,232.9 1687.3,266.5 1703.5,285.7 1783.9,196.8 1544,399.7 1523.8,420.6 1722.3,252.8 1666.5,296.8 1568.9,387.8 1648.2,321.7 1636,327.7 1623.1,335.6 1733,274.9 1772.4,193.1 1778.6,183.2 1553.1,398.7 1623.1,335.9 1715,267.5 1621.7,331.4 1779,219.6 1609.5,351.7 1630.2,322.3 1710.6,252.8 1581.3,360.5 1603.6,359.8 1778.9,219.9 1766.1,182.9 1594.9,362.2 1765.9,210.6 1769.8,192.9 1641.2,340.6 1809.2,181.4 1782.3,187.1 1764.4,213.1 1673.2,255.2 1575.6,360.7 1661.9,308.8 1653.3,321.4 1619.6,324.1 1692.9,294.8 1588.2,354.6 1607.2,356.6 1740.3,219.6 1623.6,328.2 1642.1,313.5 1756,246 1826.4,138.6 1622.4,333.4 1700.2,300.7 1607.4,353 1672.4,264.6 1710.9,257.5 1674.6,260.2 1623.4,332 1752.1,198.6 1648.5,320.9 1641.4,322 1619.2,337.7 1705.3,285.7 1735.8,223 1737.8,237.8 1763.8,216.6 1733.3,227.1 1611.1,332.4 1589.4,358.6 1729.1,231.8 1606.9,345.8 1608.5,347.5 1567,378.4 1735.6,235.7 1742.6,256.7 1723.4,238.6 1725.7,244.1 1799,180.1 1715,256.8 1687.9,274.1 1649.8,332 1755.7,193.5 1772.2,207.5 1646.2,310.1 1541.2,398.9 1791.5,158.2 1653.4,318.8 1741,245.7 1584.9,369.1 1765.6,203 1606.3,354.7 1605.5,351.9 1781.6,157.8 1692.3,279.4 1583,358.3 1653.9,318 1646.9,307.2 1770.9,221.1 1651.7,320.6 1638.7,308 1657.8,300.5 1574.9,380.9 1769.6,205.4 1758.8,194.6 1664.1,301.6 1562.6,380.8 1689,255 1681.8,276.8 1581.6,375.3 1621,357.6 1702.8,256.5 1576.7,377.8 1764.7,225.2 1567.3,379.6 1588.4,376.6 1793.8,161.7 1590.2,359.1 1739.5,247.5 1645.5,317.3 1602,369.2 1698.9,269.2 1667.2,299.7 1687.1,273 1532.6,411.4 1780.1,200.7 1771.3,219.6 1750.7,189.3 1816.5,157.5 1761.3,206.3 1681.4,311.8 1805.5,153.1 1565.9,387.7 1787.9,182.8 1830.9,150.2 1759,185.8 1662.5,290.6 1568.3,388.7 1707,259.4 1715.7,254.1 1683.5,292.5 1715.8,234.2 1644.9,309.4 1804.3,156.9 1718.5,258.7 1808.5,162.8 1777.4,157.2 1652.9,287.9 1519.6,425.2 1737.6,197.9 1548.4,385.4 1632.8,317.3 1769.9,200 1792.9,165.9 1704.8,264.2 1788.6,170.4 1764.5,200.2 1634.3,335.9 1634.7,334.3 1714.5,266.5 1669.1,278.6 1692,271.9 1719.7,264.5 1625.7,320.5 1801.2,196.2 1627.3,343.7 1739.6,273.6 1561.8,388.5 1594.8,368.6 1553.9,396.4 1773.3,241.2 1833.6,145.5 1776.4,207.7 1642.7,315.5 1762.3,233 1672.4,283.8 1648.1,314 1753.4,224.2 1794,177 1758.6,224.6 1719.7,261.2 1649.3,305.3 1634,337.6 1694.8,270.7 1711.5,266 1752.7,243.9 1659.8,316.4 1744,224.7 1760.4,208.9 1600.8,352.3 1619.1,325.8 1823.6,158.2 1669.2,271 1697.3,272.1 1675.9,281.1 1655,305.5 1718,245.1 1619.8,340.4 1595.1,353.3 1772.6,239.4 1749.5,216.5 1760.3,234.7 1727.6,239.4 1649.3,310.5 1760.7,215.5 1618.2,328.8 1719.3,275.6 1697.7,286.4 1694.5,245.9 1684.7,277.1 1614.4,335.9 1779.6,162 1618.3,347.3 1625.4,336.5 1769.5,214.8 1800.3,175.9 1763.4,224 1717.2,237.9 1786.6,191.9 1763.6,216.6 1767.2,174 1608,356.5 1638.1,332.7 1703.6,246.3 1658.7,297.4 1610.9,359.3 1752.7,205.3 1653.5,315.2 1651.6,310 1778.7,185.2 1831.2,180.7 1653.5,292.8 1648.6,354.5 1546.7,396.8 1652.1,297.1 1643.3,304.8 1665.3,280.1 1628.1,347.7 1586,362.6 1721.3,235.2 1750.1,178.8 1727.6,266.9 1737.1,242.1 1735.7,232.7 1612.1,355.1 1604.4,356.8 1652.2,293.7 1632.6,339.2 1627.1,337.1 1757.7,207.5 1711.6,277.7 1665.9,298.3 1669.2,279.1 1704.4,255.4 1715,249.3 1588.7,365.5 1738,248.9 1692.1,284.5 1828.3,148 1817.8,147.8 1729,246.5 1774.8,197.1 1737,242.7 1672.5,278.4 1629.2,335.7 1630.4,344.7 1781.8,206 1738,223.9 1794.7,176.5 1746.7,231.3 1799.5,181.4 1709,275.5 1713.9,255.8 1734.2,230.6 1797.3,192.4 1618.7,351.2 1681.5,269.2 1654.5,298.1 1603,351.5 1761.5,237.7 1801,181.4 1677.2,286.2 1767.8,216 1654.2,318.2 1626.8,342.9 1735.8,267.2 1765.6,192.2 1519,426.5 1572.9,384.6 1589.8,366.4 1778.1,198.4 1793.2,178 1562.8,398.5 1708.3,267.4 1734.3,226.7 1631.5,332 1685.1,277.4 1845.7,143.4 1600.6,364.6 1715.9,230.7 1752.7,216.2 1616.3,334.1 1691.6,274.1 1690.7,289.7 1603.6,341.1 1546.5,382.7 1636.3,328.4 1600.9,363.6 1624.5,346.7 1765.2,202.7 1724,228.7 1753.4,198.3 1567.2,385 1607.2,359.9 1589,374.5 1713.6,252.7 1648.2,355 1765.6,216.5 1771,167.3 1649.1,319.6 1741.4,245.3 1716.3,234.2 1726.2,211.5 1781.1,192 1638.7,312.9 1716.3,224.6 1622.9,329.2 1726.8,245.7 1765.6,202.6 1732.3,235.7 1804,169.3 1739,223.2 1704.7,255.1 1550.8,386.1 1663.8,312.6 1649.4,308.4 1664.7,273.8 1668.2,297.4 1718.5,260.1 1738,215.6 1628,345.8 1740.7,240.7 1574.5,378 1617.8,330.5 1747,207.9 1650.1,326.5 1830,163.9 1692.4,273.2 1784.1,192.8 1584,381.9 1810,179.5 1612.1,335.3 1645.5,328.7 1650,311.4 1712.5,249.6 1696.1,246.4 1786.4,179.9 1739.1,248.8 1632.5,319 1691.5,282.1 1707.8,256.7 1643.1,315.5 1808,174.1 1779.8,174.6 1664.4,278.9 1670,293.1 1792.7,203.6 1722.1,244.2 1785.2,171.1 1725,224.8 1717.8,239.7 1750.1,219.8 1642.3,284.5 1668.6,288.8 1644.6,321.5 1587.9,377.9 1596.4,350.4 1706.6,274.8 1652.1,280.2 1647.4,328.2 1747.3,222 1641,352.5 1763.7,228 1760,225.5 1780.8,206.1 1668.7,263.2 1788.2,177.6 1650.4,321.8 1710.7,293.9 1752.8,195.8 1723.7,238.9 1812.5,171.2 1630.9,323.9 1777.1,160.5 1618.9,342 1761.7,214.9 1719.6,247.6 1683.7,292.4 1601.3,358.1 1635.5,358.6 1730.5,236.3 1654.1,311 1777.2,200.6 1726.5,224.4 1715.7,263.9 1764,189.2 1674.5,264.6 1645.5,325.3 1662.9,296.4 1813.3,162.6 1749.3,201.9 1786.2,178.7 1608.7,360.5 1667.4,296.7 1603.2,335.5 1637.9,338.3 1803.1,165.4 1626.8,338 1668.6,297.9 1803,181.1 1726.8,216.4 1614.7,328.6 1767.9,215.3 1752.7,210.2 1612.4,356 1754.6,247.6 1671.9,288.7 1609,340.3 1753.4,247.7 1767.9,206.2 1790.7,172.2 1686,296.4 1746.9,217.7 1720.6,227.7 1691.1,286.5 1635.3,313.4 1691.5,306.5 1738.5,224.1 1633.6,349.5 1569.8,388.9 1670.6,276.7 1681.7,284.5 1779.5,213.6 1826.5,160.4 1769.7,179 1615.5,337 1722,239.4 1774.1,178.2 1591,350.4 1814.1,160 1572.4,388.6 1619.3,337.5 1785,174.4 1631.6,343.7 1617.3,326.1 1602.1,356.6 1656.8,300.6 1653.5,305.4 1624.5,332.6 1637.3,325 1570.3,386.2 1707.8,274.4 1742.4,244.1 1533,413.1 1648.3,318.8 1651,303.5 1570.4,381.9 1550.5,407.4 1696.4,271.2 1794.6,170.9 1703,266.7 1617.5,331.8 1657.9,290.5 1607.1,360.6 1563.8,394.5 1716.2,259.1 1730.1,213.5 1796.8,172.2 1669.5,299.3 1711.3,254.2 1630.8,328.6 1708.7,259.1 1615.4,352 1649.3,323.3 1706.3,262.5 1586.6,379.6 1594.9,362.6 1740.2,235.4 1644,326.5 1723.1,232.6 1645.5,330.5 1579.2,365.3 1803.3,190.8 1744.8,237.7 1676.3,280.3 1583.1,354.2 1602.4,345.4 1758.5,214.6 1564.7,388.3 1564.2,393.4 1763.7,184.5 1665.5,307.2 1698.2,238.2 1682.5,293.8 1700.3,215.5 1635.9,311 1697.1,268.7 1676.8,275.8 1755,213.7 1599.7,350 1588.3,380.5 1769.8,200.4 1767.5,187.5 1677,305.6 1645.8,341.6 1646.4,287.4 1833,151.4 1618.5,356.2 1615,316 1759.1,206.2 1624.9,305.8 1749.8,245.6 1712.6,223.2 1596.1,357.6 1739.7,228.4 1833.1,143.1 1763.6,224.7 1741.1,236.8 1649.3,314.1 1652.1,311.8 1701.2,312.2 1752.2,249.6 1596.6,365.1 1572.6,362.7 1573.6,382.6 1582.5,380.5 1638.1,345.7 1664.2,310.7 1720.1,274 1714,233.6 1801.6,179.7 1800.8,164.3 1644.4,324.5 1714.6,250.3 1552.7,372.2 1609.6,347.2 1615.8,317.1 1690.9,279.9 1574,386.7 1590.1,358 1624.5,340.3 1753.9,212.6 1766.9,209 1653.7,320.9 1669,284.6 1781.8,185.3 1744.9,213.1 1823.7,164.4 1683.5,279.1 1663.7,327.8 1801.4,169.3 1685.4,259.7 1595,363.4 1700.3,274.3 1576.7,383.4 1682.5,268.1 1567.5,392.4 1799.4,189.5 1686.6,275.8 1630.9,342 1705.9,250.5 1628.4,306.6 1794.1,181.9 1825.5,169.3 1793.2,180.6 1669.7,311.3 1669.6,296.5 1796.8,159.8 1810.7,157.8 1674.2,286 1717.8,252 1657,283.9 1627.8,354.5 1783.3,184.4 1726.7,236.5 1679.9,310.1 1660.6,309.5 1614.6,340.6 1574.4,388.8 1671.7,296.5 1745.7,178.3 1608.9,356.3 1779.6,202.7 1748.3,261.9 1773.1,203.4 1566.5,380.8 1791.8,190.8 1737.4,233.1 1757.7,201.2 1781,189.8 1756.3,205.8 1723.6,274.3 1556.8,390 1758.6,176.6 1629.9,347.1 1606.8,347.6 1537.8,410.9 1587.5,371.5 1804.1,174.7 1668.2,312.4 1752.7,204.8 1700.7,251.1 1761.3,231.6 1776.2,199 1615.7,379.6 1710.5,250.9 1573.9,389.8 1798.4,165.4 1609.8,358 1575.6,394.9 1532,413.1 1678.7,309.6 1657,303.9 1610.9,347.4 1790.1,197 1781.9,201.8 1758.9,223.1 1684.6,281.3 1579.8,374.9 1740.2,221 1563.6,385.7 1661.2,329.4 1713.5,274.4 1676.2,273.2 1747.6,233.6 1796.4,184.7 1617.1,325.9 1768,208.2 1644.4,319.4 1715.4,266.9 1796.9,176.7 1770.5,209.7 1773.1,194.9 1649.4,325.2 1695.6,286.4 1688.3,297.2 1745.5,233 1648.7,311.9 1750.6,229.9 1646.1,310 1751.9,242.5 1784.5,179.7 1701.2,288.6 1699.1,252.2 1749.8,221.2 1624.2,352.1 1621.1,347.3 1752,228.9 1733,235.3 1595.1,356.7 1579.4,376 1711.8,258.2 1705.6,290.2 1550.7,392.5 1653.9,316.8 1553.1,395.3 1708.7,237.8 1786.5,200.2 1762.2,217.7 1713.8,277.3 1770.6,215.6 1643.9,312.8 1564.3,389.5 1728.3,195.8 1581.5,380.6 1620,336.4 1824.3,158.2 1611.7,349.7 1629.2,354.9 1656.9,311.5 1583.2,384.8 1680.9,268.4 1798.6,162.5 1761,212.5 1605.6,354 1606.8,358.7 1650.3,318.4 1634.3,329.6 1616.3,314.8 1728.4,233.8 1688.3,288.6 1836,164.6 1721.3,237.1 1809.9,144.3 1636.1,321.3 1555.1,401.3 1721.7,220.4 1686.1,278.1 1723.6,245.3 1647,319.9 1653.8,291.6 1799.8,190.8 1697.8,289.6 1697.1,288.7 1702.5,250.3 1621.1,336.2 1668.8,295.3 1673.3,291.2 1640.3,330.3 1750.9,241.5 1712.4,267 1773.8,193.8 1609,370.6 1638.1,324.1 1579.1,381.3 1720.5,265.4 1726.6,236.4 1697,283.4 1616.3,317.9 1757.4,222.3 1710.9,301.8 1778.5,200.9 1763.9,210.5 1610.7,358.8 1662.2,320.8 1789,172.9 1691.9,303.6 1569.3,390.6 1637.4,339.9 1740.8,263.6 1844.5,138.4 1619,327.4 1623.8,318 1621.4,352.2 1671.2,309 1680.5,286.5 1573.5,384.6 1621.6,356.8 1782.6,162.6 1616.9,344.2 1577.3,376.2 1697,281.3 1666.6,284.1 1742,234.7 1579.3,375.8 1720,261.5 1626.4,342.1 1609.8,359.6 1613,338.1 1685.6,271.6 1587.6,366.5 1756.3,224.1 1766.4,171.5 1754.3,227.9 1541.6,404.2 1737.5,249 1619.6,328.9 1770,242.6 1684.9,291.3 1683.5,262.6 1649.5,333.5 1784.4,181.6 1655.2,274.3 1622.3,363.9 1681.1,294.7 1766.5,220 1637.7,317.3 1763.2,196.3 1664.7,277.3 1660.9,331.2 1685.3,283.6 1630.8,349.2 1688.1,296 1620.7,347.7 1568.7,372.4 1697.3,282 1753.3,217.8 1614,349.3 1763.5,191.7 1792.9,183.7 1682.1,295.8 1572.6,377.3 1680.4,286.3 1740.9,209.5 1678.1,299.4 1520.7,389.9 1759.7,171.6 1735.9,224.5 1628.9,309.4 1770.4,169 1710.5,282.3 1758.1,231.9 1740.1,205.7 1679.4,286.3 1637.7,330.1 1764.2,238.6 1651.1,312.6 1647.1,323.9 1810.6,183.2 1635.6,338.9 1695.8,267.5 1680.6,274.5 1782.7,172.2 1780.6,188.9 1800.6,166.6 1779.6,213.6 1704.7,250.5 1818.1,185.1 1762.9,232.1 1671.1,286.8 1740.1,226.1 1748.5,235.2 1718.6,266.1 1653.8,305.5 1751.7,236.7 1615.1,351.2 1749.6,207.3 1841.9,152.3 1734.8,229.3 1665.4,289.2 1754.6,218.8 1792.5,177.2 1706.9,261.7 1739.3,225.5 1822.9,161.9 1795.6,188.6 1645.3,327.2 1679.2,307.4 1815.8,152.7 1737.3,211.7 1754.7,227 1830.3,165.6 1617.9,346.7 1668.9,313.2 1767.4,187.4 1554.8,400.9 1634.7,306.2 1775.8,184.2 1675.3,295.9 1680.6,281.1 1769.2,165.7 1743.2,195.2 1610,357.9 1616,347.5 1680.6,283.7 1579.8,368.6 1637.4,328.4 1552.1,387.9 1610.7,356.3 1630.4,320.2 1643.3,336.8 1708.6,240.7 1699.2,245.6 1579.5,361.8 1753.5,217.5 1663.4,305.1 1739.6,254.9 1602.7,355.2 1655.1,316.5 1746.7,251.9 1663.6,307.1 1730.1,279.9 1654.9,300.4 1559.8,398.5 1777.7,202.1 1635.2,329.2 1776.4,154.4 1610.1,350.9 1665.8,295 1797.2,204.1 1549.7,394.9 1753.7,223.2 1587.4,372.2 1616.6,338.8 1647.1,305.3 1715.6,260.1 1657.1,337.3 1685.6,258.7 1556.7,394.8 1703.1,258.9 1702.4,280 1756.3,229.4 1817.7,147.7 1593,350.5 1710.4,258.6 1689.6,270 1600.3,351.6 1639.9,346.4 1682,278.1 1618.5,345.7 1555.7,406.3 1672.8,289.6 1754,189.9 1758.1,232.1 1701.8,294.4 1709.1,272.4 1637.7,340.5 1654.7,264.5 1622.5,331.7 1721.3,267.5 1679.1,292.4 1703.9,270.4 1535.1,392 1546.8,402.4 1646.1,333.5 1587.1,380.1 1732.2,227.8 1796.3,179 1675.2,275.8 1710.4,269.9 1702.5,254.5 1706.9,270.1 1605.6,346.7 1745.9,216.1 1767.4,185.9 1568.7,390.4 1612.3,349.3 1652.9,327.2 1789.4,199.1 1694.7,263.8 1645.6,319.1 1680.6,275.2 1579.3,382.2 1672.8,292.4 1780.9,207.9 1709.4,249 1742.5,226.6 1569.4,392 1536.2,402.4 1788.5,178.3 1645,321.9 1565.2,369.4 1784.4,201.1 1749.6,229.6 1604.5,346.7 1640.7,317.1 1632.5,340 1584.2,372.6 1741.2,242.6 1672.7,286.5 1613.9,346.6 1743.4,199.3 1682.3,278.7 1675.5,282.7 1537.8,400.8 1562.8,383.7 1717.2,270.4 1646.9,328.7 1725.5,238.3 1645.9,342.8 1685.1,287.3 1774.8,193.7 1781.3,154.5 1779.3,213.7 1784.6,172.4 1737.1,218.4 1650,316.8 1645.5,335 1761.8,207.9 1690.4,279.2 1712.5,266.9 1770.9,192.2 1605.6,351.4 1665.1,300.4 1719.1,240.1 1754,209.3 1760.2,226.5 1730.9,286.1 1710.9,247.3 1712.4,264.4 1588.4,367.8 1613.6,338.6 1581.6,380.5 1616.9,344.4 1654.4,322.3 1816.8,152.6 1700.3,271.7 1641.5,319.4 1577.3,372.4 1760.5,188.9 1681.8,308.1 1595.1,357.4 1622.7,331.3 1660.2,303.1 1819.3,163.7 1792.7,187.6 1695.7,289.6 1636.1,321.7 1649.5,316.6 1794.3,184.9 1709.6,252.9 1690.7,313.8 1734.3,257.9 1696,272.2 1703.1,257.8 1658.1,313.4 1624.6,365.9 1794.5,184.3 1753.3,224.3 1646.2,324.4 1724.1,275.3 1758.6,214.8 1801.4,176.8 1677.4,280.8 1632.5,326.7 1599.2,363.9 1688.7,284.8 1842,141.8 1604.2,362.2 1734.4,229.6 1742.1,222.1 1583.1,363.4 1644,299.1 1654.7,291.5 1594,376.5 1638.7,280.8 1707.1,260.6 1649.9,311.2 1632,339.4 1798.4,159.4 1791.1,186.2 1819.6,165 1712.5,247 1783,198.9 1721.5,219.9 1569.6,381.7 1614.1,338.9 1778,178.6 1701.3,268.2 1622,364.1 1792.7,173.3 1581.6,362.8 1783.7,179.4 1694.8,265.7 1614.5,347.6 1645.4,316.9 1539.3,413 1678.6,271.5 1653.5,294.9 1685.5,321.9 1780.8,209.2 1692.8,270.9 1727.8,224.3 1619.9,348 1549.3,393.2 1633.2,336.2 1794.3,166.8 1750,219.2 1605.3,355.3 1681.2,285.8 1799.3,172 1714.8,283.8 1812.4,171 1670.4,288.6 1733.1,287.2 1655,305.2 1810.3,159.7 1589.4,344.6 1678.1,297.3 1697.2,238.8 1670.7,307.8 1711.8,265.5 1727.1,240 1804.2,164.1 1625,344.3 1634.3,364.9 1636.5,345.3 1664.5,292.5 1703.6,308 1623,352.9 1659,304.1 1749.3,217.4 1687.5,299.3 1759.4,187.1 1678.1,297.2 1677.7,282.8 1731.9,205.6 1665.3,301.4 1603.9,343.9 1603.5,363.6 1660.5,313.8 1719.5,261.3 1829.3,146.3 1734.1,229.3 1708.7,275 1768.4,212.9 1613.6,326.5 1698.6,269.7 1706.3,255.4 1535.9,410 1614.6,332 1601.8,383.9 1558.1,396.2 1799.9,192.8 1795.4,160.4 1772.4,173.8 1532.5,416.1 1667.5,290.7 1731.9,211.6 1752.2,239.4 1765.2,154.9 1669.4,270.1 1673.5,297.6 1741.9,215.3 1708.6,248.4 1781.5,189.5 1589,376.3 1822.3,148.7 1697.2,298.7 1651.2,314.5 1644.5,312.5 1654.8,273.3 1685.2,278.3 1763.4,228.7 1830.7,164.5 1782.7,218.9 1637.9,329.2 1641.4,322.6 1647.1,325 1545.2,407.1 1653.9,316.4 1592.2,355.4 1587.2,376.1 1722.9,232.9 1717.4,236.2 1766,170.5 1644,318.2 1671,284.9 1690.4,283.6 1665.1,292.7 1822.4,155.9 1664.5,312.5 1724.3,243.1 1694.4,263.7 1797,201.1 1707,289.1 1696.9,286.5 1601.6,371.7 1608.8,354.8 1703.6,271.8 1774.1,200.4 1758.4,273.7 1640.4,320.2 1743.5,262.1 1692.1,292.3 1616.6,328.9 1615.8,348.1 1751.7,236.4 1694.1,285.9 1636.5,341.9 1648.1,315.2 1687.5,277.2 1710.6,261.6 1602.2,338.3 1599.6,364.2 1793.2,181.5 1632.9,322.4 1557.4,387.2 1779,163.7 1640.5,333.2 1787.7,176.5 1602.7,368.1 1691,279.7 1650.2,322.3 1745.9,233.6 1597.7,372.8 1662.7,294.3 1767,205.3 1586.3,355.3 1696.5,252.7 1650.2,301 1686.8,297.6 1692,262.3 1606.2,351.7 1780.2,198.2 1706,243.8 1817.6,163.3 1544,405.8 1580,376.7 1564.9,387.3 1578.7,384.8 1712.2,243.1 1759.1,255.7 1723.4,266.5 1601.4,357.8 1708.8,249.6 1646.7,336.1 1789.3,191.3 1770,210.1 1561,395 1742.1,228.6 1728,243.1 1735,225.2 1644.9,327.6 1764.6,193.7 1811.6,162.1 1683.5,264.8 1614.2,338.6 1760.2,226.5 1752.2,220.2 1542.1,401.8 1805.2,171.5 1794.5,174.9 1769.7,213.7 1607.8,374.6 1716.1,233.4 1679.8,258.2 1671.3,311.6 1617.4,334.6 1790.3,196.6 1741.4,218.8 1606.3,360.2 1544.7,404.4 1725,231.1 1786.7,180.2 1608.5,360.3 1804.6,162.2 1690.2,262.7 1715.9,264.1 1761.1,203 1689.3,272.8 1777,205 1725.7,236.2 1795.8,189.6 1650.4,307.8 1772.3,200.4 1767.8,204.1 1672.2,302.7 1619.7,315.9 1742.3,254.5 1665.5,303 1589.2,370.9 1718.3,233.6 1721,229.3 1808.7,158.4 1692.4,280.8 1692.8,223.6 1692.3,279.5 1626.8,308.2 1785.7,182.6 1772.2,198.4 1784.2,183.9 1658.4,315 1637.5,325.7 1787.2,195.8 1703,276 1810.7,141 1727,260.7 1645.6,319 1599.7,359.7 1651.6,307.7 1588.8,377.7 1548.7,392.8 1667.3,292.3 1716.1,271.6 1618,347.4 1710.2,260.1 1622.2,358.4 1684.5,306.4 1607.3,366.9 1653.7,326.9 1747.8,219.8 1728,258.6 1565.4,388.1 1774,213.6 1746.6,238.1 1657.1,314 1728.1,232.2 1782.6,179.1 1673.8,297.1 1762.6,223.5 1768.3,204.8 1741.8,248.3 1613.2,324.8 1782.2,193.9 1582.1,353.6 1624.4,318.1 1730.2,253.6 1682.7,252.8 1687.2,275.7 1802.6,177.1 1593.2,364.2 1604.5,313.8 1638.2,332.1 1771.6,191.2 1637.7,313 1657.9,315.9 1777.2,189.8 1751.2,219 1604.6,327.4 1722.3,239.3 1656.7,293.5 1771.5,217.1 1633.7,339.3 1764.7,246 1818,165.3 1666,299.1 1571.9,377.5 1643.7,316.8 1750.2,256.8 1540.3,407.2 1797.1,178.4 1777.4,197.1 1750,209.5 1615.4,318.5 1787.6,168.5 1715.7,252.9 1620.2,340 1596,362.2 1625.5,368.3 1766.2,187.7 1810.1,155.4 1617.1,354.9 1605.5,357.3 1747.9,237.5 1743.9,225.3 1771.1,178.1 1676.5,292.5 1786.3,165.8 1665.4,288.7 1590.3,368 1619.9,352.5 1749.2,213.3 1714.7,255.1 1768.5,193.8 1666.1,298.1 1708.3,271.5 1762.3,182.1 1815.9,147.6 1604,358.8 1711,264.5 1652.7,284.1 1611.3,345.1 1744.5,205.7 1744.3,216.8 1683.4,298.6 1580.5,374.4 1635.8,329.2 1764.8,199.4 1667.1,302.3 1614.8,361.5 1593.4,362.2 1582.3,366.9 1610.7,347.2 1647.7,322.8 1568.1,393.2 1723.7,244.5 1572,369.5 1672.1,312.8 1783.6,207 1763.4,209 1643.6,336.6 1794.3,155.5 1755.1,214.9 1735.5,244.1 1777.6,206.1 1773,196.9 1746.7,235.4 1750.9,224.6 1666.5,314.2 1685.8,292.1 1708.6,269.7 1744.6,208.8 1756,227 1753.4,208.9 1687.5,276.4 1692.1,276.6 1719.9,217.9 1702.3,297 1665.3,300.5 1742.9,219.6 1763.5,206.7 1703.8,270.4 1687.2,303 1790.1,198 1619.5,373.9 1779.4,232.5 1758.6,230 1649.2,319 1623.3,340.7 1578.3,388 1648.3,309.7 1570.1,374.5 1668,311.2 1693.3,294.2 1618.8,329 1700.6,293.5 1743.9,224.9 1652.9,308.8 1627.1,301 1814.7,153.6 1660.4,298.4 1785.5,175.9 1643.3,330 1732.9,246.6 1790,169.6 1563.1,393.1 1696.7,266.4 1825.9,169.5 1583.1,378 1651.8,316.3 1672.6,280.9 1700.1,263 1736.5,244.7 1646.7,326.9 1583.8,378.5 1726.8,242.9 1704.4,269 1729,221.8 1698.7,294.9 1563.1,392.8 1722,258 1639,336.5 1729.3,247.8 1616.2,352.7 1658.2,338.1 1582,378.8 1775.2,198.4 1729.2,235.1 1630.1,317.3 1681.4,296.4 1694.3,264.6 1627.4,323 1616.1,331 1750.5,222.3 1736.4,237.8 1714.6,238.7 1622.6,337.3 1657.2,314.3 1651.5,318.3 1603,355.8 1699.6,275 1623,330.8 1749.7,235.2 1678.9,294.9 1797.4,178.4 1679.6,289.1 1694.2,300.9 1578.1,376.4 1690.8,259.4 1694.5,295.2 1675.4,252.2 1590.7,384 1672.8,290.2 1725.1,240.4 1662.3,310 1786.7,178.2 1777.6,161.4 1676.1,287.8 1826.9,147.4 1761.2,245 1732.4,250.7 1628.1,320.4 1651.1,346.3 1810.3,168 1573.7,382.6 1635.5,327.9 1610.3,364.3 1697,294.2 1774,216.1 1577.7,368.2 1720.3,228.7 1765.4,216.8 1775.1,174.2 1654.9,292.9 1788,171.5 1736.7,267.7 1787.3,178 1722.5,257.6 1709.5,269.3 1638.7,334.2 1621.3,321.7 1800.1,191.6 1737.5,220.4 1625.3,333.3 1633.8,319.6 1764.1,205.4 1609.4,353.9 1708.8,250 1643.5,320.3 1794.7,210.2 1687.8,287.9 1785.1,190.9 1701.2,269.5 1782.6,176.4 1745.1,236.2 1610.9,352 1754,188.3 1571.6,366.1 1548.6,395.8 1802.7,171.2 1608.5,337.8 1718.7,253 1738.6,244.5 1695.2,260.4 1727.2,243.3 1651.7,313.6 1555.9,395.1 1672.5,290.4 1674.4,287.9 1575.9,363.7 1666.3,280.7 1656.9,318.1 1664.8,280.6 1756.9,208.2 1645.8,317.7 1720,261.3 1687.3,277.3 1584.1,378.3 1598,360.5 1738.8,247 1771,198 1627.7,271.8 1697.8,264.7 1723.3,242.2 1598.6,362.5 1644.6,280.2 1607,339.5 1561.8,385.5 1764.8,228.7 1636.8,294.6 1735,277.8 1818.4,156 1716.4,240.9 1662.2,272.9 1613.5,339.7 1696.4,275.6 1617.7,346.7 1712.4,281.3 1734.2,265.7 1641.7,325.1 1705.3,237.8 1774.1,197.2 1747.3,226.5 1739.6,228.4 1761.4,222.2 1775.5,203.7 1693.3,271.2 1766.4,196.6 1553.2,401.8 1657.7,315.9 1742.5,214.5 1647.2,300.7 1606.2,346.1 1711.2,259.3 1754.5,201.1 1748.6,215.8 1802.7,171.7 1720.3,249.4 1793.7,169.5 1760.2,235.7 1588.4,386.7 1562.8,394.1 1732.2,218.7 1555.5,388.2 1607.6,353.9 1724.5,257.2 1787.3,181.3 1746.2,203 1694.1,295.1 1791.9,178.5 1666.5,302.1 1760.7,208.1 1734.7,236.5 1624.1,347.3 1580.2,376.5 1636.2,339.7 1678.6,269.7 1605.7,348.9 1687.6,262.2 1550.1,396 1685.3,293.3 1726.2,279.3 1676.7,296.1 1776.3,210.8 1723.8,240.3 1620.7,321.7 1628.9,331.5 1784.4,204.3 1666.7,299.8 1684.9,273.4 1688.8,263 1591.6,366.5 1598.9,360.3 1675.5,266.4 1604.2,328.2 1668.3,280 1605,336.2 1721.8,235 1635.1,328.1 1677.4,297.1 1738.4,218.1 1764.7,232.3 1710.7,244.7 1807.1,161.8 1727.1,246.2 1576.6,366.8 1595.1,365 1615.4,343.5 1707.6,271.5 1693.4,278.2 1565.2,376 1661.4,314.9 1562.1,386.6 1661.3,280.9 1603.4,354.7 1787.4,199.5 1611.5,330.4 1634.6,317.9 1759.4,213.6 1574.4,370 1712.3,248.1 1675.5,277.8 1782.3,216.6 1634.7,339.8 1803,155.4 1751.9,219.4 1739.1,213.1 1715.3,258.9 1767.9,220.3 1584.3,367.4 1671.2,291 1553.3,397 1649.6,302.2 1644.6,337.9 1648.9,336.6 1639.7,297.4 1803.1,181.2 1712.7,268.9 1758.7,202.6 1700.7,264.8 1642.5,323.9 1774.7,207.9 1641.7,318.3 1754.7,220.4 1783.6,206.7 1661.6,307.6 1660.6,298.4 1605.5,351.5 1769.4,197.1 1827.7,148.9 1682.3,286.9 1749.1,203.3 1724.3,243.7 1769.7,229 1780.7,179.6 1755.4,229.3 1615.6,333.4 1749.4,207.8 1685.7,278.8 1705.3,267.9 1664.1,296.2 1610.2,348.3 1722.3,228.9 1700.8,249.2 1554.2,401 1743.3,222.7 1602.8,366.5 1623.2,350.7 1577,372.4 1635.3,327.9 1649.9,318.5 1660.9,298.6 1640.1,325.2 1699.8,311.1 1709.8,258.8 1635.2,312.6 1728.3,268.5 1621.6,337.1 1574.1,380 1672.9,268.5 1633.2,325.2 1761.5,238.3 1670.3,304.6 1614.8,323.3 1695.2,324.8 1540.7,406.4 1671.7,287.8 1594.7,350.4 1576.1,365.4 1733.3,260.5 1710.5,273.2 1801,192.3 1719.6,256.8 1768.2,188.8 1686.8,285.3 1754.5,250.5 1740.6,219 1676.6,299.6 1698.8,274.7 1609.5,350.1 1702.8,248.9 1787.7,161.4 1770,237.1 1791.7,182 1608.2,358.4 1762.2,189.4 1729.2,232.2 1734.3,240.3 1738.9,244.3 1629.8,324.8 1743.4,222.3 1672,281.2 1705.6,278.5 1621.1,342.3 1605.9,337.1 1540.6,395.3 1813.8,166.6 1759.9,231.3 1620.2,352.6 1594.2,341.1 1716.3,268.4 1711.4,245.6 1660.3,283 1681.9,280.6 1740.3,210.6 1652.3,295.7 1768.5,210.7 1672.8,324.8 1695.5,252 1826.5,162.7 1569.3,373 1571.6,391 1604.4,354.5 1580.1,362.4 1776.4,211.9 1665.1,320.7 1633.2,313.8 1611.8,357 1618.3,336.7 1701.1,275.2 1682.9,293 1666.2,296.4 1799.8,189.9 1734.1,259.5 1575.3,360.7 1660.6,311.9 1787.6,168.9 1716.6,245.6 1796.8,192.5 1793.1,168.7 1736.9,239.5 1631.6,332.5 1809.5,163.3 1672.3,290.9 1574.3,347.5 1782.5,183.1 1569.8,382.8 1690.1,253.6 1778.1,201 1675.9,304 1740.9,219 1637.1,326.2 1619.7,339.2 1584.4,374 1593.6,363.6 1813.4,160.4 1665.7,296.5 1806.8,160.5 1616.6,357.4 1635.6,311.9 1669.9,306 1568.6,381.2 1623.1,358.3 1615.9,327.4 1726.2,243.7 1761.5,231.1 1662.5,282.4 1678.3,294.4 1761.5,221.6 1584.6,384.4 1771.9,209 1589.2,356.7 1580.8,375.8 1689.9,286.3 1637.6,318.1 1767.4,217.5 1687.6,278.5 1718.1,251.9 1639.4,336.9 1637.4,326.4 1673.7,294.7 1752.7,215.3 1650.8,321.9 1652.6,317 1614.7,357.1 1821.1,163.7 1735.7,246.1 1722.5,270.5 1556.2,397.3 1722,249.1 1600.6,363.8 1751.8,196.9 1626,312.6 1719.5,234.3 1612.4,337.5 1734.9,246.7 1751,199.2 1810.1,179.7 1725.3,217.4 1738.6,217.3 1598,360.3 1621.2,362.7 1597.9,367.1 1719.2,224 1602.2,355.8 1656.7,314.5 1726.9,223 1674.2,288.8 1753.4,229 1647.5,339.8 1770,204.8 1772.1,219.2 1724,223.2 1593.2,366.4 1619.7,352.7 1623.2,341.6 1601.6,368.8 1556.2,396.8 1666.3,307.8 1699.6,253.9 1751.5,203.7 1674.6,287.3 1749.9,209.1 1704.7,260.9 1697.2,245.1 1539.3,410.6 1724.3,228.1 1618,349.6 1641.2,318.5 1557.3,397 1669.7,311.8 1732.8,230.9 1574.8,379 1760.7,208.1 1745.6,250.1 1721.2,276.8 1629.5,337.6 1554,395.2 1643.8,308.1 1762,247.2 1589.2,382 1737.2,216.8 1626,358.5 1756.5,228.2 1756,210.2 1633,328.1 1706.4,242.9 1648.5,292.2 1798.3,177.6 1661.8,332.1 1678.1,299.3 1747.3,208.7 1820.2,148.5 1757.3,237.8 1619.1,348.6 1748.1,247 1730.1,297.1 1824.8,151.5 1730.6,232 1594.2,347.7 1584.6,379.7 1575.2,381.2 1735.4,221.5 1763.8,207.8 1696.9,277.3 1729.5,251.6 1724.1,234.2 1680.2,274 1618.7,343 1751.2,235.5 1796.3,185.1 1657.3,285.8 1731.6,229.8 1629.7,328.4 1706.4,259.2 1796.4,159.8 1725.1,260.4 1677.9,286.8 1748.7,226.3 1580.4,374.4 1705.2,278.1 1692.7,271.1 1818.2,149.9 1798.7,160.7 1732.4,246.3 1631.8,316.3 1710.9,249 1655.7,328.7 1651.2,290.2 1789.8,210 1668.2,283 1626.4,328.7 1732,229.1 1635.7,327.5 1810.2,147.4 1718.4,251.3 1619.8,334 1703.8,270.7 1648,295.8 1653.2,301.4 1713.5,254 1647.7,324.7 1769.4,204.5 1702.1,257.2 1574.9,379.3 1680.4,277.5 1656.5,310.6 1788.1,175.2 1767.5,226.6 1705.4,279.8 1625.6,348.9 1673.8,277.1 1695.1,273 1589.7,367.2 1593,333 1734.3,241.2 1654.4,338.4 1650,310.2 1685.9,279.1 1593.7,352.8 1819.5,152.5 1632,341 1619.2,329.9 1561.9,381.9 1624,319.3 1604.7,347.6 1622.3,349.6 1688.4,272.6 1826.7,148.3 1669.5,298.1 1737.6,223.8 1563.4,385.6 1693,291.5 1647.5,327.8 1640.4,316.8 1670.3,316.2 1742.8,229.7 1656.8,296.5 1616.4,349.9 1664.6,328.1 1786.5,199.4 1837.6,142.4 1614,349.1 1635.9,331.8 1625.6,337.2 1707.9,284 1660.2,303.4 1737.7,238.5 1678.9,296.7 1617.2,346 1650.6,310.9 1661.6,309.4 1564.6,384.7 1666.3,298.4 1638.2,308.7 1590.7,367.1 1661.9,290.8 1797.7,170.2 1726.8,247.6 1795.8,193 1573.4,388.5 1568.9,360.9 1663.8,295 1645.2,317.2 1656.7,293.4 1832.1,151.9 1691,269.4 1777.7,178.3 1643.7,326.3 1723.3,226 1734.7,244.2 1807.8,171.4 1685.4,286.7 1739.9,243.8 1632.5,323.1 1771,207.4 1663.6,295.9 1744.2,229.2 1719,255.2 1620.2,347.4 1548.8,403.7 1556.6,388.7 1716.9,246.8 1684.4,268.9 1785.5,169 1606.7,329.4 1705,277.4 1700.9,268.8 1706.5,260.5 1634.4,317.3 1642.5,314.7 1531.6,402.6 1544.3,406.2 1764.9,215.8 1749.5,239.4 1714.5,273 1624.8,316.7 1621.9,359.5 1769.6,206.2 1582.6,391.4 1671.9,270.6 1741.9,246 1687.1,290.8 1680.3,273.3 1677.3,301.1 1652,333.9 1631.2,344.7 1677.6,281.8 1563.5,390 1683.3,269 1808.9,168.5 1609.7,373.9 1816.1,181.8 1759,220.7 1690.7,280.2 1683.1,280.2 1813.8,154.3 1669.6,282 1746.8,204.6 1719.9,239 1684,295 1721.6,234.2 1786.1,208.3 1740.4,230.5 1764.9,187.7 1607.8,343.5 1649,328.2 1792.3,151.9 1794.1,201 1778.9,156.3 1767.7,228 1638,307.3 1719.5,274.9 1681.4,271.9 1740.5,217.1 1704.5,252.5 1633.7,331.4 1682.2,303.3 1599.8,330.2 1616.6,337.7 1764.9,191.7 1568,384.3 1728.7,242.7 1632.7,351.9 1697.8,276.8 1637.7,324.8 1742.2,221.5 1696.7,285.9 1620.8,320.7 1795.5,176.2 1702,253.6 1534.9,411.5 1621.4,345.2 1643.7,311.1 1715.7,254.4 1576.7,371.5 1623.1,336.5 1667.9,282.3 1814.1,144.3 1751.7,183.4 1626.6,336.3 1780.2,177.2 1703.5,304.3 1659.2,310.7 1806.4,180.2 1694.9,285.5 1666.2,303.9 1740.8,222.2 1791.8,173.9 1698.6,257 1759.7,200.3 1807.9,154.5 1798,179.4 1767.5,218.1 1815.4,146.9 1744.9,200.4 1713.4,244.6 1618.1,342.2 1745.5,235.7 1755.2,204.8 1599.9,364 1641.3,337.5 1752.7,228.4 1798,182.4 1736.1,241.5 1651.3,298.6 1834.8,145.8 1731.3,246.9 1794,170.5 1663.5,271.1 1586.5,380.8 1696.9,247.6 1724.1,256.2 1740.9,213.7 1568.1,385.8 1796.1,169.2 1590.3,362.7 1738,239.2 1755.5,242.6 1533.3,404.1 1604.2,336.4 1544.7,394.7 1729,263.4 1688.3,268.2 1640.3,339.5 1659,326.8 1719.1,269.8 1707.9,271.8 1735.5,228.1 1524.2,415.7 1708,265.2 1753,218.1 1737,249.5 1679.7,247 1673.6,302.1 1547.8,399.9 1592.7,359.4 1542.7,407.5 1620.2,331.4 1745.6,218.9 1695.1,255.7 1781.4,199.7 1705.1,273.4 1610.2,348.8 1643.2,310.7 1628.4,342.9 1828,176.7 1771.9,213 1746,234.2 1578.6,376.1 1848.9,143.5 1596.1,352.1 1747.6,224.5 1624.9,337 1778.5,233.5 1643.6,334.9 1785.1,190.3 1763.4,207.9 1628.4,313.6 1740,245.1 1806.7,193.7 1709.4,255.1 1625.9,332.7 1592.7,370.6 1788,195 1541.4,396.9 1776.2,178.5 1723.2,239.2 1622.4,326.6 1660.2,279.6 1590.2,302 1646.2,315.1 1732.5,244.6 1725.6,242.4 1693.1,262.7 1642.1,339.8 1633.1,323.6 1647.2,307.3 1670.8,302.1 1797.6,182.6 1769.5,203.5 1829.7,149.1 1649.2,298.7 1569.1,388.2 1569.3,391.5 1700.1,269.7 1599.6,367.2 1737.7,250.2 1666.5,308.3 1638.2,309.6 1647.7,306.5 1808.5,154.7 1751.4,221.6 1740.6,247.8 1799.9,198.5 1684.8,290.3 1609,356.1 1560.7,389 1668.4,311.4 1774.6,213.1 1798.2,173.9 1748.3,197.1 1572.4,390.1 1784.7,199.1 1636.2,330.9 1816.7,168.1 1821.6,194.8 1682.8,267.6 1611.3,310.5 1762.3,196 1725,232.2 1727.7,217.5 1625.5,330.9 1784.4,200.6 1618,328.1 1838.9,154.8 1577.2,378.7 1669.9,296.5 1773.9,212.9 1640.5,316.9 1624.5,327.6 1748,221.8 1746.6,226.5 1729.6,230.2 1612.4,338.6 1705.8,278.8 1668.5,296.1 1785.5,197.3 1722,245.2 1562.4,381.5 1640.5,310.6 1610.1,341.2 1796.3,176.1 1804.8,166 1708,253.9 1808.8,166.8 1789.7,184.5 1587.8,383 1779.4,201 1805.6,171.7 1647,310.1 1639.5,323 1636.5,330.8 1773.5,163.5 1581.7,352 1607.5,346.9 1750,228.5 1620.2,323.5 1584.8,354.4 1672.1,288.5 1826.3,140.8 1719.1,266.2 1736.2,281.4 1615.1,323.5 1760.8,223.8 1658,338 1734,221.5 1659.8,317 1770,177.7 1595.4,347.6 1625.7,323.1 1694.4,259.1 1763.5,228.5 1574.4,378.2 1566.5,380.8 1581.1,367.2 1723.6,248.6 1624.5,354.8 1785.7,174.6 1799.6,173.8 1615.5,344.8 1764.8,198.5 1620.7,346.1 1778.7,163.7 1729.2,251.9 1771.7,199.6 1668.9,314.5 1835.6,141.7 1755.5,232 1660.9,287.2 1655,299.5 1747.9,237.4 1758.7,194.9 1586.5,370.4 1566.5,385.6 1673.1,290.8 1774.3,176 1597.1,352.6 1764.4,202.8 1781.6,174.1 1630.1,324.3 1772.9,211 1647.3,298.1 1596.3,342.4 1614.5,357.9 1763.3,205.4 1541.4,406.5 1796.7,176.5 1579.6,375.2 1775,195.1 1822.1,152.9 1694.7,275.8 1765.6,219.4 1699.2,276.2 1727.3,220.6 1602.8,357.5 1581.1,376.5 1635.8,334.7 1805.5,166.2 1714.4,262.6 1654.4,311.3 1602.9,353.3 1758.4,218.6 1711.9,247.3 1733.7,239.2 1822.7,162.3 1669.6,294.9 1667.6,327.9 1675.6,290.4 1648.7,297.1 1573.8,392.5 1561.3,385.2 1617.8,346.2 1748.6,233.8 1661.7,301.7 1785.1,224.6 1686.2,294.6 1729,198.7 1676.1,323.7 1585,375.7 1595.9,379.6 1759.2,222.2 1641.3,319.5 1756.6,217.4 1577.1,364.4 1758.1,205 1716.6,249.8 1716.9,252.9 1733.5,247.1 1726.1,208.9 1766.2,238.1 1654,317.6 1795.7,209.1 1525.8,419.6 1747.8,213.8 1574.3,385.6 1696.7,274.3 1723.9,260.4 1718.6,255.6 1824.4,160.5 1574.5,380.8 1688.8,282.1 1710.7,303.6 1602.7,330.5 1668.4,299.2 1699.5,251.3 1648.1,308.8 1635.2,306.7 1702.2,238.5 1555.3,392.6 1558.2,397.3 1730.4,254.1 1739,245.6 1705.1,231.6 1667.8,287.1 1714.6,258.6 1652.7,315 1593.8,362.5 1627.5,354.3 1604.9,333.9 1796,167.8 1659.2,312.6 1633,309.5 1558,393 1653,349.7 1691.4,240.5 1778.4,151.8 1700.7,265.3 1807.4,167.7 1656.1,305.8 1643.8,319.2 1621.6,336.8 1716.4,234.5 1700.9,241.3 1760.3,214.4 1624.1,302.4 1648.5,318.9 1653.8,308.7 1730.6,228.4 1736.9,244.4 1761.4,196.7 1796.3,176.4 1697.3,268.2 1647.7,325.7 1687.4,270.7 1688.1,246.7 1543.7,396.2 1719.7,255.7 1592.2,383.2 1663.6,321.6 1654.2,296 1652,302.4 1675.2,303 1571.8,388.4 1663.8,286.3 1723.7,236.8 1687.7,255.3 1577,363.7 1649.3,327.4 1755.5,258.8 1660.1,307 1608.6,331.2 1583.7,368.2 1760.9,185.3 1705.9,238.2 1743.8,237.5 1623.7,341.5 1822.6,168.3 1735.7,224.1 1718.6,260.6 1634.9,344 1610.5,361.3 1683,293.2 1729.2,252.9 1676.8,269 1599.1,358.5 1665.6,305.3 1720.5,251.2 1782.3,193.6 1751.2,227.8 1639.1,312.2 1632.2,317.7 1569.5,387.8 1657.8,323 1630.2,361.4 1568.9,364.5 1762.3,201 1708.2,251.8 1752.4,232.8 1585.5,359.1 1630,337.1 1569.5,371.4 1751.7,207.2 1623.5,342 1688.3,260.4 1718.7,260 1562.8,390.9 1566.2,324.8 1632.7,328.1 1586,375.8 1559.8,399.2 1826.1,163.4 1722.9,251.9 1643.3,310.3 1679.5,276 1595.9,353.5 1760.1,191.8 1751.5,238.5 1772.4,207.3 1606.8,358.2 1702.7,244.1 1602.8,353.8 1667.4,291.7 1714.1,255.2 1570.1,380.5 1631,331 1608.7,354.1 1806.8,168 1649.6,328.1 1792.4,186 1564.5,388 1571.9,381.4 1730.8,246.6 1629.6,317.8 1576.5,378.1 1690.9,297.1 1643.3,316.3 1735,224.7 1607.7,362.8 1759.5,221.5 1759.8,210.9 1638.1,325.1 1793,167 1600.7,338.3 1676.3,279.8 1760.1,223.2 1747.1,224.9 1613.5,353.4 1605.6,364.5 1589.1,385.3 1742.2,195.1 1649.2,303.4 1744.2,231.4 1730.3,256 1760.4,194.3 1588.6,371.2 1757.5,213.3 1753.9,207.2 1705.8,272.9 1660.3,319.3 1791.8,192.3 1656,320.1 1705.7,266.5 1603.8,358 1639.3,342.1 1786.2,178.9 1638.6,330.7 1680.2,281.8 1612.1,352.9 1639.2,315.7 1736.4,232.6 1764.8,196.1 1818.4,151 1714.4,270.6 1733.7,260 1743.3,241.3 1635.8,321.5 1587.7,370.8 1615.3,349 1611.9,359.5 1624.2,348.8 1635.9,328 1756.7,242 1665.1,313.7 1763.7,188.9 1780.5,191.9 1755.4,221.8 1625.3,342 1614.5,342.4 1715,279.2 1674.6,294.9 1753.4,213.4 1600.4,356.1 1571.5,383.7 1732.2,215.3 1638.8,337.3 1700.8,284 1810.8,161 1626.4,333.8 1745.7,265.7 1724.1,281.2 1720.1,265.8 1648,330.6 1575.9,355.7 1665.1,296.1 1559.5,390 1608.3,316.6 1759.4,196.1 1618.7,345.8 1698.8,275 1630.3,317.3 1559,399.3 1755.3,209.8 1644.8,309.8 1680.2,286.5 1646,303.6 1640.7,314.2 1788.7,175.4 1778,197.6 1644.5,284.1 1581,372.5 1749.8,206 1727.6,233.4 1767.8,193.4 1671.2,307.2 1779.4,211.5 1615.5,354.5 1672.7,306.6 1696.2,263.6 1652.3,306.2 1762.8,231.5 1595.5,367 1624.8,314.5 1640.4,314.6 1829.8,150.5 1700.6,276.3 1698.7,274.4 1594.9,350.5 1717,241.3 1579.2,376.2 1594.7,371.8 1586.5,379.2 1716.1,260.3 1706.6,275.4 1613.1,333.6 1554.6,399.6 1636.6,335 1757.7,183.7 1770.3,178.6 1685.7,292 1592.7,355 1644.9,320.6 1741.9,228.6 1789.9,169.6 1737.4,227.8 1682.2,265.6 1597.1,386.8 1693.1,284 1745,232.5 1785.6,192.3 1641.4,312 1722,270.3 1691.3,256.3 1608.3,351.2 1640.5,321.4 1659.9,307.4 1615.7,327.8 1611.8,324.6 1744.4,227.3 1801.5,164.9 1725.9,243.4 1694,236 1762.8,209.4 1647.3,287.3 1672,296.4 1622.5,329.8 1645.9,325.2 1618.8,337 1524.8,418.8 1752.8,219.8 1770.7,187.3 1669.2,303 1615,343.5 1755.4,219.9 1722.4,253.6 1768.9,209.9 1681.6,284.4 1708,266.8 1681.2,282.2 1802.2,154.8 1767.8,193.9 1684.5,266.3 1639.8,324.9 1666.4,285.2 1616.5,352.5 1682.4,303.8 1675.7,275.2 1738.4,249.2 1669.1,293.4 1774.4,190.2 1794.9,191.5 1719.8,261.7 1768.4,175 1650.8,317.5 1626.8,318.9 1665.2,296.7 1613.3,350.1 1717.8,231.2 1761,236 1745.2,246.9 1768.4,221.3 1634.7,332 1768.3,224.9 1584.1,378.3 1550.6,401.3 1815.9,151.8 1580.8,371.1 1613.3,344.3 1598.2,358.3 1801.3,165.1 1751.6,186.1 1707.3,259.5 1735.3,232.9 1581.5,354.3 1679.9,270.6 1713.8,232.1 1746.1,226.1 1683.1,276 1703,273.8 1644.3,316.9 1764.9,220.8 1713.7,271.2 1581.9,375.7 1749.8,229.1 1811.7,169.6 1588,360.7 1839.6,137.3 1577.7,379.5 1685,279.4 1703.2,255.5 1713.5,265.8 1524.3,416.8 1810.6,178.1 1638.7,309.2 1715.3,239.3 1545.1,403.1 1700.7,273.3 1588.1,358.4 1808.7,175.6 1729,212.9 1720.7,253.2 1643.2,329.4 1825,174.8 1778,170.5 1725.2,243 1648.4,351.8 1651.5,319.7 1727.2,242.9 1616.2,332.8 1800.8,184.8 1788.1,179.5 1701.3,259 1677.7,303.6 1710.7,275 1719,239.2 1833.7,142.1 1671.9,294.1 1539.4,403.4 1708.6,262.2 1711.3,231.5 1705.8,271.3 1715.9,237.8 1794.6,167.3 1721,251.9 1672.3,272.5 1751,210.6 1662,322.4 1818.3,147.8 1768.2,220.9 1771.3,209.4 1732.5,220.4 1796.2,197.6 1715.4,254.9 1564.8,381.8 1531,412.6 1580,350.2 1585.6,369 1699.7,270.7 1673.6,294.5 1699.9,278.7 1658.6,303.7 1631.1,332.1 1773.8,165.1 1769.8,213 1698.9,275 1821,142.1 1601.2,303.1 1719.9,280.8 1730.1,241.7 1807.2,161.7 1704.1,241.9 1691.1,234.4 1755.8,167.7 1685.8,307.6 1655.4,315.3 1638.4,321.5 1715.9,254.3 1737,223.7 1701.1,264.1 1663.1,301.1 1589.7,370.7 1610.1,342.4 1677.3,279 1744.3,224.9 1713.9,247.3 1691.9,279.3 1677.7,261.1 1638.9,334.4 1796.8,198.1 1558.7,389.7 1584.9,377.2 1595.5,367.1 1702.2,296.1 1689.2,276.4 1761.6,198 1626.9,332.7 1724,251.2 1767.3,207.3 1675,269.3 1653.2,322.3 1689.4,277.5 1659.3,313 1580.6,374 1599,374.6 1687.2,283.9 1717.3,250.8 1785.3,182.3 1746.3,225.3 1614.9,362.4 1727.9,257.8 1703.4,250.8 1729.1,235.4 1731.9,240.4 1772.5,161.5 1618.6,355.8 1652.2,314.1 1811.1,183.9 1685,261.4 1643.5,338.1 1655,307.1 1669.9,259.1 1707.4,234.7 1737.6,215.5 1758.5,207 1655.4,259.8 1714.2,254.5 1609.1,344.2 1757.1,219.6 1658.6,294.9 1550,397.4 1672.3,313.8 1746.7,219.3 1765.6,216.2 1695.7,278.3 1642.1,314.7 1634.9,325.9 1637,313.2 1642.5,331.5 1598.4,343.3 1766.4,191 1736.7,230 1552.7,396.4 1728.7,248 1567.9,384 1570,391 1677.7,299.1 1655.9,293.1 1576.3,378 1787.7,189.2 1728.8,234.7 1667.9,318.9 1751.7,249.6 1687.1,287.3 1582.4,369.4 1664,305.4 1550.9,398.7 1646.5,325.7 1800.3,149.2 1631.2,327.6 1734.2,227.2 1734.6,233.9 1759.5,214.8 1580.5,382.2 1694.3,306.7 1610.8,353.2 1782.5,186.2 1649.2,296.2 1632.4,327.3 1830.1,153.4 1527.9,414.3 1719.5,271 1802.1,183.2 1644.6,311.5 1601.6,348.7 1756.5,220.2 1679.3,291.3 1694.7,266.4 1685.6,280.5 1772,212.4 1703.4,278.7 1658.6,288 1713.9,251.8 1606.3,351.1 1795.2,173.8 1602.8,357.3 1625.7,344 1729.5,245.2 1624.5,290.9 1731.3,267.4 1642,316 1630.8,327.9 1584.2,360.6 1719.5,244.6 1690.5,264.4 1757.7,232.6 1694.6,267.5 1681.3,289.9 1702.8,281.6 1815.6,169.3 1757.8,205.1 1651.1,320.6 1616.2,328.8 1791.5,198.5 1773.1,167.9 1776.4,204.1 1733.2,236.6 1811.6,165.6 1606.7,335.1 1816.8,189.1 1712.7,261.4 1760.6,230 1697.5,278.9 1712.8,253.3 1839.2,143 1619,345.2 1648.3,324.9 1734.1,222.5 1724.4,235.2 1679,295 1734.7,230.3 1591,359.8 1826.4,169.9 1629.5,333.4 1579.1,381 1748.7,216.8 1603.6,358 1755.1,202.3 1586,370.9 1573.1,367.1 1724.9,258.8 1526.2,412.6 1570.1,358.6 1731.9,248.7 1678.8,284.7 1618.4,321.4 1705.5,270.7 1660.1,316.2 1702.2,289.5 1681.1,288.6 1733,244.6 1566.6,387 1792.1,179.4 1778.2,148.2 1705.1,233.4 1750.8,185.1 1715.9,256 1547.4,401.7 1618,347.1 1651.2,303.8 1718.9,227.1 1670.8,293.1 1753.5,189.3 1547.1,402.8 1647.6,302.7 1778.4,218.7 1570.1,379.1 1586.8,374.8 1652.6,322.4 1578.7,364.8 1694.7,240.7 1825.6,150.1 1816,156.2 1530.7,416.1 1777.8,182.2 1760.5,197.8 1710.9,255 1671.2,302.7 1658.6,310 1576.5,367.6 1586.6,364.9 1692.9,294.8 1624.6,322.5" fill="none" stroke="none" marker-start="url(#m)" marker-mid="url(#m)" marker-end="url(#m)"/>
<path d="M1616.5,343.5 1620.5,340 1624.5,336.5 1628.5,332.9 1632.5,329.3 1636.5,325.8 1640.5,322.2 1644.5,318.6 1648.5,315 1652.5,311.4 1656.5,307.8 1660.5,304.2 1664.5,300.6 1668.5,296.9 1672.5,293.3 1676.5,289.7 1680.5,286 1684.5,282.4 1688.5,278.7 1692.5,275 1696.5,271.4" fill="none" stroke="#000" stroke-width="1.7"/>
<path d="M1616.5,343.5 1620.5,340 1624.5,336.5 1628.5,332.9 1632.5,329.3 1636.5,325.8 1640.5,322.2 1644.5,318.6 1648.5,315 1652.5,311.4 1656.5,307.8 1660.5,304.2 1664.5,300.6 1668.5,296.9 1672.5,293.3 1676.5,289.7 1680.5,286 1684.5,282.4 1688.5,278.7 1692.5,275 1696.5,271.4" fill="none" stroke="#000" stroke-width="3" stroke-dasharray="3 4.9" transform="translate(-1,-1)"/>
<path d="M1519.6,421.9 1523.7,418.9 1527.8,415.8 1531.8,412.8 1535.9,409.8 1540,406.8 1544.1,403.7 1548.2,400.6 1552.2,397.5 1556.3,394.4 1560.4,391.2 1564.5,387.9 1568.5,384.5 1572.6,381.1 1576.7,377.6 1580.8,374.1 1584.9,370.5 1588.9,366.9 1593,363.3 1597.1,359.8 1601.2,356.3 1605.3,352.9 1609.3,349.6 1613.4,346.2 1617.5,342.6" fill="none" stroke="#000" stroke-width="3"/>
<path d="M1695.5,272.3 1699.5,268.6 1703.4,265 1707.4,261.3 1711.3,257.7 1715.3,254.1 1719.2,250.4 1723.2,246.8 1727.1,243.1 1731.1,239.5 1735.1,236.1 1739,232.3 1743,228.4 1746.9,224.6 1750.9,220.7 1754.8,216.8 1758.8,212.9 1762.8,209 1766.7,205.1 1770.7,201.3 1774.6,197.4 1778.6,193.6 1782.5,189.7 1786.5,185.9 1790.4,182.2 1794.4,178.4 1798.4,174.7 1802.3,171.1 1806.3,167.5 1810.2,164 1814.2,160.6 1818.1,157.1 1822.1,153.8 1826.1,150.4 1830,147.1 1834,143.8 1837.9,140.5 1841.9,137.2 1845.8,133.9 1849.8,130.7 1853.7,127.4 1857.7,124.1" fill="none" stroke="#000" stroke-width="3"/>
<rect x="1500.6" y="27.5" width="436.9" height="435.9" fill="none" stroke="#000" stroke-width="2.7"/>
<path d="M1500.5,463.4v7.5M1500.5,27.5v-7.5M1522.5,463.4v4.3M1522.5,27.5v-4.3M1544.5,463.4v7.5M1544.5,27.5v-7.5M1566.5,463.4v4.3M1566.5,27.5v-4.3M1587.5,463.4v7.5M1587.5,27.5v-7.5M1609.5,463.4v4.3M1609.5,27.5v-4.3M1631.5,463.4v7.5M1631.5,27.5v-7.5M1653.5,463.4v4.3M1653.5,27.5v-4.3M1675.5,463.4v7.5M1675.5,27.5v-7.5M1697.5,463.4v4.3M1697.5,27.5v-4.3M1719.5,463.4v7.5M1719.5,27.5v-7.5M1740.5,463.4v4.3M1740.5,27.5v-4.3M1762.5,463.4v7.5M1762.5,27.5v-7.5M1784.5,463.4v4.3M1784.5,27.5v-4.3M1806.5,463.4v7.5M1806.5,27.5v-7.5M1828.5,463.4v4.3M1828.5,27.5v-4.3M1850.5,463.4v7.5M1850.5,27.5v-7.5M1871.5,463.4v4.3M1871.5,27.5v-4.3M1893.5,463.4v7.5M1893.5,27.5v-7.5M1915.5,463.4v4.3M1915.5,27.5v-4.3M1937.5,463.4v7.5M1937.5,27.5v-7.5M1500.6,463.5h-7.5M1937.5,463.5h7.5M1500.6,441.5h-4.3M1937.5,441.5h4.3M1500.6,419.5h-7.5M1937.5,419.5h7.5M1500.6,398.5h-4.3M1937.5,398.5h4.3M1500.6,376.5h-7.5M1937.5,376.5h7.5M1500.6,354.5h-4.3M1937.5,354.5h4.3M1500.6,332.5h-7.5M1937.5,332.5h7.5M1500.6,310.5h-4.3M1937.5,310.5h4.3M1500.6,289.5h-7.5M1937.5,289.5h7.5M1500.6,267.5h-4.3M1937.5,267.5h4.3M1500.6,245.5h-7.5M1937.5,245.5h7.5M1500.6,223.5h-4.3M1937.5,223.5h4.3M1500.6,201.5h-7.5M1937.5,201.5h7.5M1500.6,180.5h-4.3M1937.5,180.5h4.3M1500.6,158.5h-7.5M1937.5,158.5h7.5M1500.6,136.5h-4.3M1937.5,136.5h4.3M1500.6,114.5h-7.5M1937.5,114.5h7.5M1500.6,92.5h-4.3M1937.5,92.5h4.3M1500.6,71.5h-7.5M1937.5,71.5h7.5M1500.6,49.5h-4.3M1937.5,49.5h4.3M1500.6,27.5h-7.5M1937.5,27.5h7.5" fill="none" stroke="#000" stroke-width="1"/>
<g class="tl">
<text transform="translate(1500.8,494) scale(0.92,1)" text-anchor="middle">0</text>
<text transform="translate(1543.7,494) scale(0.92,1)" text-anchor="middle">100</text>
<text transform="translate(1587.4,494) scale(0.92,1)" text-anchor="middle">200</text>
<text transform="translate(1631.1,494) scale(0.92,1)" text-anchor="middle">300</text>
<text transform="translate(1674.8,494) scale(0.92,1)" text-anchor="middle">400</text>
<text transform="translate(1718.5,494) scale(0.92,1)" text-anchor="middle">500</text>
<text transform="translate(1762.2,494) scale(0.92,1)" text-anchor="middle">600</text>
<text transform="translate(1805.9,494) scale(0.92,1)" text-anchor="middle">700</text>
<text transform="translate(1849.6,494) scale(0.92,1)" text-anchor="middle">800</text>
<text transform="translate(1893.3,494) scale(0.92,1)" text-anchor="middle">900</text>
<text transform="translate(1936.6,494) scale(0.92,1)" text-anchor="middle">1000</text>
<text transform="translate(1483.7,470) scale(0.92,1)" text-anchor="end">0</text>
<text transform="translate(1482.8,426.4) scale(0.92,1)" text-anchor="end">100</text>
<text transform="translate(1482.8,382.8) scale(0.92,1)" text-anchor="end">200</text>
<text transform="translate(1482.8,339.2) scale(0.92,1)" text-anchor="end">300</text>
<text transform="translate(1482.8,295.6) scale(0.92,1)" text-anchor="end">400</text>
<text transform="translate(1482.8,252) scale(0.92,1)" text-anchor="end">500</text>
<text transform="translate(1482.8,208.5) scale(0.92,1)" text-anchor="end">600</text>
<text transform="translate(1482.8,164.9) scale(0.92,1)" text-anchor="end">700</text>
<text transform="translate(1482.8,121.3) scale(0.92,1)" text-anchor="end">800</text>
<text transform="translate(1482.8,77.7) scale(0.92,1)" text-anchor="end">900</text>
<text transform="translate(1482.4,34.1) scale(0.92,1)" text-anchor="end">1000</text>
</g>
<text class="at" x="1723" y="511.7" text-anchor="middle">Observation [J/m<tspan class="sup" dy="-6.8">2</tspan><tspan dy="6.8">]</tspan></text>
<text class="an" x="1733" y="67.8" text-anchor="middle">Uccle</text>
<text class="an sz" x="1735" y="94" text-anchor="middle">SZA<tspan class="sub" dy="5.3">N</tspan><tspan dy="-5.3">&lt;45</tspan><tspan class="deg" dy="-6.8">o</tspan></text>
<text class="cap" x="1736.6" y="565.5" text-anchor="middle">(<tspan class="b">f</tspan>)</text>
</g>
</svg>
</body>
</html>
